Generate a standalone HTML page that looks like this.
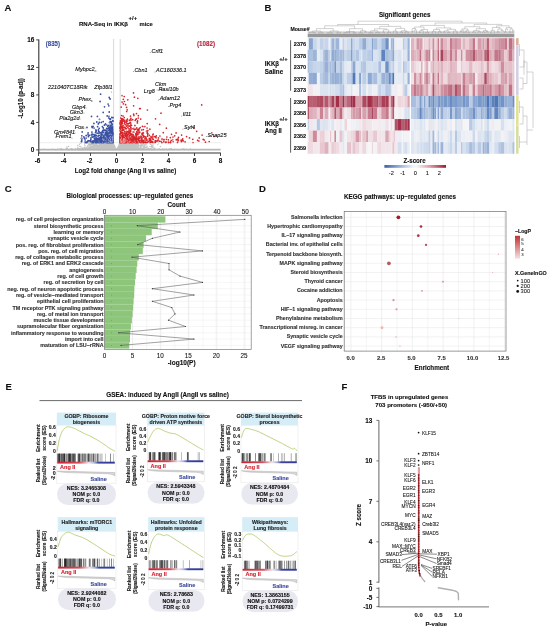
<!DOCTYPE html>
<html><head><meta charset="utf-8"><style>
html,body{margin:0;padding:0;background:#fff;}
svg{display:block;font-family:"Liberation Sans", sans-serif;filter:blur(0.3px);}
</style></head><body>
<svg width="550" height="631" viewBox="0 0 550 631" font-family='"Liberation Sans", sans-serif'>
<rect width="550" height="631" fill="#fff"/>
<text x="4.5" y="11.0" font-size="9.5" font-weight="bold" text-anchor="start" fill="#111" stroke="#111" stroke-width="0.12">A</text>
<text x="79.0" y="25.9" font-size="6.22" font-weight="bold" text-anchor="start" fill="#111" stroke="#111" stroke-width="0.12" textLength="49.0" lengthAdjust="spacingAndGlyphs">RNA-Seq in IKKβ</text>
<text x="128.6" y="19.9" font-size="6.2" font-weight="bold" text-anchor="start" fill="#111" stroke="#111" stroke-width="0.12" textLength="8.7" lengthAdjust="spacingAndGlyphs">+/+</text>
<text x="139.5" y="25.9" font-size="6.01" font-weight="bold" text-anchor="start" fill="#111" stroke="#111" stroke-width="0.12" textLength="13.3" lengthAdjust="spacingAndGlyphs">mice</text>
<line x1="113.6" y1="39.0" x2="113.6" y2="151.0" stroke="#c8c8c8" stroke-width="0.7"/>
<line x1="120.2" y1="39.0" x2="120.2" y2="151.0" stroke="#c8c8c8" stroke-width="0.7"/>
<line x1="39.5" y1="142.7" x2="220.5" y2="142.7" stroke="#cfcfcf" stroke-width="0.7" stroke-dasharray="1 1"/>
<rect x="39.50" y="148.80" width="181.00" height="1.80" fill="#c9c9c9"/>
<path d="M112.8 145.8h0M123.8 149.7h0M103.2 149.8h0M113.4 147.4h0M131.3 149.7h0M120.1 149.6h0M92.7 149.5h0M128.7 149.0h0M92.3 146.4h0M91.6 147.8h0M120.9 143.8h0M115.8 149.7h0M120.9 148.4h0M122.1 144.2h0M124.5 145.9h0M133.6 148.0h0M111.6 149.8h0M115.0 149.5h0M110.1 148.4h0M102.8 146.3h0M104.9 144.4h0M120.0 145.4h0M117.2 149.3h0M135.2 143.6h0M115.0 146.8h0M104.8 149.5h0M95.6 149.4h0M128.3 147.1h0M137.1 144.7h0M121.7 146.4h0M125.3 145.4h0M107.8 146.2h0M102.7 144.0h0M108.9 142.9h0M95.7 149.8h0M119.9 145.5h0M89.3 144.2h0M80.5 148.6h0M100.5 149.9h0M130.5 147.3h0M120.0 149.8h0M122.7 144.7h0M123.9 147.9h0M124.3 143.7h0M130.2 146.6h0M124.1 143.5h0M128.5 148.6h0M90.6 147.7h0M97.8 142.8h0M139.5 149.4h0M121.1 148.9h0M125.8 147.2h0M107.0 149.9h0M110.6 147.7h0M103.9 142.8h0M130.0 145.4h0M96.8 145.5h0M114.6 149.8h0M136.6 143.6h0M101.8 144.4h0M105.2 149.6h0M125.5 145.9h0M121.4 149.1h0M118.5 149.6h0M114.0 149.9h0M120.5 149.4h0M127.4 149.9h0M124.6 143.6h0M110.4 148.8h0M111.2 148.2h0M111.7 143.9h0M122.0 142.4h0M100.4 149.7h0M120.0 149.6h0M110.3 144.1h0M125.9 149.3h0M151.2 146.8h0M121.6 149.4h0M113.3 147.1h0M115.6 148.1h0M130.9 148.7h0M99.8 148.0h0M128.7 146.8h0M137.8 144.6h0M111.6 144.3h0M125.4 142.5h0M132.1 144.2h0M95.8 144.9h0M119.0 148.6h0M133.6 149.8h0M127.9 148.8h0M118.5 147.3h0M131.5 143.0h0M112.3 142.5h0M129.6 149.0h0M112.7 149.0h0M119.7 146.4h0M125.6 143.4h0M125.3 145.7h0M102.7 144.4h0M134.6 143.3h0M127.2 144.5h0M116.5 149.9h0M100.2 144.5h0M103.8 142.6h0M138.8 147.8h0M88.3 145.1h0M136.6 149.3h0M122.2 143.3h0M122.4 144.3h0M132.7 142.5h0M137.8 145.7h0M105.9 149.5h0M131.1 149.9h0M136.9 146.8h0M112.7 143.0h0M90.0 144.1h0M128.2 149.0h0M116.4 149.9h0M128.4 146.3h0M115.6 149.8h0M131.4 143.3h0M106.9 146.3h0M129.1 143.3h0M88.4 147.0h0M131.8 146.8h0M113.8 148.1h0M116.1 149.8h0M142.1 149.3h0M117.1 149.4h0M113.7 148.7h0M98.5 146.9h0M93.0 149.6h0M108.0 146.5h0M116.6 149.7h0M128.0 147.0h0M94.1 143.2h0M107.4 147.5h0M103.6 146.9h0M105.5 145.4h0M99.6 147.2h0M121.7 142.9h0M107.3 142.9h0M88.7 148.8h0M84.6 144.0h0M104.0 149.4h0M127.7 149.7h0M127.2 148.9h0M135.6 144.5h0M125.9 143.4h0M129.3 145.7h0M135.2 149.4h0M144.2 149.0h0M91.4 142.8h0M103.2 142.4h0M126.4 144.0h0M124.5 146.9h0M129.4 148.2h0M120.7 145.1h0M128.3 149.9h0M102.0 149.9h0M111.4 148.3h0M104.3 149.7h0M104.5 142.5h0M125.6 149.6h0M79.4 148.7h0M140.6 148.7h0M122.6 149.5h0M88.7 144.2h0M131.3 148.8h0M135.5 146.5h0M142.4 145.3h0M120.7 145.4h0M119.1 148.2h0M146.8 145.9h0M131.3 144.4h0M140.9 149.7h0M130.6 143.7h0M104.0 146.6h0M120.2 143.1h0M115.7 149.2h0M124.0 148.9h0M123.1 149.8h0M121.9 149.1h0M111.9 144.8h0M127.8 148.6h0M107.5 148.2h0M116.5 149.9h0M116.5 149.9h0M119.0 147.6h0M122.5 143.0h0M131.6 149.6h0M122.9 147.1h0M102.7 144.0h0M103.2 145.4h0M127.1 142.5h0M101.6 145.2h0M139.1 145.9h0M105.6 149.8h0M123.9 149.5h0M137.7 148.8h0M126.6 149.3h0M140.2 143.7h0M130.4 145.6h0M114.4 149.1h0M126.9 147.4h0M125.0 148.7h0M129.5 142.7h0M134.2 148.8h0M113.4 143.7h0M111.6 149.9h0M129.0 147.9h0M99.8 149.1h0M119.2 147.7h0M127.7 149.6h0M116.8 149.7h0M119.4 148.7h0M117.3 149.7h0M101.4 144.8h0M107.5 145.7h0M110.3 147.9h0M87.8 148.3h0M124.6 145.1h0M115.7 149.0h0M142.6 143.5h0M123.9 146.0h0M113.9 149.5h0M90.5 146.8h0M89.4 144.3h0M115.8 148.7h0M90.4 145.5h0M101.3 145.4h0M117.0 149.8h0M120.1 148.1h0M138.0 146.6h0M133.1 146.0h0M101.3 147.1h0M101.1 149.9h0M123.5 147.0h0M93.8 146.7h0M113.6 146.0h0M112.0 148.8h0M126.5 145.0h0M121.6 149.1h0M114.0 147.9h0M77.6 147.9h0M95.0 144.7h0M119.4 146.8h0M112.9 149.4h0M112.0 148.8h0M116.0 149.4h0M104.3 149.9h0M127.0 145.6h0M120.7 145.4h0M111.2 146.9h0M105.9 147.3h0M109.5 143.4h0M118.0 149.6h0M149.7 149.9h0M111.9 147.4h0M132.5 147.4h0M82.5 148.7h0M125.1 149.0h0M149.9 146.4h0M127.5 142.8h0M130.0 149.5h0M123.8 143.5h0M101.1 145.3h0M120.1 147.2h0M146.8 149.9h0M133.1 147.4h0M116.9 149.8h0M124.8 148.4h0M126.7 144.0h0M140.3 144.0h0M116.8 149.9h0M136.7 143.4h0M106.4 148.6h0M106.6 142.4h0M126.8 146.3h0M106.8 148.7h0M128.1 149.8h0M138.3 148.6h0M132.7 143.0h0M116.5 149.9h0M127.7 149.2h0M91.5 143.5h0M142.0 144.3h0M95.0 143.0h0M93.3 146.6h0M115.6 148.7h0M112.0 147.4h0M116.8 149.8h0M95.9 149.8h0M123.2 147.3h0M113.2 148.3h0M109.6 142.6h0M138.9 148.8h0M109.8 146.6h0M106.5 147.8h0M120.7 149.1h0M123.9 143.3h0M106.4 143.3h0M116.7 149.5h0M109.0 149.1h0M118.9 149.7h0M113.1 148.9h0M121.7 148.8h0M89.4 144.8h0M103.8 147.7h0M101.6 148.0h0M125.5 148.2h0M127.2 142.7h0M120.9 149.5h0M96.3 143.7h0M116.1 149.8h0M115.1 149.1h0M127.2 147.5h0M143.1 143.6h0M108.6 149.9h0M138.5 143.4h0M121.0 147.2h0M116.3 149.8h0M116.4 149.6h0M129.4 142.6h0M91.5 148.8h0M122.9 146.9h0M121.7 145.5h0M137.8 145.8h0M108.3 144.7h0M99.0 149.8h0M121.3 144.5h0M120.0 145.9h0M148.4 148.5h0M124.1 145.9h0M124.3 145.3h0M120.7 146.8h0M120.0 146.4h0M108.7 146.2h0M123.1 149.9h0M111.4 142.8h0M131.6 145.8h0M128.6 148.9h0M105.7 148.8h0M138.2 148.4h0M111.0 149.9h0M95.1 147.7h0M116.7 149.8h0M100.3 149.0h0M88.2 149.8h0M108.7 145.5h0M129.2 149.1h0M123.3 147.0h0M94.1 149.1h0M128.6 144.2h0M114.2 149.3h0M120.8 148.5h0M140.3 142.8h0M107.3 149.0h0M116.7 149.7h0M98.8 149.4h0M86.5 147.9h0M125.4 149.4h0M154.1 149.8h0M129.8 143.4h0M121.8 143.5h0M111.1 143.1h0M67.2 148.3h0M129.7 144.9h0M147.3 149.8h0M109.4 148.0h0M104.5 148.3h0M117.0 149.7h0M117.4 149.4h0M123.6 142.7h0M114.5 149.4h0M100.0 144.2h0M137.3 147.6h0M131.9 148.0h0M121.4 143.2h0M121.3 143.4h0M129.2 149.8h0M94.4 144.7h0M130.4 149.8h0M121.5 143.2h0M117.6 149.5h0M116.0 149.7h0M85.9 148.7h0M135.6 148.7h0M111.3 145.2h0M111.8 149.9h0M127.0 144.8h0M134.0 142.9h0M106.3 149.9h0M118.1 146.6h0M132.7 142.8h0M108.3 147.6h0M123.6 147.1h0M124.7 144.3h0M112.5 145.0h0M127.4 146.1h0M94.4 148.3h0M110.8 144.5h0M128.8 149.7h0M124.3 148.8h0M139.1 149.7h0M134.2 148.3h0M120.3 142.5h0M148.1 148.7h0M88.1 149.7h0M130.3 145.2h0M126.1 147.5h0M118.0 148.3h0M131.3 145.5h0M116.1 149.5h0M88.8 149.5h0M122.9 146.5h0M106.5 148.0h0M115.8 149.7h0M107.0 148.8h0M133.4 146.4h0M140.9 148.3h0M81.0 147.0h0M143.7 148.9h0M124.0 142.4h0M97.1 149.6h0M90.4 144.0h0M120.7 143.2h0M128.0 149.5h0M119.5 149.3h0M135.1 143.1h0M113.3 148.2h0M126.9 148.8h0M104.9 144.6h0M122.9 146.2h0M114.2 147.4h0M119.3 149.5h0M129.9 149.1h0M115.9 149.2h0M135.8 149.1h0M129.2 145.5h0M117.4 149.7h0M112.8 144.4h0M125.4 146.6h0M122.6 147.8h0M119.1 147.6h0M112.5 149.3h0M111.7 145.4h0M106.7 148.4h0M122.8 142.8h0M109.4 148.1h0M133.6 147.7h0M148.2 148.1h0M80.2 149.1h0M115.2 149.9h0M106.9 143.4h0M93.0 147.8h0M128.7 143.5h0M108.2 149.9h0M118.6 148.0h0M96.6 149.6h0M92.2 146.0h0M104.8 149.4h0M128.8 148.6h0M84.2 149.6h0M112.2 147.1h0M129.1 149.1h0M81.4 149.5h0M153.0 147.2h0M102.9 149.8h0M129.2 143.3h0M110.2 146.0h0M120.3 144.5h0M109.0 149.0h0M93.7 144.1h0M132.1 149.2h0M119.4 147.5h0M130.7 147.9h0M124.2 145.1h0M124.0 143.4h0M134.3 144.8h0M121.2 149.8h0M120.3 146.2h0M110.4 146.6h0M108.0 147.7h0M107.7 146.4h0M97.8 147.5h0M125.9 147.5h0M136.1 147.1h0M119.4 149.1h0M118.6 148.4h0M91.7 149.2h0M109.8 149.5h0M117.6 149.2h0M129.5 147.0h0M124.9 149.8h0M112.6 145.0h0M112.0 144.6h0M111.7 147.0h0M116.2 149.7h0M123.9 143.8h0M114.1 145.0h0M113.5 149.3h0M90.4 142.5h0M80.7 143.2h0M118.3 149.6h0M124.4 149.7h0M84.4 148.2h0M116.8 149.3h0M108.1 148.7h0M119.7 147.3h0M109.2 143.2h0M119.4 147.5h0M127.3 148.4h0M125.3 149.3h0M118.6 145.9h0M103.5 149.3h0M89.0 144.5h0M129.7 145.9h0M128.1 148.1h0M129.2 146.4h0M103.5 143.6h0M152.1 145.9h0M144.0 147.8h0M119.8 143.0h0M105.8 146.4h0M101.0 147.5h0M135.2 149.2h0M116.3 149.6h0M112.0 148.8h0M90.1 146.3h0M84.9 145.6h0M116.2 149.9h0M117.3 149.8h0M105.2 146.9h0M106.4 143.4h0M123.4 145.7h0M124.1 149.9h0M129.9 149.6h0M116.7 149.8h0M119.5 146.8h0M135.2 149.1h0M104.9 149.4h0M105.1 143.0h0M116.8 149.9h0M124.6 145.9h0M133.7 147.8h0M98.4 148.7h0M137.0 146.5h0M118.0 149.2h0M107.1 143.0h0M104.2 145.0h0M116.8 149.9h0M147.4 146.8h0M107.8 149.8h0M122.4 144.6h0M134.5 143.0h0M117.9 149.7h0M122.6 147.0h0M135.1 145.8h0M119.9 148.5h0M108.3 148.5h0M145.1 144.5h0M125.5 145.2h0M144.1 144.9h0M117.6 149.1h0M115.7 149.7h0M100.8 149.6h0M116.9 149.7h0M120.5 144.8h0M107.2 145.2h0M90.5 148.7h0M102.1 144.5h0M111.4 146.8h0M114.5 145.9h0M136.9 149.0h0M118.3 149.3h0M114.8 149.4h0M115.2 148.0h0M82.1 148.3h0M125.8 148.9h0M107.8 143.3h0M101.5 145.6h0M100.4 142.6h0M89.6 145.3h0M121.7 143.8h0M95.3 146.5h0M125.3 148.4h0M121.2 149.7h0M135.9 143.3h0M118.6 149.7h0M119.1 144.9h0M112.1 149.8h0M123.0 149.8h0M109.3 145.3h0M97.5 145.0h0M134.0 148.1h0M124.2 144.2h0M129.3 149.7h0M89.2 143.7h0M146.0 149.6h0M98.9 149.1h0M119.4 145.1h0M118.9 146.0h0M98.7 145.9h0M96.6 148.6h0M121.8 144.8h0M120.3 149.1h0M110.2 149.9h0M130.1 148.8h0M111.9 148.0h0M138.7 148.4h0M133.0 143.9h0M112.7 146.0h0M131.0 147.5h0M119.4 145.7h0M103.7 146.7h0M134.8 149.0h0M120.5 144.2h0M111.7 149.3h0M126.1 144.7h0M116.6 149.7h0M133.1 147.1h0M117.0 149.2h0M123.2 148.2h0M131.8 144.1h0M114.2 149.1h0M150.7 149.0h0M111.3 149.6h0M100.5 145.9h0M138.5 145.3h0M128.8 144.5h0M107.2 147.8h0M106.8 147.8h0M121.2 143.5h0M112.6 149.9h0M119.5 144.3h0M127.3 147.0h0M95.0 148.9h0M136.9 147.3h0M93.0 144.8h0M111.8 145.8h0M109.1 149.3h0M126.9 143.9h0M104.2 149.3h0M96.5 147.5h0M119.3 149.6h0M97.9 147.3h0M124.4 149.2h0M109.5 148.5h0M108.5 149.3h0M90.1 149.3h0M116.7 149.7h0M129.2 149.3h0M112.1 142.6h0M124.7 145.0h0M145.9 149.6h0M138.4 147.9h0M141.8 145.0h0M113.9 148.2h0M123.3 149.6h0M135.7 149.1h0M113.6 148.2h0M118.9 146.2h0M110.6 145.9h0M100.7 147.3h0M128.7 147.8h0M131.6 144.9h0M129.2 146.4h0M108.2 144.9h0M107.4 145.1h0M121.4 143.6h0M119.8 144.2h0M94.6 145.5h0M106.6 148.4h0M104.3 146.0h0M128.7 144.5h0M125.1 145.2h0M109.1 147.6h0M108.6 147.4h0M105.9 145.5h0M106.3 143.1h0M125.0 144.6h0M135.5 147.9h0M77.8 149.8h0M119.0 147.7h0M129.8 143.0h0M137.6 146.9h0M131.5 146.7h0M127.6 145.2h0M96.1 144.1h0M114.9 148.6h0M87.1 149.0h0M135.1 145.5h0M97.6 149.5h0M131.7 142.5h0M113.5 148.9h0M120.3 147.8h0M131.3 147.7h0M117.7 148.3h0M109.8 149.0h0M125.5 144.9h0M132.8 149.0h0M110.1 144.4h0M108.8 149.5h0M122.7 144.6h0M123.9 147.3h0M97.6 146.5h0M122.0 148.1h0M152.9 145.9h0M127.5 147.3h0M92.6 148.5h0M109.4 144.0h0M114.3 148.8h0M123.2 148.0h0M107.4 148.8h0M108.3 149.9h0M120.6 145.1h0M114.4 149.1h0M127.0 147.2h0M98.2 145.7h0M125.3 148.1h0M141.8 149.8h0M104.3 144.1h0M137.3 149.4h0M102.5 144.1h0M114.8 149.9h0M114.7 146.3h0M110.5 149.6h0M107.5 149.4h0M119.0 148.7h0M141.1 149.4h0M137.4 149.3h0M102.1 143.5h0M97.1 145.6h0M100.8 143.4h0M123.0 149.1h0M90.0 145.4h0M93.4 147.5h0M112.0 143.5h0M106.0 148.9h0M112.7 149.4h0M111.5 147.3h0M116.7 149.9h0M99.7 146.7h0M117.4 148.3h0M143.9 147.3h0M117.6 148.8h0M102.6 148.0h0M92.9 147.7h0M122.0 145.9h0M115.1 148.3h0M135.8 145.5h0M120.0 143.2h0M96.9 146.9h0M151.9 147.2h0M119.5 145.9h0M114.2 147.4h0M101.5 148.0h0M140.6 147.2h0M92.3 149.0h0M112.6 147.5h0M100.4 144.1h0M125.0 148.5h0M123.3 147.0h0M103.7 148.7h0M77.7 145.7h0M114.9 147.5h0M110.4 148.5h0M127.4 146.3h0M99.9 149.8h0M97.7 145.1h0M130.0 149.8h0M104.7 148.5h0M125.8 143.2h0M116.9 149.5h0M102.7 143.3h0M95.4 146.1h0M101.6 145.3h0M103.1 146.2h0M112.3 145.6h0M107.5 147.4h0M117.0 149.8h0M109.9 149.8h0M121.4 145.7h0M85.2 148.0h0M127.6 146.5h0M93.9 148.8h0M111.7 148.4h0M130.7 147.6h0M95.5 149.8h0M90.6 146.5h0M123.5 144.3h0M118.3 148.2h0M130.1 149.9h0M108.9 147.9h0M88.3 142.5h0M98.1 147.2h0M110.8 145.8h0M120.0 149.1h0M118.0 149.9h0M118.6 147.3h0M143.4 149.6h0M142.3 143.7h0M118.4 147.4h0M118.5 149.3h0M115.5 149.9h0M107.3 144.6h0M110.1 145.0h0M89.1 149.7h0M101.0 147.3h0M100.2 143.0h0M115.6 148.7h0M153.4 149.9h0M137.2 144.2h0M118.4 149.8h0M107.8 149.3h0M137.9 143.8h0M111.5 148.0h0M116.9 149.5h0M96.6 149.4h0M124.6 144.4h0M103.1 145.9h0M132.1 147.7h0M97.6 142.9h0M133.0 144.5h0M105.6 149.8h0M111.7 142.6h0M108.7 148.3h0M90.8 146.2h0M143.2 146.2h0M112.7 148.4h0M89.5 148.0h0M129.5 145.4h0M92.1 144.3h0M98.3 148.6h0M127.7 147.6h0M116.6 149.8h0M128.5 149.8h0M89.1 144.0h0M127.4 146.4h0M89.9 148.7h0M131.9 145.5h0M95.6 143.2h0M113.1 146.7h0M121.4 144.4h0M123.8 143.1h0M139.2 148.9h0M99.7 147.3h0M103.1 149.1h0M115.8 148.8h0M140.3 147.4h0M138.6 144.6h0M130.1 148.9h0M89.7 143.5h0M101.9 146.9h0M97.6 149.2h0M119.3 149.3h0M125.9 148.1h0M136.6 146.5h0M102.4 149.4h0M126.4 149.8h0M130.3 149.6h0M116.3 149.6h0M118.4 147.9h0M108.4 148.2h0M113.6 149.8h0M116.1 149.2h0M127.5 146.5h0M104.2 148.7h0M119.2 144.5h0M101.7 144.7h0M131.9 148.8h0M83.1 149.8h0M119.2 149.7h0M125.1 149.8h0M89.4 147.4h0M106.3 142.9h0M120.9 146.2h0M113.7 148.3h0M142.9 148.8h0M141.3 146.5h0M93.8 145.6h0M88.8 147.9h0M108.5 142.7h0M119.2 144.3h0M117.2 149.7h0M120.5 148.1h0M141.9 144.0h0M98.7 149.8h0M121.6 145.8h0M94.6 142.5h0M124.0 144.8h0M119.2 144.6h0M111.2 146.3h0M105.7 144.8h0M126.5 148.8h0M124.3 149.5h0M107.9 148.9h0M117.5 149.8h0M115.5 148.6h0M114.5 149.5h0M148.4 149.0h0M123.9 143.0h0M136.6 149.4h0M94.2 147.4h0M143.5 144.0h0M135.3 146.0h0M104.0 144.1h0M120.3 147.2h0M111.0 149.0h0M110.8 149.8h0M112.4 149.4h0M98.8 143.7h0M115.0 149.7h0M131.2 148.7h0M123.4 149.3h0M105.6 147.1h0M103.7 149.5h0M144.6 142.6h0M144.9 145.6h0M127.1 149.0h0M104.9 148.8h0M118.2 149.5h0M87.6 142.4h0M149.6 143.1h0M126.2 143.4h0M123.3 149.8h0M114.7 146.3h0M104.7 149.9h0M121.1 149.4h0M104.3 149.9h0M125.1 149.2h0M101.3 147.5h0M125.0 146.4h0M111.2 149.4h0M126.9 145.2h0M138.7 149.1h0M121.9 146.1h0M119.4 147.6h0M115.0 148.4h0M126.1 145.2h0M123.6 149.1h0M99.0 149.7h0M114.9 147.8h0M101.9 149.8h0M121.3 144.0h0M104.5 143.7h0M114.0 145.2h0M116.6 149.8h0M124.3 149.2h0M108.4 144.1h0M110.8 148.0h0M122.8 146.2h0M133.8 147.5h0M117.0 149.5h0M132.9 144.2h0M132.1 143.7h0M106.8 147.9h0M136.8 144.8h0M143.4 142.8h0M127.4 147.1h0M99.0 146.7h0M115.0 149.9h0M126.5 149.2h0M114.4 149.7h0M116.4 149.9h0M142.9 149.6h0M113.5 149.9h0M107.6 146.2h0M101.1 145.3h0M108.5 149.6h0M132.0 149.8h0M99.9 149.5h0M99.7 148.6h0M117.2 149.8h0M110.1 146.3h0M120.8 143.8h0M127.7 144.9h0M131.4 149.3h0M132.0 147.9h0M86.6 147.7h0M125.8 147.8h0M101.7 143.0h0M118.7 149.3h0M103.7 148.3h0M79.4 144.3h0M132.4 143.2h0M127.5 149.8h0M91.0 146.9h0M148.7 148.8h0M107.8 147.6h0M107.3 146.8h0M106.4 149.7h0M101.0 149.9h0M123.4 149.4h0M140.8 143.0h0M111.8 145.9h0M127.3 143.5h0M88.8 149.8h0M109.4 145.5h0M107.8 148.7h0M85.1 146.0h0M108.0 148.8h0M101.4 142.9h0M114.6 149.2h0M109.5 149.5h0M135.9 146.3h0M133.0 148.7h0M111.8 147.3h0M108.6 149.5h0M114.8 149.7h0M112.5 148.6h0M130.6 148.9h0M131.8 144.0h0M125.9 146.1h0M97.8 149.1h0M107.7 145.2h0M99.0 146.1h0M120.9 147.3h0M112.5 149.0h0M126.4 146.9h0M102.4 149.9h0M129.2 148.1h0M123.3 146.6h0M108.4 147.1h0M107.3 148.5h0M157.8 144.6h0M119.4 144.9h0M121.0 147.5h0M129.6 147.5h0M121.9 145.0h0M124.4 142.8h0M123.0 145.0h0M123.8 148.1h0M127.2 145.5h0M95.8 144.2h0M97.9 146.9h0M114.8 147.5h0M93.0 147.2h0M121.4 143.2h0M94.6 149.5h0M117.4 148.6h0M115.5 148.9h0M79.8 146.4h0M117.0 149.6h0M122.6 146.1h0M88.1 148.0h0M101.4 145.1h0M121.2 148.5h0M102.4 147.9h0M128.0 148.4h0M122.9 147.0h0M89.4 147.5h0M121.4 149.4h0M127.6 146.4h0M111.2 143.2h0M113.5 148.6h0M131.6 142.8h0M93.8 149.1h0M88.4 149.9h0M130.5 149.8h0M101.1 143.2h0M109.8 144.6h0M66.9 146.9h0M104.3 146.9h0M110.9 148.1h0M103.5 146.2h0M95.9 145.5h0M144.5 146.8h0M127.8 147.8h0M124.6 146.5h0M90.2 142.7h0M103.3 147.1h0M97.9 142.4h0M123.8 148.2h0M90.7 149.3h0M111.5 148.4h0M143.0 146.9h0M112.9 149.6h0M133.7 144.2h0M103.0 142.4h0M127.9 149.3h0M106.8 148.6h0M99.6 149.2h0M115.3 149.7h0M103.2 148.1h0M102.3 142.4h0M113.7 148.2h0M113.3 145.1h0M108.9 149.9h0M137.0 148.5h0M126.9 145.6h0M100.6 149.1h0M98.3 148.7h0M116.7 149.6h0M68.6 146.4h0M106.9 147.7h0M122.5 144.8h0M122.3 149.6h0M123.6 146.9h0M121.6 144.1h0M96.8 149.7h0M99.6 149.9h0M118.1 147.7h0M104.0 148.1h0M122.0 149.6h0M126.3 143.3h0M105.0 147.4h0M110.0 147.9h0M144.8 146.3h0M126.6 142.8h0M98.0 148.8h0M123.9 149.8h0M142.0 148.4h0M104.7 143.4h0M121.4 146.2h0M105.4 142.8h0M81.5 148.9h0M117.5 149.3h0M114.5 149.1h0M106.6 143.6h0M91.3 148.9h0M119.0 149.4h0M110.7 142.6h0M123.6 148.6h0M110.0 146.8h0M113.8 148.4h0M112.2 149.5h0M119.5 145.0h0M110.1 149.2h0M125.1 148.6h0M116.8 149.5h0M120.3 148.2h0M129.0 149.6h0M135.1 148.7h0M120.3 147.5h0M110.1 144.0h0M119.3 148.5h0M108.6 145.1h0M90.7 149.1h0M141.7 142.9h0M106.2 147.4h0M116.2 149.9h0M113.5 144.4h0M105.8 146.3h0M109.2 146.1h0M124.4 149.0h0M121.6 146.9h0M111.2 146.7h0M113.4 148.2h0M140.9 145.7h0M105.3 147.9h0M111.4 149.7h0M128.8 148.4h0M141.5 145.6h0M130.7 148.1h0M128.1 147.0h0M115.0 149.3h0M121.6 149.0h0M132.4 148.6h0M132.7 147.8h0M137.3 143.5h0M103.1 143.8h0M124.3 149.8h0M125.0 145.5h0M109.6 147.7h0M105.1 145.7h0M113.1 144.2h0M106.2 148.1h0M110.3 149.5h0M109.9 143.2h0M114.2 149.8h0M94.0 149.8h0M121.5 148.5h0M124.6 147.9h0M128.5 145.9h0M119.5 149.3h0M126.4 145.2h0M100.8 148.8h0M96.6 148.2h0M125.1 149.9h0M129.0 148.6h0M95.1 149.8h0M128.4 149.8h0M101.0 148.8h0M135.9 149.0h0M132.8 143.2h0M116.5 149.9h0M110.4 147.8h0M116.1 149.8h0M89.6 149.6h0M130.7 143.1h0M111.5 145.4h0M114.6 147.8h0M89.6 147.4h0M137.4 147.6h0M123.9 146.9h0M123.2 144.7h0M113.2 149.8h0M108.9 148.7h0M91.7 146.7h0M136.5 146.7h0M112.6 148.8h0M129.0 147.7h0M121.4 149.1h0M113.6 146.2h0M123.7 145.6h0M117.3 149.2h0M127.1 147.5h0M128.7 148.5h0M111.3 143.5h0M128.1 148.3h0M130.8 144.2h0M93.4 149.3h0M109.3 145.6h0M103.6 144.7h0M107.3 144.1h0M125.4 148.1h0M124.3 149.1h0M127.3 149.1h0M120.8 145.3h0M109.9 148.3h0M118.7 148.3h0M110.8 149.7h0M123.1 149.9h0M140.3 149.7h0M115.3 148.3h0M134.8 149.6h0M114.2 148.1h0M108.0 146.7h0M120.2 149.9h0M134.5 146.0h0M106.5 143.0h0M110.2 148.8h0M107.6 149.4h0M140.8 144.0h0M120.8 148.5h0M124.5 143.9h0M135.2 143.1h0M128.8 144.1h0M138.3 144.9h0M112.3 144.1h0M124.6 148.4h0M104.2 148.0h0M129.8 144.1h0M116.8 149.6h0M120.6 146.0h0M126.0 143.3h0M96.3 142.9h0M99.7 149.3h0M117.1 149.7h0M111.4 145.4h0M113.6 149.4h0M81.0 149.6h0M129.7 149.8h0M107.9 145.1h0M120.0 149.9h0M131.7 144.5h0M92.8 147.6h0M112.1 146.9h0M137.1 147.6h0M108.4 145.6h0M129.5 144.1h0M123.6 148.5h0M111.6 147.5h0M104.3 149.1h0M111.4 149.7h0M109.4 142.6h0M130.7 143.3h0M142.2 142.7h0M87.5 146.0h0M118.4 147.6h0M111.8 146.1h0M111.1 142.8h0M134.3 147.2h0M109.2 148.2h0M106.9 143.5h0M125.6 145.5h0M118.1 148.8h0M134.6 148.0h0M127.2 146.4h0M101.3 146.5h0M125.3 147.8h0M123.3 143.5h0M122.4 146.6h0M138.2 148.8h0M135.0 149.6h0M105.8 147.1h0M114.4 148.0h0M119.2 149.6h0M134.9 146.9h0M111.5 147.7h0M113.4 149.7h0M90.0 146.6h0M127.1 145.2h0M116.8 149.3h0M109.5 145.1h0M138.1 147.9h0M132.6 149.3h0M134.3 144.6h0M111.9 149.4h0M117.3 149.7h0M111.6 148.0h0M135.6 149.0h0M118.3 149.2h0M112.5 143.5h0M102.0 146.0h0M129.3 143.2h0M103.3 143.7h0M128.2 148.2h0M137.1 144.7h0M105.2 149.5h0M92.3 148.0h0M113.7 146.2h0M81.8 149.8h0M111.3 146.6h0M112.5 144.3h0M141.2 145.5h0M137.7 148.8h0M121.9 144.0h0M131.1 146.4h0M118.7 149.7h0M118.4 146.9h0M123.7 148.6h0M133.2 145.4h0M110.7 143.6h0M121.9 146.7h0M106.9 142.9h0M92.4 149.9h0M112.0 147.0h0M123.3 143.6h0M117.7 149.7h0M112.8 144.2h0M110.4 147.2h0M103.6 149.3h0M124.5 143.6h0M104.7 146.1h0M127.9 149.0h0M122.4 143.4h0M112.9 149.3h0M114.2 148.7h0M98.1 147.9h0M120.3 148.1h0M135.3 148.3h0M117.2 149.9h0M75.9 149.8h0M127.1 149.4h0M111.1 148.7h0M106.5 147.0h0M115.1 148.7h0M135.0 142.8h0M120.3 146.5h0M116.3 149.6h0M133.7 145.9h0M98.8 145.9h0M108.9 144.4h0M125.3 143.6h0M136.5 148.5h0M108.4 144.7h0M115.4 148.6h0M99.5 148.2h0M102.6 149.8h0M111.9 148.2h0M97.5 147.2h0M154.8 148.0h0M116.9 149.7h0M127.0 149.4h0M145.4 147.4h0M117.8 149.0h0M105.5 149.3h0M111.4 149.7h0M112.6 145.1h0M128.1 146.6h0M128.6 143.2h0M111.5 146.3h0M124.4 146.4h0M120.8 142.5h0M101.1 147.6h0M135.8 143.7h0M131.5 143.4h0M123.3 148.7h0M116.4 149.9h0M119.6 148.9h0M113.7 148.2h0M106.9 149.1h0M93.7 145.8h0M99.3 149.1h0M112.8 146.2h0M79.9 149.7h0M127.2 148.2h0M89.3 149.4h0M123.2 143.6h0M132.9 145.9h0M125.2 148.3h0M111.9 144.9h0M107.9 145.5h0M104.8 148.2h0M130.3 149.8h0M121.7 146.0h0M108.0 146.2h0M130.9 148.8h0M114.2 145.5h0M117.0 149.4h0M121.3 146.1h0M116.1 149.4h0M113.5 149.4h0M122.1 149.4h0M117.2 148.8h0M110.3 147.6h0M98.0 146.6h0M111.9 145.7h0M106.2 144.9h0M108.9 148.8h0M110.7 144.6h0M92.9 148.4h0M122.1 147.4h0M77.5 148.6h0M82.8 149.5h0M111.5 149.9h0M95.9 144.6h0M119.7 148.3h0M126.8 144.8h0M115.8 149.9h0M124.1 149.8h0M117.8 148.8h0M108.0 143.0h0M113.4 148.3h0M121.8 145.0h0M123.7 143.2h0M118.3 147.2h0M119.5 149.0h0M133.2 145.9h0M114.6 149.0h0M121.5 148.3h0M101.4 143.3h0M134.6 149.7h0M131.1 145.8h0M93.2 149.8h0M133.0 146.5h0M89.4 142.9h0M133.7 146.0h0M118.3 149.3h0M127.3 147.6h0M117.6 148.3h0M126.1 145.8h0M102.7 149.0h0M160.4 146.5h0M132.3 143.7h0M140.3 148.7h0M116.8 149.8h0M89.9 148.3h0M86.5 149.3h0M119.2 146.5h0M103.7 146.4h0M107.5 143.5h0M123.9 148.1h0M145.2 144.6h0M122.4 143.7h0M109.6 142.4h0M115.6 149.8h0M119.5 143.7h0M147.9 149.4h0M118.4 147.3h0M123.6 145.5h0M121.5 149.6h0M99.4 145.2h0M143.6 143.6h0M120.2 148.9h0M116.0 149.2h0M115.0 148.7h0M112.8 148.9h0M110.4 149.9h0M119.3 144.0h0M104.6 149.5h0M143.3 147.1h0M126.4 149.2h0M127.9 145.4h0M130.5 147.0h0M135.3 149.5h0M106.4 143.2h0M129.8 148.2h0M124.6 143.5h0M153.0 145.0h0M115.2 149.5h0M125.3 149.7h0M132.9 147.7h0M121.1 146.6h0M115.1 148.2h0M118.1 148.1h0M99.1 145.4h0M111.6 142.5h0M132.5 147.8h0M100.3 148.4h0M82.9 147.9h0M135.2 147.9h0M109.8 142.4h0M120.8 149.9h0M91.1 148.8h0M96.0 146.1h0M108.9 149.1h0M123.9 149.5h0M130.3 143.3h0M95.6 149.8h0M112.1 145.8h0M104.6 146.6h0M101.2 149.9h0M151.5 144.9h0M126.8 146.3h0M102.9 142.4h0M118.5 147.2h0M136.6 148.0h0M113.1 147.0h0M102.6 146.1h0M110.9 145.9h0M105.2 146.7h0M119.8 148.8h0M135.9 143.3h0M94.0 146.9h0M120.3 147.2h0M117.9 147.2h0M124.3 146.8h0M99.2 144.2h0M113.9 149.2h0M129.0 147.3h0M140.0 145.8h0M130.7 143.7h0M89.7 149.8h0M96.7 144.2h0M134.8 149.5h0M122.7 149.6h0M125.5 148.1h0M122.2 147.4h0M100.1 149.6h0M77.9 145.4h0M146.2 147.4h0M91.1 144.8h0M120.0 149.4h0M110.7 146.9h0M104.1 148.9h0M107.5 147.9h0M126.0 149.9h0M122.2 149.8h0M134.2 149.2h0M114.2 148.9h0M105.3 148.9h0M119.7 146.4h0M111.1 143.8h0M121.0 144.4h0M130.8 146.0h0M113.5 147.9h0M119.6 148.3h0M113.7 148.2h0M104.9 145.8h0M121.5 147.9h0M104.1 146.4h0M124.8 142.6h0M112.3 145.2h0M101.8 148.3h0M131.7 149.7h0M117.0 149.4h0M102.5 147.1h0M136.1 149.9h0M102.5 146.3h0M101.0 144.0h0M120.2 147.7h0M86.8 147.5h0M121.5 147.1h0M89.9 145.6h0M114.5 147.2h0M113.1 145.8h0M118.9 147.7h0M119.5 149.6h0M92.2 149.0h0M139.8 149.6h0M128.8 149.6h0M116.9 149.9h0M98.1 145.5h0M112.5 149.8h0M100.6 145.4h0M100.0 142.4h0M125.8 144.2h0M122.1 148.3h0M110.7 146.9h0M159.3 148.7h0M118.1 149.4h0M112.3 143.8h0M126.6 146.6h0M101.6 149.8h0M115.5 149.5h0M133.7 143.8h0M97.4 148.8h0M117.9 148.7h0M121.0 148.0h0M100.3 146.3h0M120.2 148.1h0M119.5 144.2h0M107.4 146.6h0M128.3 146.8h0M120.4 147.7h0M104.9 148.7h0M111.5 144.4h0M110.7 144.3h0M138.3 146.3h0M84.4 147.5h0M125.9 143.6h0M130.8 145.9h0M121.9 149.8h0M120.1 146.2h0M112.3 149.2h0M132.7 144.4h0M107.9 147.0h0M106.6 148.5h0M97.5 149.0h0M120.7 143.2h0M109.7 149.1h0M121.7 144.5h0M120.3 142.9h0M98.5 148.8h0M127.2 143.3h0M113.2 149.8h0M108.9 145.3h0M142.8 148.5h0M123.6 148.9h0M105.6 146.5h0M110.3 149.3h0M127.3 144.0h0M109.8 149.4h0M128.7 147.9h0M78.4 149.8h0M101.6 149.0h0M130.5 146.7h0M129.8 145.0h0M125.4 147.6h0M113.5 145.0h0M110.1 149.5h0M158.7 143.0h0M94.4 146.8h0M113.2 145.2h0M129.3 147.1h0M122.2 147.2h0M113.8 145.3h0M101.9 149.6h0M106.2 149.4h0M112.5 143.9h0M146.5 149.0h0M119.8 146.5h0M114.8 146.5h0M97.3 145.7h0M145.0 149.8h0M108.7 148.8h0M130.0 144.9h0M127.4 148.5h0M139.2 149.7h0M110.5 146.6h0M114.2 146.4h0M103.4 149.8h0M107.5 146.9h0M133.4 149.5h0M128.3 146.4h0M108.2 145.6h0M127.6 149.3h0M133.0 148.3h0M146.3 144.0h0M128.0 149.4h0M104.8 149.6h0M121.7 147.1h0M111.6 146.7h0M128.4 149.3h0M127.3 146.7h0M102.8 149.1h0M115.9 149.6h0M118.6 149.3h0M123.6 143.7h0M86.4 149.9h0M116.2 149.2h0M91.3 146.5h0M118.3 147.6h0M119.6 149.4h0M140.1 148.7h0M130.5 146.9h0M119.3 148.9h0M121.1 146.4h0M112.7 148.9h0M95.8 145.2h0M102.4 149.7h0M117.0 148.8h0M135.8 149.8h0M100.3 144.2h0M101.7 148.2h0M122.4 143.2h0M101.7 149.9h0M130.2 147.8h0M111.1 149.6h0M117.3 149.0h0M139.8 149.4h0M112.1 149.1h0M123.0 149.0h0M97.5 142.4h0M150.6 144.4h0M99.9 144.6h0M118.6 146.0h0M116.7 149.9h0M96.2 146.0h0M130.7 149.6h0M95.8 145.1h0M111.5 142.7h0M123.4 145.6h0M116.3 149.6h0M108.8 143.0h0M136.0 144.0h0M103.2 144.3h0M103.6 144.1h0M108.3 144.5h0M124.8 142.7h0M107.8 146.8h0M123.2 142.7h0M114.1 146.3h0M116.2 149.8h0M143.8 149.1h0M106.4 147.1h0M119.2 144.8h0M107.6 147.9h0M95.8 144.5h0M122.4 142.9h0M95.6 144.1h0M111.4 145.7h0M119.9 144.3h0M106.2 144.0h0M132.8 144.4h0M133.1 149.9h0M117.0 149.9h0M122.2 146.2h0M102.7 147.4h0M111.4 148.1h0M125.0 143.9h0M107.8 149.6h0M108.4 148.7h0M111.8 145.7h0M101.8 144.3h0M132.2 149.8h0M131.4 144.1h0M121.1 142.8h0M126.9 148.1h0M121.3 146.1h0M146.1 143.4h0M103.2 142.8h0M126.9 147.0h0M125.7 144.1h0M115.8 149.8h0M116.1 149.8h0M116.4 149.8h0M91.5 148.8h0M123.8 148.1h0M131.1 143.8h0M127.2 146.9h0M93.0 143.4h0M139.5 145.6h0M134.3 147.5h0M125.7 142.8h0M102.9 145.9h0M132.6 148.0h0M95.2 143.3h0M113.5 147.5h0M90.9 149.8h0M146.0 144.0h0M109.1 147.4h0M99.8 144.8h0M134.4 144.8h0M101.9 149.8h0M113.0 142.9h0M123.4 143.5h0M128.2 146.4h0M131.5 149.8h0M98.0 145.8h0M131.4 148.6h0M117.4 149.1h0M104.7 147.6h0M137.0 144.3h0M113.7 146.4h0M89.7 145.2h0M141.6 145.4h0M115.0 148.5h0M124.9 144.1h0M120.1 149.4h0M103.8 146.9h0M122.6 145.0h0M110.6 149.3h0M114.7 149.2h0M120.9 147.9h0M152.3 149.2h0M109.0 148.4h0M125.4 148.4h0M113.2 147.7h0M125.1 147.8h0M123.5 147.9h0M127.5 149.1h0M113.9 145.2h0M90.6 145.9h0M124.9 144.6h0M109.4 149.5h0M118.1 149.1h0M73.1 149.5h0M116.9 149.3h0M71.2 148.7h0M91.2 149.8h0M100.0 149.5h0M117.7 149.7h0M135.2 149.1h0M71.6 148.6h0M114.2 149.4h0M152.1 149.5h0M117.6 148.9h0M68.1 149.2h0M136.9 149.5h0M66.4 148.5h0M84.6 149.1h0M121.3 149.2h0M164.3 149.5h0M99.5 149.3h0M126.4 149.3h0M141.3 148.6h0M79.4 149.7h0M83.9 148.6h0M135.5 149.4h0M146.0 149.6h0M55.5 149.9h0M96.3 149.1h0M83.0 149.4h0M107.5 148.6h0M130.8 148.6h0M143.6 149.1h0M117.5 149.1h0M170.1 149.0h0M114.0 148.6h0M78.5 148.8h0M149.5 149.1h0M104.2 149.0h0M114.7 149.6h0M70.2 149.1h0M113.4 149.4h0M118.8 149.6h0M78.5 148.2h0M126.0 149.3h0M112.7 149.6h0M131.1 149.4h0M160.4 149.9h0M132.6 149.5h0M148.1 149.6h0M63.2 149.5h0M173.2 149.6h0M133.6 149.6h0M97.0 149.4h0M96.8 149.1h0M127.6 148.7h0M131.7 148.6h0M130.5 149.1h0M169.6 149.7h0M152.9 149.8h0M106.5 149.8h0M82.2 149.1h0M89.3 149.5h0M75.0 149.8h0M125.8 148.5h0M172.8 149.9h0M143.6 149.8h0M128.5 149.9h0M99.9 149.8h0M71.2 149.6h0M107.6 149.2h0M105.5 149.5h0M95.7 149.6h0M134.0 148.8h0M83.1 149.8h0M132.2 148.9h0M124.6 149.4h0M71.4 149.5h0M167.5 149.7h0M182.9 149.4h0M108.0 148.8h0M136.0 149.7h0M178.6 149.8h0M108.8 148.9h0M114.0 149.3h0M139.3 149.1h0M143.1 149.9h0M135.1 149.8h0M75.5 148.7h0M128.0 149.2h0M128.4 149.7h0M147.2 148.9h0M133.6 148.9h0M87.3 148.6h0M125.1 149.7h0M127.3 149.1h0M102.1 149.8h0M139.5 148.4h0M125.6 149.5h0M43.6 149.2h0M112.4 149.8h0M86.0 149.4h0M61.1 149.8h0M120.2 149.7h0M156.8 149.8h0M119.4 149.3h0M68.5 149.7h0M118.6 149.2h0M91.7 149.4h0M128.4 148.9h0M70.7 148.9h0M120.8 149.8h0M138.9 149.3h0M99.4 149.2h0M141.9 149.6h0M131.3 149.0h0M127.7 149.2h0M79.6 149.7h0M120.8 149.9h0M106.3 149.2h0M122.3 149.4h0M72.8 149.8h0M161.6 149.6h0M83.6 149.0h0M169.6 149.7h0M110.0 149.8h0M208.1 149.8h0M147.4 149.6h0M60.0 149.1h0M78.2 149.6h0M119.8 148.7h0M108.1 149.7h0M118.8 149.8h0M188.5 149.7h0M162.2 149.0h0M97.6 149.4h0M104.7 149.8h0M121.4 149.9h0M101.9 148.8h0M108.3 149.4h0M168.7 149.5h0M148.4 148.9h0M150.3 148.7h0M72.1 148.6h0M117.4 148.7h0M96.6 148.9h0M115.8 148.9h0M85.2 149.7h0M121.4 149.4h0M109.2 149.8h0M118.8 149.9h0M109.6 149.3h0M66.5 149.6h0M120.7 149.6h0M99.3 149.6h0M123.0 149.0h0M110.7 149.7h0M127.6 149.7h0M56.2 149.7h0M104.7 149.5h0M136.1 149.9h0M98.9 148.4h0M62.9 149.9h0M112.8 149.6h0M123.5 149.6h0M77.1 149.1h0M112.2 149.1h0M140.1 149.0h0M60.6 149.8h0M61.2 148.8h0M85.6 149.9h0M108.9 149.3h0M61.4 148.6h0M143.5 149.2h0M184.0 148.9h0M134.0 149.9h0M142.9 149.5h0M139.0 149.3h0M135.4 148.9h0M111.1 148.8h0M94.6 148.8h0M116.9 149.3h0M116.6 149.2h0M138.9 149.8h0M169.6 148.9h0M91.1 148.9h0M126.7 148.5h0M127.1 149.1h0M162.6 149.1h0M99.4 149.0h0M90.5 149.3h0M134.6 149.8h0M72.1 149.7h0M45.1 149.5h0M58.8 149.1h0M86.3 148.2h0M134.7 149.6h0M100.7 148.4h0M140.6 149.9h0M96.4 147.9h0M131.5 149.2h0M98.0 148.9h0M115.2 148.8h0M116.7 149.4h0M163.6 149.7h0M122.6 149.4h0M160.2 149.7h0M78.2 149.4h0M77.2 149.3h0M112.7 149.7h0M121.4 149.9h0M105.4 149.6h0M144.1 149.4h0M163.2 149.7h0M108.7 148.7h0M122.8 149.6h0M106.0 149.2h0M103.9 149.2h0M114.6 149.6h0M142.5 149.6h0M120.4 149.8h0M127.1 149.5h0M151.0 148.9h0M104.5 149.4h0M136.7 149.9h0M131.6 149.7h0M94.1 149.1h0M106.1 149.5h0M125.2 149.7h0M147.0 149.8h0M93.1 149.2h0M118.4 149.7h0M177.3 149.8h0M171.3 148.6h0M83.8 149.1h0M152.0 149.0h0M116.2 149.2h0M101.5 149.9h0M117.1 148.7h0M109.8 149.2h0M118.6 149.4h0M124.1 149.4h0M94.3 149.5h0M94.3 149.3h0M123.4 149.7h0M85.8 148.8h0M117.2 149.7h0M102.2 149.8h0M68.9 149.6h0M129.5 149.7h0M97.4 149.8h0M120.6 149.2h0M125.1 149.7h0M93.9 149.3h0M153.1 149.6h0M136.4 149.7h0M115.0 149.0h0M171.3 148.6h0M126.0 149.6h0M152.2 149.6h0M117.7 149.5h0M130.7 149.5h0M137.7 149.6h0M147.3 149.5h0M115.1 149.6h0M90.4 149.7h0M129.2 148.9h0M106.4 149.6h0M152.1 149.8h0M118.5 149.8h0M95.0 149.2h0M151.3 149.8h0M114.2 149.0h0M120.2 149.1h0M80.7 149.3h0M151.0 148.9h0M164.8 149.5h0M135.2 149.4h0M132.7 149.7h0M122.6 149.0h0M127.0 149.7h0M118.2 149.7h0M100.6 149.8h0M135.1 148.8h0M52.5 149.1h0M78.1 149.3h0M192.2 149.8h0M120.3 149.1h0M40.8 149.8h0M121.3 149.6h0M101.5 149.7h0M98.4 149.1h0M116.4 149.6h0M195.2 149.6h0M145.2 149.3h0M155.2 149.2h0M120.8 149.2h0M166.3 149.0h0M116.5 149.9h0M150.8 148.9h0M97.8 149.6h0M134.1 148.6h0M170.9 149.7h0M130.2 149.0h0M110.8 149.7h0M109.5 149.9h0M135.3 149.3h0M99.0 148.7h0M151.9 149.2h0M63.9 149.4h0M109.9 149.2h0M105.1 148.5h0M138.6 149.8h0M120.1 149.8h0M141.5 148.5h0M103.5 149.2h0M134.9 149.2h0M70.5 149.4h0M85.8 149.5h0M132.1 149.4h0M81.8 149.4h0M53.1 149.5h0M111.7 148.6h0M147.1 149.5h0M108.1 149.7h0M94.1 149.8h0M146.2 148.9h0M109.5 148.9h0M139.3 149.3h0M91.7 149.3h0M67.1 149.1h0M118.6 149.4h0M72.4 149.6h0M100.8 148.7h0M102.4 149.8h0M149.4 149.4h0M110.9 148.4h0M159.6 149.5h0M103.2 149.8h0M87.2 149.3h0M71.0 149.6h0M132.4 149.8h0M140.4 149.5h0M120.2 149.3h0M134.6 149.1h0M135.9 149.1h0M102.0 149.2h0M154.9 149.5h0M123.9 149.8h0M117.2 149.7h0M100.0 148.7h0M174.9 149.8h0M57.5 149.3h0M82.0 149.4h0M134.1 148.8h0M109.0 149.4h0M134.9 149.1h0M153.8 148.8h0M98.9 149.7h0M154.9 149.8h0M112.7 149.4h0M119.3 149.9h0M138.8 149.0h0M139.0 149.9h0M111.8 148.8h0M122.6 149.9h0M171.4 148.8h0M133.9 149.8h0M97.1 149.2h0M102.7 149.3h0M92.6 149.8h0M128.8 149.8h0M123.6 149.6h0M82.2 149.2h0M112.0 148.7h0M112.7 149.3h0M96.4 149.9h0M152.6 149.5h0M133.6 149.8h0M105.6 149.3h0M111.9 149.4h0M132.9 148.7h0M150.9 149.4h0M134.1 148.9h0M134.9 148.8h0M118.1 149.6h0M95.7 149.1h0M129.7 149.6h0M103.5 149.7h0M101.1 149.5h0M114.7 149.2h0M67.5 149.7h0M165.6 149.7h0M121.2 149.3h0M86.0 149.1h0M66.0 148.9h0M124.1 149.3h0M103.8 149.4h0M128.8 149.5h0M124.3 148.6h0M99.9 148.2h0M123.9 149.3h0M96.6 148.9h0M156.7 149.6h0M124.9 149.8h0M98.7 149.9h0M174.6 149.3h0M96.4 149.8h0M143.6 149.3h0M87.1 149.8h0M108.5 149.1h0M118.9 149.6h0M144.4 149.6h0M92.8 149.8h0M105.7 149.5h0M101.7 149.2h0M104.0 148.8h0M93.0 149.4h0M181.8 149.2h0M105.7 149.7h0M73.8 149.6h0M115.0 149.7h0M184.4 149.7h0M140.6 149.3h0M97.2 149.5h0M163.8 149.4h0M120.9 149.2h0M143.3 149.5h0M183.2 148.9h0M140.9 149.7h0M118.4 149.5h0M125.9 149.7h0M136.3 149.2h0M126.0 149.5h0M141.0 148.9h0M91.2 149.6h0M133.1 149.5h0M131.8 149.8h0M113.4 148.8h0M169.0 149.0h0M129.8 149.4h0M100.8 148.8h0M127.2 149.9h0M100.1 149.3h0M190.3 148.9h0M152.1 149.6h0M136.5 149.9h0M151.6 149.5h0M115.5 149.5h0M94.7 149.4h0M162.1 149.7h0M133.4 148.8h0M144.9 149.3h0M85.6 148.7h0M120.0 148.7h0M75.0 149.3h0M108.3 149.2h0M69.5 149.8h0M146.1 149.4h0M137.1 149.7h0M126.9 149.7h0M184.2 149.1h0M140.1 149.0h0M82.4 149.8h0M186.5 149.2h0M109.3 148.8h0M125.7 149.4h0M99.5 149.3h0M125.4 149.6h0M89.1 149.7h0M128.8 149.3h0M150.2 148.8h0M128.9 149.6h0M164.2 149.5h0M96.4 149.0h0M176.7 149.5h0M83.6 149.7h0M87.5 148.9h0M129.2 148.5h0M122.9 149.3h0M116.6 149.6h0M113.2 149.8h0M123.0 149.4h0M127.0 149.8h0M115.3 149.4h0M85.8 149.7h0M141.5 148.3h0M100.3 149.0h0M144.3 149.4h0M157.5 149.2h0M92.6 148.6h0M103.3 149.8h0M66.5 149.2h0M80.9 149.8h0M60.9 149.2h0" stroke="#c2c2c2" stroke-width="1.40" stroke-linecap="round" fill="none" opacity="1"/>
<path d="M111.8 141.0h0M98.4 133.4h0M108.2 137.9h0M112.6 136.2h0M107.7 137.5h0M110.1 99.0h0M110.5 118.9h0M111.2 137.7h0M108.8 138.5h0M96.0 131.4h0M110.6 135.5h0M88.1 132.9h0M113.0 134.0h0M112.3 136.5h0M108.1 141.5h0M109.2 142.3h0M110.8 130.3h0M111.5 142.0h0M100.3 139.4h0M96.0 131.6h0M103.2 142.2h0M105.9 142.4h0M99.1 140.4h0M111.9 140.7h0M111.1 141.7h0M111.9 140.0h0M109.6 129.0h0M97.3 141.8h0M112.3 142.4h0M110.8 138.2h0M102.2 142.7h0M97.0 138.9h0M106.8 141.3h0M107.2 116.0h0M110.6 128.7h0M106.9 131.7h0M110.3 142.2h0M93.2 141.2h0M109.4 134.2h0M109.0 133.6h0M110.9 139.1h0M109.4 140.8h0M99.8 141.5h0M103.7 138.3h0M111.9 136.5h0M111.7 141.5h0M97.4 116.4h0M99.2 132.9h0M111.9 125.2h0M112.6 130.2h0M92.6 142.5h0M113.0 133.8h0M112.2 139.1h0M94.1 128.1h0M110.4 141.7h0M112.2 137.6h0M109.0 142.4h0M104.6 140.4h0M101.8 140.8h0M88.9 135.3h0M112.1 138.2h0M104.3 136.2h0M104.4 138.5h0M106.0 130.5h0M111.4 128.6h0M91.9 126.7h0M105.4 139.1h0M102.5 141.5h0M112.1 130.0h0M105.3 133.7h0M110.1 141.9h0M111.8 142.2h0M105.9 140.0h0M100.2 140.1h0M110.1 141.5h0M108.5 130.0h0M102.2 131.4h0M112.4 141.3h0M112.8 132.0h0M111.4 140.9h0M103.9 140.2h0M102.7 142.4h0M109.7 131.0h0M98.4 142.1h0M111.5 140.1h0M112.1 136.9h0M109.6 140.4h0M101.4 122.4h0M109.0 137.4h0M99.7 132.4h0M109.9 136.1h0M81.4 138.3h0M110.3 142.1h0M109.4 140.9h0M105.3 142.0h0M108.4 136.0h0M111.1 141.8h0M111.3 139.6h0M98.8 131.4h0M108.8 132.8h0M108.1 129.5h0M93.4 142.6h0M111.9 142.2h0M99.5 119.3h0M99.1 142.7h0M110.1 137.5h0M113.1 133.9h0M103.6 141.8h0M103.4 132.5h0M101.5 141.2h0M106.7 142.1h0M112.2 138.6h0M112.2 135.5h0M100.5 142.1h0M112.2 136.6h0M109.3 139.6h0M108.8 142.5h0M111.6 140.2h0M109.7 140.2h0M110.9 140.4h0M103.3 140.0h0M101.7 142.4h0M110.9 138.7h0M111.1 132.2h0M112.2 141.2h0M98.0 142.0h0M112.4 133.3h0M107.8 140.0h0M112.5 131.4h0M112.1 140.5h0M112.6 142.6h0M110.3 142.3h0M85.3 141.5h0M111.7 138.3h0M112.2 139.7h0M81.9 140.0h0M111.9 140.1h0M108.9 127.6h0M112.3 142.2h0M106.6 128.5h0M106.3 141.6h0M112.8 137.8h0M106.6 138.0h0M92.2 142.7h0M106.0 133.6h0M101.9 141.6h0M107.0 142.5h0M101.8 137.4h0M94.1 134.8h0M100.4 135.2h0M109.1 141.1h0M109.2 141.7h0M109.3 140.6h0M112.0 141.5h0M98.1 136.2h0M98.9 140.9h0M110.3 127.4h0M105.9 140.4h0M111.1 137.4h0M110.2 136.9h0M107.0 138.2h0M112.8 142.6h0M103.9 129.8h0M109.9 142.2h0M96.6 140.9h0M109.5 122.5h0M88.1 140.6h0M93.2 142.0h0M99.2 139.1h0M85.8 141.9h0M107.3 133.9h0M110.4 141.6h0M110.4 142.6h0M105.3 138.4h0M112.0 138.4h0M111.2 135.4h0M109.8 139.4h0M112.9 138.8h0M109.2 141.8h0M110.2 133.9h0M89.7 135.3h0M108.3 142.5h0M92.6 137.0h0M89.4 140.9h0M107.8 126.2h0M110.4 141.7h0M105.5 123.9h0M109.7 142.7h0M112.6 140.5h0M111.3 136.2h0M110.8 140.1h0M102.3 134.7h0M110.9 139.5h0M112.6 136.3h0M107.3 141.2h0M102.9 140.6h0M107.6 142.0h0M107.2 140.7h0M104.6 135.9h0M105.9 141.7h0M99.0 140.1h0M111.9 138.8h0M111.5 142.1h0M112.1 141.3h0M112.3 139.1h0M111.1 139.7h0M104.9 141.7h0M103.4 137.4h0M109.9 118.9h0M112.5 142.6h0M110.7 136.1h0M101.1 136.0h0M109.0 140.7h0M108.0 141.1h0M112.7 142.2h0M111.2 133.1h0M87.9 134.7h0M109.0 127.8h0M109.9 132.9h0M107.9 141.3h0M109.7 137.2h0M96.0 137.5h0M109.6 138.2h0M111.8 136.4h0M109.3 137.4h0M87.3 141.8h0M105.9 140.7h0M112.2 137.0h0M104.7 137.8h0M104.0 141.5h0M109.5 139.4h0M110.0 136.6h0M103.4 139.2h0M112.4 139.6h0M94.1 136.3h0M107.0 139.8h0M110.2 142.1h0M102.1 142.1h0M108.4 140.2h0M110.0 135.8h0M98.6 142.5h0M102.7 141.8h0M108.6 140.4h0M107.4 140.2h0M107.5 141.2h0M105.9 135.8h0M112.5 142.3h0M112.6 141.6h0M109.7 136.8h0M111.6 142.6h0M112.5 129.1h0M110.2 137.3h0M98.5 141.3h0M97.0 140.5h0M105.1 136.9h0M110.3 138.0h0M108.6 139.4h0M108.7 141.9h0M101.5 142.5h0M107.7 137.0h0M111.2 131.0h0M107.5 138.6h0M109.9 139.2h0M112.4 141.4h0M108.6 136.4h0M105.9 132.3h0M106.1 141.9h0M109.3 142.2h0M111.2 136.0h0M111.7 137.3h0M103.4 137.4h0M112.5 140.4h0M110.3 137.2h0M112.2 140.6h0M85.0 139.6h0M112.9 133.3h0M108.3 142.1h0M111.7 137.9h0M110.5 140.3h0M112.2 142.4h0M111.9 142.1h0M106.5 141.6h0M112.5 141.8h0M106.6 135.2h0M112.8 134.8h0M109.1 141.9h0M111.3 141.3h0M107.5 136.6h0M111.7 140.0h0M106.2 140.7h0M109.2 112.0h0M111.9 128.3h0M103.0 135.2h0M111.5 141.9h0M106.3 138.6h0M109.6 138.3h0M112.0 135.9h0M110.6 130.6h0M110.3 139.9h0M96.8 122.0h0M105.4 140.2h0M97.6 126.7h0M109.3 136.9h0M110.6 126.1h0M99.4 142.0h0M111.8 142.3h0M106.2 135.6h0M102.8 141.5h0M113.1 140.9h0M102.3 142.7h0M109.9 142.6h0M106.4 140.0h0M111.3 136.3h0M86.2 135.6h0M106.3 132.1h0M104.0 139.7h0M110.3 138.0h0M104.9 139.2h0M92.4 141.2h0M107.4 141.1h0M94.5 140.3h0M108.4 139.0h0M109.6 122.7h0M112.3 141.1h0M112.1 140.0h0M109.8 140.2h0M96.3 135.5h0M102.2 141.3h0M110.4 140.0h0M108.0 139.6h0M113.1 142.5h0M103.2 112.4h0M102.2 142.6h0M111.5 142.4h0M110.5 140.7h0M105.9 134.5h0M108.1 104.1h0M112.5 132.9h0M99.3 122.5h0M108.4 141.4h0M101.3 139.7h0M102.8 135.2h0M112.8 139.6h0M109.0 116.4h0M111.0 142.1h0M112.7 136.6h0M110.5 138.1h0M108.0 139.3h0M94.5 138.8h0M110.5 136.5h0M108.7 118.2h0M111.4 132.3h0M103.1 139.7h0M112.3 142.0h0M111.1 134.9h0M104.3 142.1h0M91.9 132.1h0M109.9 135.0h0M111.9 129.4h0M103.4 137.2h0M81.8 138.3h0M102.8 141.5h0M108.8 135.3h0M109.7 132.7h0M104.9 139.4h0M111.3 137.1h0M111.0 141.1h0M110.9 137.4h0M107.1 141.6h0M101.8 140.4h0M110.8 136.8h0M94.2 138.1h0M110.5 141.4h0M110.1 141.4h0M100.6 140.9h0M109.5 142.3h0M105.1 140.5h0M105.0 135.8h0M107.3 138.9h0M81.4 141.3h0M111.3 140.3h0M83.9 136.9h0M111.3 133.5h0M106.5 142.3h0M92.0 136.0h0M105.5 140.7h0M104.3 141.8h0M110.0 140.7h0M101.1 133.7h0M112.5 139.9h0M109.9 135.3h0M110.2 132.1h0M108.8 141.6h0M109.4 128.0h0M111.9 142.0h0M104.8 140.3h0M105.9 139.8h0M112.7 138.3h0M99.4 139.5h0M108.7 141.7h0M109.5 137.6h0M111.3 141.7h0M112.0 137.3h0M107.8 134.6h0M110.4 141.9h0M99.3 138.8h0M110.9 135.7h0M109.9 129.0h0M108.7 138.1h0M106.1 137.3h0M103.9 136.1h0M113.0 142.4h0M110.4 139.3h0M104.8 137.4h0M112.9 140.5h0M113.1 138.5h0M100.6 137.7h0M111.9 139.2h0M110.4 141.1h0M110.8 135.0h0M105.9 137.4h0M112.6 139.9h0M101.4 139.7h0M98.4 141.6h0M111.9 134.0h0M103.3 142.6h0M109.2 142.2h0M112.4 141.6h0M109.9 139.9h0M97.2 133.2h0M102.9 141.2h0M101.3 142.3h0M86.2 138.1h0M108.9 138.8h0M107.1 139.0h0M91.0 138.0h0M111.4 142.1h0M112.1 141.8h0M102.3 141.8h0M105.3 139.0h0M95.9 129.9h0M110.4 132.0h0M102.8 130.3h0M112.5 141.2h0M97.3 138.3h0M105.5 132.4h0M104.2 136.4h0M108.8 140.1h0M102.4 140.6h0M97.1 142.6h0M106.0 136.3h0M113.0 139.9h0M112.3 124.2h0M112.3 132.9h0M112.4 131.6h0M110.2 119.6h0M96.3 130.9h0M106.6 140.1h0M109.2 141.4h0M106.4 141.6h0M107.4 134.3h0M109.2 139.3h0M110.9 142.2h0M112.9 136.8h0M98.4 130.0h0M106.0 139.6h0M105.0 141.1h0M93.0 140.9h0M112.5 130.5h0M104.9 139.6h0M100.2 139.3h0M105.4 142.2h0M110.1 139.6h0M110.4 140.9h0M112.0 137.8h0M109.9 141.0h0M113.0 117.7h0M109.7 142.5h0M90.8 141.6h0M104.4 140.8h0M104.4 125.2h0M108.2 125.4h0M112.3 137.7h0M104.1 140.3h0M110.1 132.7h0M111.5 141.1h0M111.0 136.3h0M106.2 131.7h0M108.2 142.2h0M107.8 141.1h0M112.4 142.0h0M107.9 136.2h0M108.3 136.9h0M111.5 133.7h0M112.0 141.8h0M110.4 138.1h0M110.4 121.8h0M99.2 128.3h0M106.9 141.5h0M101.3 138.1h0M109.0 141.9h0M106.9 142.7h0M106.1 141.5h0M103.7 141.2h0M111.2 141.1h0M93.9 123.4h0M112.5 142.0h0M109.0 134.8h0M111.6 123.4h0M112.9 138.6h0M111.6 141.0h0M108.8 141.8h0M111.4 126.9h0M107.9 141.9h0M98.5 142.0h0M107.3 141.9h0M111.7 141.6h0M109.6 137.8h0M105.3 136.0h0M111.0 139.2h0M111.4 135.5h0M112.5 128.6h0M112.2 141.2h0M112.1 142.2h0M108.7 140.7h0M112.0 132.4h0M81.8 135.8h0M102.6 141.6h0M101.8 140.7h0M112.5 128.5h0M86.8 142.1h0M98.5 141.1h0M103.4 136.4h0M111.0 137.5h0M107.7 138.1h0M95.5 141.0h0M101.3 139.4h0M111.9 142.1h0M103.8 139.7h0M108.7 133.1h0M112.3 138.8h0M98.6 142.2h0M111.6 141.2h0M105.1 139.8h0M96.1 140.2h0M95.5 132.5h0M105.9 136.6h0M101.5 137.3h0M104.2 130.5h0M100.7 136.7h0M111.1 137.9h0M107.4 128.3h0M112.4 139.5h0M111.5 142.4h0M90.6 140.5h0M108.1 128.7h0M97.1 142.0h0M110.8 140.6h0M90.9 139.2h0M113.0 142.5h0M111.2 139.6h0M111.2 132.2h0M105.3 141.4h0M109.7 141.9h0M87.0 127.5h0M112.1 137.6h0M111.7 141.0h0M108.1 135.7h0M100.1 141.3h0M94.7 136.1h0M108.8 105.8h0M111.8 117.4h0M95.9 142.6h0M109.3 141.0h0M98.3 123.9h0M103.7 140.6h0M109.5 139.4h0M106.4 142.3h0M112.2 138.9h0M112.7 120.6h0M104.5 106.8h0M111.4 127.6h0M99.4 138.0h0M102.8 135.3h0M108.9 142.1h0M106.0 140.7h0M110.1 142.3h0M111.4 136.5h0M86.8 142.7h0M101.8 142.6h0M111.6 127.8h0M112.7 141.7h0M110.0 137.3h0M109.6 140.7h0M108.3 140.9h0M107.7 133.2h0M105.6 140.9h0M108.0 137.0h0M106.8 140.6h0M109.7 134.1h0M103.1 141.7h0M105.8 138.2h0M107.0 137.6h0M102.1 141.1h0M112.3 140.2h0M100.8 132.8h0M112.7 140.5h0M109.0 141.8h0M106.5 136.6h0M108.9 137.0h0M111.6 134.6h0M112.9 139.1h0M111.7 138.3h0M110.1 125.1h0M82.2 131.9h0M112.9 132.7h0M111.1 133.1h0M113.0 141.1h0M92.3 127.6h0M110.2 137.8h0M93.9 141.5h0M112.6 126.9h0M111.7 141.5h0M113.1 135.3h0M93.1 126.3h0M110.0 141.1h0M112.4 142.2h0M104.7 136.1h0M108.1 137.5h0M86.1 135.6h0M102.6 139.5h0M112.6 142.2h0M106.2 134.1h0M106.1 134.1h0M108.6 141.5h0M102.2 132.5h0M111.4 142.5h0M108.9 133.6h0M107.6 136.9h0M113.1 121.1h0M112.5 138.6h0M113.0 142.7h0M110.5 142.7h0M111.6 140.7h0M111.0 135.8h0M104.7 141.7h0M105.6 136.2h0M111.5 139.6h0M111.0 138.4h0M107.8 142.4h0M103.2 121.6h0M105.1 141.1h0M102.4 126.7h0M98.1 139.5h0M111.7 142.3h0M110.6 141.4h0M107.6 135.4h0M110.2 142.0h0M112.3 141.1h0M99.9 141.7h0M109.0 142.3h0M108.1 137.1h0M108.3 141.1h0M106.9 139.7h0M100.6 94.2h0M110.1 140.5h0M104.8 138.0h0M110.1 131.1h0M109.4 137.4h0M113.0 139.8h0M112.5 142.4h0M109.9 140.1h0M110.4 142.6h0M93.9 141.0h0M105.7 136.7h0M112.3 140.9h0M110.5 134.7h0M95.1 139.3h0M108.1 130.7h0M108.4 137.5h0M107.5 133.2h0M111.4 140.4h0M109.5 141.0h0M104.4 140.7h0M97.7 141.6h0M107.7 137.0h0M105.1 142.1h0M112.8 134.8h0M102.3 140.2h0M112.5 133.0h0M104.3 135.2h0M102.0 134.9h0M111.6 140.0h0M109.8 142.1h0M103.6 135.9h0M81.6 141.7h0M109.9 137.5h0M111.3 129.7h0M105.7 140.4h0M104.7 141.4h0M113.0 142.3h0M106.3 140.4h0M109.9 142.3h0M110.4 136.7h0M112.7 139.8h0M108.4 141.2h0M98.6 142.3h0M111.5 129.6h0M88.4 136.7h0M105.2 130.1h0M111.8 139.1h0M102.5 142.6h0M109.4 135.1h0M104.5 135.3h0M113.1 139.1h0M104.1 141.7h0M112.7 141.6h0M103.4 130.1h0M111.6 135.4h0M110.0 126.2h0M112.0 141.2h0M106.3 140.0h0M108.1 137.1h0M111.3 140.0h0M111.7 136.5h0M111.5 121.9h0M109.6 138.9h0M102.5 141.1h0M106.8 141.0h0M99.0 142.3h0M111.5 138.8h0M99.0 133.2h0M109.1 140.3h0M104.9 141.0h0M107.8 140.2h0M95.4 142.6h0M101.9 140.1h0M109.8 134.4h0M112.4 135.6h0M106.4 124.8h0M104.1 140.3h0M108.0 135.1h0M113.0 139.6h0M101.2 141.7h0M112.0 142.1h0M112.9 138.8h0M95.1 135.0h0M98.1 142.4h0M110.8 132.0h0M104.7 138.6h0M105.5 140.6h0M109.9 140.2h0M112.7 129.2h0M105.1 142.3h0M102.0 142.2h0M101.1 138.5h0M112.0 141.4h0M102.7 140.0h0M104.7 139.6h0M110.8 122.0h0M100.0 135.4h0M104.2 139.2h0M109.3 135.7h0M90.5 140.7h0M112.7 132.3h0M108.8 142.0h0M106.8 140.1h0M111.7 141.1h0M84.4 138.2h0M112.5 142.4h0M95.9 138.6h0M98.5 135.6h0M112.2 128.4h0M110.1 139.9h0M85.3 142.6h0M100.2 142.4h0M100.6 140.3h0M110.4 142.4h0M105.8 137.3h0M91.5 116.4h0M103.3 128.0h0M107.1 141.1h0M102.4 139.6h0M112.4 141.2h0M96.8 140.8h0M103.7 140.5h0M95.9 139.9h0M112.3 140.0h0M106.1 132.3h0M101.3 138.7h0M111.5 137.4h0M110.2 139.9h0M96.4 142.1h0M110.8 142.3h0M110.6 139.5h0M111.0 141.4h0M110.2 139.6h0M108.7 133.2h0M112.6 142.1h0M112.0 141.1h0M109.8 141.9h0M106.9 141.6h0M99.2 139.1h0M109.9 141.0h0M107.3 142.3h0M88.5 140.9h0M111.5 142.2h0M109.2 97.5h0M92.8 134.1h0M110.0 142.1h0M111.4 135.0h0M101.7 139.4h0M103.4 138.7h0M111.0 140.2h0M103.8 141.9h0M104.3 138.9h0M112.7 136.5h0M109.6 138.2h0M110.1 142.5h0M102.4 141.4h0M98.3 138.4h0M108.7 142.6h0M110.9 142.6h0M112.1 139.1h0M99.8 142.6h0M104.8 142.3h0M105.1 140.7h0M108.4 138.1h0M106.7 138.0h0M108.8 138.2h0M91.6 134.5h0M100.1 101.5h0M103.7 135.8h0M105.6 136.7h0M108.9 142.4h0" stroke="#3a50a3" stroke-width="1.76" stroke-linecap="round" fill="none" opacity="1"/>
<path d="M123.5 135.1h0M132.4 142.1h0M146.4 138.9h0M137.2 139.5h0M123.0 141.5h0M181.6 135.1h0M120.5 139.5h0M166.9 137.0h0M135.2 140.7h0M124.1 136.9h0M131.7 140.4h0M123.7 138.4h0M135.8 129.2h0M124.5 139.0h0M121.2 134.8h0M120.1 139.7h0M122.0 137.0h0M125.2 139.7h0M120.4 141.2h0M142.3 133.7h0M121.1 126.7h0M123.0 140.1h0M139.1 128.7h0M125.5 140.0h0M126.3 135.2h0M122.1 102.1h0M137.6 129.9h0M120.1 141.0h0M120.0 140.9h0M123.6 137.1h0M139.5 140.9h0M172.6 139.6h0M122.1 141.8h0M122.2 134.5h0M122.0 135.9h0M121.5 137.7h0M140.4 141.2h0M120.3 139.4h0M129.2 140.0h0M121.7 141.4h0M121.6 141.6h0M130.5 129.9h0M124.6 131.5h0M120.6 139.9h0M127.9 133.3h0M129.9 139.2h0M165.9 142.0h0M126.6 131.5h0M133.5 92.9h0M139.8 132.0h0M123.9 141.7h0M130.8 131.2h0M136.6 138.2h0M123.3 139.0h0M120.4 135.5h0M129.3 123.2h0M135.6 140.2h0M138.3 141.6h0M121.7 135.5h0M138.4 140.6h0M128.8 142.4h0M156.1 137.8h0M120.7 137.1h0M120.7 140.0h0M120.1 142.1h0M123.1 127.4h0M124.4 127.5h0M141.7 129.9h0M123.1 138.3h0M147.2 123.6h0M136.4 141.6h0M128.9 131.9h0M123.7 138.8h0M123.4 139.0h0M127.6 141.8h0M131.0 141.4h0M133.6 105.8h0M128.4 141.5h0M120.0 140.0h0M123.8 141.0h0M120.6 136.0h0M120.9 124.8h0M128.2 141.9h0M138.0 132.5h0M121.0 138.4h0M126.3 140.1h0M121.3 133.1h0M142.6 133.7h0M136.8 139.9h0M137.7 139.7h0M119.9 134.3h0M125.4 139.1h0M123.5 137.9h0M136.8 131.7h0M121.6 140.9h0M121.9 121.7h0M126.9 141.0h0M138.5 134.0h0M128.9 135.9h0M122.4 137.3h0M178.0 140.8h0M119.9 141.0h0M123.7 138.3h0M121.5 138.9h0M130.5 122.4h0M121.7 141.2h0M144.7 142.5h0M123.1 140.2h0M120.4 120.9h0M152.2 141.5h0M124.6 141.8h0M134.7 139.4h0M123.9 140.7h0M122.3 135.1h0M129.5 142.3h0M136.4 140.5h0M121.3 131.0h0M127.4 140.1h0M128.3 131.6h0M120.1 137.8h0M130.5 138.4h0M126.0 132.6h0M128.4 142.5h0M123.0 140.6h0M122.1 121.8h0M130.8 139.7h0M155.4 141.9h0M141.9 138.6h0M124.8 133.6h0M152.8 136.9h0M152.6 138.9h0M120.4 130.2h0M126.8 136.7h0M133.9 136.5h0M125.6 142.4h0M126.3 141.9h0M129.2 133.5h0M129.7 142.0h0M123.1 116.1h0M137.8 138.3h0M123.1 142.1h0M122.7 139.6h0M120.1 138.0h0M120.4 140.8h0M121.0 142.4h0M138.8 141.5h0M122.5 123.3h0M121.6 139.6h0M124.7 140.4h0M131.8 136.9h0M151.1 137.5h0M125.5 141.8h0M122.4 142.5h0M122.1 95.6h0M130.6 133.3h0M120.7 132.6h0M123.7 139.6h0M126.7 139.2h0M126.7 111.5h0M133.5 140.1h0M120.3 141.9h0M130.4 134.7h0M173.0 137.0h0M124.7 135.4h0M125.8 140.4h0M143.5 135.7h0M192.8 139.3h0M129.0 136.8h0M142.7 135.0h0M123.5 141.9h0M131.1 140.3h0M125.3 141.7h0M135.1 137.5h0M123.8 142.6h0M124.2 121.5h0M130.8 127.5h0M123.9 141.5h0M120.0 140.2h0M182.4 139.9h0M128.1 141.9h0M120.9 140.0h0M123.4 136.2h0M135.4 141.6h0M130.9 138.1h0M205.5 142.2h0M121.3 141.5h0M139.9 141.3h0M135.1 136.5h0M209.2 141.5h0M125.7 139.7h0M137.5 138.1h0M121.1 142.1h0M133.1 132.0h0M140.2 127.6h0M129.5 132.2h0M134.9 125.6h0M141.8 134.0h0M120.4 136.9h0M124.7 141.4h0M142.4 126.3h0M123.4 140.9h0M170.4 137.6h0M119.9 128.3h0M150.8 139.0h0M163.3 132.7h0M121.8 139.6h0M121.9 138.6h0M147.7 134.6h0M120.7 139.3h0M121.4 142.7h0M139.1 142.0h0M136.5 135.1h0M136.4 118.9h0M130.0 132.2h0M199.2 137.9h0M128.8 139.5h0M127.3 138.8h0M131.1 120.2h0M124.2 135.2h0M121.9 138.3h0M142.3 137.3h0M120.0 139.2h0M142.8 140.1h0M121.5 138.4h0M123.8 139.2h0M137.0 133.3h0M126.1 136.8h0M130.0 140.2h0M120.0 137.0h0M123.9 141.6h0M143.0 141.4h0M127.7 139.1h0M137.1 140.5h0M121.0 141.3h0M170.6 142.6h0M122.1 140.3h0M125.9 138.8h0M170.5 141.9h0M147.8 142.0h0M120.0 127.4h0M122.5 135.8h0M130.5 119.4h0M123.3 137.4h0M134.7 137.8h0M129.4 120.4h0M161.0 113.2h0M122.8 139.6h0M119.9 136.9h0M120.3 136.4h0M146.0 142.3h0M153.4 139.3h0M135.8 139.9h0M151.0 136.5h0M126.4 133.2h0M155.1 140.9h0M125.3 139.4h0M121.4 134.5h0M149.9 129.2h0M120.6 122.5h0M125.6 139.7h0M123.8 126.4h0M141.8 140.8h0M131.1 139.3h0M128.3 138.2h0M135.8 119.3h0M119.9 135.5h0M130.3 138.0h0M131.5 125.5h0M123.1 141.0h0M130.9 124.0h0M139.1 141.2h0M168.4 139.8h0M121.6 132.8h0M125.9 142.7h0M124.9 139.5h0M121.7 138.4h0M152.3 142.5h0M138.6 137.9h0M133.8 128.4h0M122.9 120.9h0M119.9 140.5h0M130.3 135.0h0M121.6 142.2h0M124.3 139.7h0M122.6 140.9h0M123.7 139.1h0M123.2 138.1h0M135.1 141.0h0M120.2 140.9h0M176.1 132.9h0M124.1 136.1h0M130.5 140.5h0M197.6 140.3h0M121.3 136.3h0M123.7 139.1h0M122.8 141.8h0M126.5 141.6h0M122.2 122.7h0M131.6 141.8h0M137.5 140.6h0M130.8 139.9h0M126.7 136.0h0M151.8 141.5h0M120.2 122.5h0M122.5 139.3h0M122.8 137.9h0M129.1 126.0h0M129.0 139.0h0M129.8 126.3h0M124.0 139.1h0M129.7 142.0h0M138.9 129.7h0M134.2 141.0h0M125.8 142.6h0M121.0 140.2h0M120.0 141.5h0M120.2 140.6h0M123.5 137.2h0M129.0 128.8h0M126.0 136.3h0M123.6 119.8h0M164.1 139.7h0M131.1 142.5h0M120.8 139.1h0M141.4 137.2h0M122.5 130.4h0M141.0 142.5h0M121.7 134.0h0M130.4 125.7h0M136.7 135.2h0M150.3 142.5h0M153.4 142.3h0M124.5 134.9h0M151.5 137.3h0M123.1 134.5h0M129.1 138.2h0M144.3 126.6h0M130.0 130.6h0M122.2 138.5h0M136.1 139.9h0M136.3 133.5h0M139.6 108.7h0M138.3 141.7h0M122.8 140.9h0M130.0 129.4h0M124.4 101.5h0M120.4 142.2h0M126.2 136.9h0M214.1 136.5h0M185.1 141.8h0M127.0 141.9h0M120.8 142.3h0M125.5 140.9h0M125.9 138.6h0M125.5 140.0h0M142.4 141.0h0M121.2 139.7h0M119.9 135.1h0M121.9 142.5h0M130.2 140.6h0M120.3 139.6h0M120.1 138.1h0M133.3 142.4h0M132.1 138.9h0M122.3 137.2h0M147.6 140.1h0M124.4 138.7h0M120.5 136.7h0M130.6 138.9h0M128.1 137.5h0M128.3 134.7h0M189.5 137.9h0M127.1 139.1h0M140.3 108.6h0M130.7 139.0h0M132.5 140.3h0M120.8 141.3h0M124.8 140.6h0M138.3 141.8h0M120.0 134.9h0M125.2 138.1h0M161.3 89.3h0M145.8 139.5h0M124.2 141.7h0M145.9 140.5h0M122.9 137.1h0M168.8 142.6h0M124.9 137.7h0M120.0 138.9h0M119.9 133.9h0M126.8 140.5h0M127.7 139.8h0M123.2 135.9h0M122.4 141.6h0M124.7 141.8h0M121.5 141.7h0M124.5 138.6h0M128.9 141.8h0M141.3 137.9h0M126.7 132.6h0M122.3 119.8h0M128.9 138.5h0M126.8 141.8h0M127.4 119.2h0M120.3 139.8h0M135.6 142.6h0M127.9 133.9h0M137.7 142.6h0M124.3 134.2h0M125.0 140.7h0M121.9 138.1h0M120.4 140.9h0M121.8 139.9h0M122.4 138.6h0M122.4 133.7h0M135.2 140.9h0M133.2 138.5h0M126.0 141.5h0M131.2 139.6h0M124.6 140.9h0M147.5 136.2h0M122.5 138.3h0M124.4 141.4h0M130.6 129.5h0M124.6 124.0h0M139.4 142.1h0M143.8 141.2h0M137.4 122.9h0M146.5 131.2h0M138.1 132.0h0M123.9 133.6h0M141.0 136.0h0M122.9 138.8h0M125.3 137.6h0M120.0 136.6h0M120.1 142.7h0M121.0 140.0h0M121.4 138.5h0M122.2 142.2h0M121.3 135.9h0M127.9 127.4h0M125.0 133.1h0M123.1 135.3h0M123.9 141.8h0M161.9 142.6h0M128.4 139.8h0M137.8 142.6h0M124.1 139.6h0M122.7 120.9h0M124.7 138.1h0M147.9 130.5h0M123.6 141.1h0M129.3 141.2h0M125.1 140.3h0M127.4 131.5h0M120.2 142.3h0M138.4 115.7h0M161.0 141.3h0M127.0 133.0h0M123.4 138.1h0M137.6 120.9h0M133.3 139.9h0M122.7 139.9h0M125.5 135.4h0M127.4 140.5h0M121.5 115.5h0M123.9 140.3h0M127.0 142.4h0M128.0 141.8h0M133.1 142.2h0M121.4 137.5h0M132.2 140.2h0M128.4 138.4h0M125.7 135.3h0M127.5 137.8h0M120.8 141.1h0M128.5 140.0h0M121.5 137.5h0M131.8 128.6h0M132.2 140.3h0M134.4 97.2h0M136.7 136.1h0M124.7 139.2h0M126.4 139.9h0M127.6 136.5h0M130.6 141.5h0M124.6 140.8h0M121.4 140.6h0M150.3 139.0h0M125.4 141.6h0M123.4 130.1h0M145.7 137.2h0M122.7 128.9h0M125.6 104.7h0M135.2 136.0h0M121.5 142.0h0M127.6 138.8h0M127.1 140.0h0M120.0 138.3h0M135.8 139.5h0M123.0 125.9h0M177.5 142.5h0M126.0 140.8h0M125.7 140.5h0M128.6 136.0h0M133.3 141.7h0M126.9 139.3h0M121.7 136.8h0M120.8 141.1h0M120.9 136.5h0M135.0 125.6h0M123.2 141.4h0M127.7 125.4h0M123.4 135.3h0M121.5 139.5h0M121.3 138.5h0M128.9 137.4h0M124.8 142.2h0M139.1 141.5h0M178.1 139.0h0M123.5 141.2h0M124.4 142.2h0M120.8 139.0h0M132.5 136.6h0M132.0 134.1h0M138.6 142.0h0M127.2 121.1h0M136.8 142.6h0M124.4 140.1h0M127.4 134.8h0M120.7 136.6h0M138.1 142.0h0M126.5 132.1h0M120.2 140.9h0M122.8 139.4h0M139.5 132.7h0M122.0 137.7h0M130.5 138.9h0M124.6 142.7h0M129.9 141.8h0M123.1 139.1h0M122.1 142.1h0M140.7 119.1h0M138.0 139.6h0M178.3 140.6h0M139.8 137.2h0M121.0 134.1h0M133.1 134.6h0M119.9 135.4h0M196.7 131.3h0M122.6 126.2h0M127.8 141.8h0M121.1 141.1h0M132.1 142.7h0M124.6 139.3h0M123.6 139.5h0M130.5 116.1h0M203.2 139.4h0M128.9 141.6h0M124.5 136.2h0M122.8 141.7h0M125.2 138.9h0M137.7 129.5h0M126.0 131.7h0M131.2 138.5h0M120.5 141.9h0M121.9 140.5h0M137.4 140.6h0M129.7 139.7h0M121.1 142.3h0M120.1 139.2h0M128.1 138.6h0M129.1 141.4h0M121.7 138.2h0M120.1 140.7h0M135.5 140.5h0M126.6 107.4h0M120.4 142.7h0M125.5 141.7h0M132.8 140.6h0M120.2 138.7h0M124.0 142.7h0M123.0 137.2h0M133.2 138.6h0M135.4 139.0h0M135.3 138.2h0M158.1 139.9h0M159.3 141.2h0M123.0 140.3h0M123.7 142.2h0M148.9 141.5h0M123.6 137.6h0M125.3 142.5h0M135.0 137.0h0M120.7 136.7h0M120.4 137.6h0M131.8 137.9h0M121.2 130.9h0M121.9 140.0h0M134.8 141.4h0M124.8 122.6h0M168.3 142.1h0M125.0 141.7h0M131.6 139.3h0M131.9 138.6h0M133.6 114.2h0M124.0 140.9h0M201.7 104.9h0M126.2 137.3h0M157.2 140.8h0M124.1 141.8h0M133.9 115.5h0M127.9 137.1h0M120.7 140.9h0M126.2 141.6h0M155.5 118.8h0M123.8 126.9h0M123.7 142.6h0M127.8 137.0h0M124.3 142.3h0M154.5 136.6h0M147.4 110.0h0M136.5 136.5h0M122.3 142.3h0M129.6 141.4h0M143.8 137.1h0M129.4 136.7h0M144.7 136.7h0M124.8 141.2h0M159.7 124.4h0M122.8 132.6h0M152.1 141.3h0M128.7 140.6h0M123.9 139.6h0M153.2 134.0h0M126.4 128.6h0M122.4 133.3h0M126.0 141.8h0M134.4 140.4h0M121.5 133.9h0M122.7 141.7h0M128.6 140.7h0M145.8 140.6h0M149.8 140.6h0M120.8 138.5h0M123.7 138.9h0M126.3 137.7h0M120.4 138.7h0M123.4 103.8h0M124.4 138.8h0M127.4 140.3h0M120.6 141.2h0M124.2 135.5h0M126.4 126.2h0M119.9 137.8h0M122.9 141.5h0M166.4 139.3h0M120.7 135.4h0M176.2 139.8h0M129.6 137.9h0M127.0 142.3h0M136.8 127.9h0M125.9 138.0h0M122.1 141.2h0M121.1 138.1h0M129.6 141.0h0M182.7 138.8h0M143.9 140.7h0M138.3 118.0h0M211.8 132.8h0M129.3 139.8h0M120.3 136.3h0M121.5 135.4h0M122.0 137.6h0M123.4 126.7h0M126.3 142.4h0M125.8 142.5h0M124.7 142.3h0M121.8 138.3h0M124.1 139.1h0M125.6 132.1h0M124.6 140.3h0M125.9 124.8h0M134.1 140.9h0M124.0 141.8h0M129.0 141.4h0M135.9 140.2h0M120.5 141.9h0M126.4 131.6h0M139.1 139.0h0M120.4 137.0h0M150.9 141.4h0M124.0 136.7h0M124.7 141.9h0M142.5 133.7h0M131.9 140.7h0M125.2 132.2h0M121.7 130.4h0M122.6 141.1h0M125.9 141.9h0M166.2 142.0h0M159.9 136.0h0M121.5 137.5h0M131.0 140.0h0M126.6 141.5h0M137.5 141.5h0M144.3 142.5h0M120.7 142.1h0M149.4 135.4h0M147.2 133.1h0M142.4 133.2h0M124.1 139.9h0M138.9 130.6h0M123.2 133.9h0M129.5 135.8h0M122.6 132.6h0M120.0 137.5h0M122.7 135.1h0M198.9 141.0h0M151.6 141.0h0M121.0 138.7h0M131.7 141.9h0M124.2 139.8h0M122.4 142.3h0M130.6 142.1h0M120.4 142.6h0M121.0 142.2h0M123.6 126.9h0M125.0 135.6h0M121.8 141.2h0M121.1 138.3h0M129.1 140.2h0M138.7 136.7h0M137.3 121.5h0M123.5 137.6h0M131.5 138.8h0M126.2 139.9h0M122.9 133.0h0M120.2 130.9h0M142.1 133.6h0M143.4 142.6h0M163.8 141.7h0M130.6 141.3h0M121.2 139.9h0M132.3 140.5h0M132.2 140.5h0M120.1 124.0h0M132.7 119.7h0M150.2 139.7h0M141.4 139.5h0M152.8 134.9h0M122.8 128.2h0M130.9 118.4h0M126.3 121.9h0M162.7 139.4h0M124.2 96.5h0M122.0 135.1h0M128.4 141.0h0M123.0 141.4h0M121.5 139.8h0M129.2 142.4h0M143.4 129.6h0M127.8 141.8h0M145.4 142.4h0M120.2 142.5h0M127.9 125.0h0M129.3 132.8h0M120.8 118.1h0M121.1 141.5h0M128.8 139.6h0M129.0 139.1h0M133.3 128.8h0M137.9 142.5h0M147.9 133.6h0M125.8 141.7h0M120.2 142.4h0M120.7 136.9h0M177.1 139.3h0M129.1 131.2h0M125.6 137.4h0M123.1 125.7h0M121.0 136.7h0M149.4 140.1h0M119.9 138.9h0M129.1 140.3h0M125.7 137.8h0M120.5 126.0h0M166.4 128.2h0M141.1 142.0h0M120.4 140.6h0M124.7 139.7h0M161.9 139.0h0M120.3 141.7h0M120.0 123.4h0M121.7 134.6h0M122.4 135.4h0M120.8 137.5h0M120.8 139.6h0M123.8 141.4h0M123.1 141.2h0M129.6 140.9h0M155.5 137.0h0M123.4 133.4h0M124.1 138.5h0M121.0 142.3h0M138.8 136.9h0M121.4 137.4h0M123.1 137.4h0M123.7 141.5h0M129.9 141.2h0M128.8 130.9h0M121.0 135.3h0M140.8 141.9h0M130.8 141.5h0M126.9 123.3h0M127.3 142.1h0M120.5 129.2h0M120.2 140.0h0M125.2 142.1h0M121.8 137.5h0M120.7 140.6h0M122.6 142.1h0M143.4 132.9h0M121.2 135.4h0M121.7 126.4h0M129.4 138.9h0M121.4 140.6h0M122.9 141.1h0M133.3 137.8h0M133.0 137.4h0M127.1 121.3h0M129.9 133.8h0M171.2 140.5h0M125.2 141.9h0M123.0 140.1h0M122.3 142.5h0M133.7 114.6h0M135.8 142.4h0M130.7 142.1h0M138.0 142.1h0M124.9 120.3h0M130.3 140.5h0M129.5 142.4h0M120.8 142.5h0M123.4 142.1h0M138.2 130.3h0M147.4 142.5h0M129.1 139.3h0M125.9 139.9h0M137.8 141.9h0M181.5 141.6h0M121.2 140.5h0M126.2 141.4h0M121.0 142.3h0M126.4 140.0h0M142.2 140.6h0M122.1 142.0h0M121.2 142.2h0M121.2 137.8h0M127.8 137.0h0M120.1 138.3h0M120.4 133.5h0M130.9 139.9h0M132.6 138.9h0M134.5 129.7h0M181.1 140.2h0M120.0 135.1h0M193.9 128.2h0M121.0 120.4h0M130.0 135.5h0M173.2 141.6h0M135.8 134.2h0M124.0 134.5h0M158.5 137.9h0M133.4 135.8h0M131.0 140.1h0M129.4 142.6h0M120.8 136.5h0M120.4 138.8h0M121.7 141.6h0M131.1 135.0h0M121.8 123.5h0M123.8 142.3h0M122.7 118.8h0M120.8 142.0h0M124.9 141.9h0M133.1 138.9h0M122.0 142.5h0M193.1 142.5h0M128.9 140.4h0M146.2 138.0h0M134.7 137.9h0M147.1 128.0h0M126.6 140.4h0M122.3 137.2h0M135.2 120.3h0M130.0 142.6h0M122.3 134.6h0M131.0 140.8h0M120.2 130.2h0M182.7 140.3h0M123.8 141.7h0M127.8 99.8h0M127.0 140.8h0M142.7 142.0h0M126.2 140.3h0M120.4 139.5h0M120.0 142.4h0M120.9 128.3h0M126.3 141.8h0M202.1 135.1h0M121.2 124.4h0M121.2 141.7h0M146.9 140.4h0M120.9 130.5h0M124.7 123.8h0M129.4 132.4h0M132.4 136.3h0M120.7 140.8h0M126.1 133.8h0M123.0 141.4h0M121.6 127.2h0M133.5 141.8h0M155.6 140.5h0M123.8 140.4h0M133.3 139.4h0M121.3 140.4h0M120.0 140.1h0M120.8 140.0h0M120.2 140.9h0M125.2 139.6h0M120.2 138.5h0M147.3 132.2h0M129.7 136.3h0M121.1 138.4h0M129.2 139.9h0M120.1 138.8h0M120.6 131.5h0M127.3 141.5h0M127.1 139.1h0M137.7 141.9h0M204.3 140.0h0M134.2 138.4h0M132.3 139.0h0M128.8 141.0h0M122.0 125.4h0M139.0 137.0h0M120.0 142.2h0M122.3 139.4h0M135.8 138.7h0M120.9 142.5h0M123.9 136.8h0M121.2 137.9h0M121.2 140.8h0M129.2 141.0h0M125.3 127.9h0M128.8 140.1h0M128.9 130.7h0M130.6 139.5h0M124.3 117.6h0M127.8 142.4h0M120.3 134.8h0M121.7 139.3h0M133.6 140.1h0M122.6 140.7h0M121.1 139.6h0M135.3 142.5h0M122.3 140.0h0M122.4 133.1h0M120.2 138.8h0M121.4 137.5h0M124.3 138.6h0M119.9 127.0h0M186.6 136.6h0M127.0 141.1h0M125.3 128.6h0M121.2 142.1h0M181.3 141.4h0M128.4 138.4h0M133.9 132.0h0M132.8 137.9h0M120.5 141.6h0M125.7 138.8h0M124.9 121.8h0M120.5 142.2h0M124.3 138.1h0M129.9 139.8h0M120.6 142.6h0M137.8 98.3h0M133.4 137.7h0M131.2 128.7h0M121.8 142.4h0M124.2 139.6h0M122.0 141.1h0M120.7 140.4h0M178.5 137.4h0M121.6 124.0h0M120.8 140.9h0M156.3 135.8h0M124.5 142.4h0M145.0 126.5h0M120.7 133.3h0M125.8 140.9h0M121.3 142.3h0M128.1 123.8h0M125.4 138.1h0M126.2 139.6h0M121.6 127.7h0M144.8 140.1h0M125.1 134.6h0M135.1 142.6h0M123.7 140.3h0M121.7 118.9h0M125.1 142.5h0M124.4 139.2h0M125.4 141.8h0M135.8 133.5h0M128.0 137.6h0M124.6 134.2h0M122.7 138.3h0M123.3 141.3h0M132.2 138.4h0M125.8 137.8h0M122.5 138.6h0M145.0 138.5h0M123.1 136.2h0M126.8 120.2h0M120.3 141.6h0M157.0 141.3h0M121.4 142.1h0M150.9 142.2h0M171.5 134.3h0M144.4 140.3h0M124.9 133.9h0M132.4 135.9h0M183.3 140.8h0M121.4 141.2h0M130.0 139.8h0M120.9 140.4h0M124.2 139.1h0M120.8 142.1h0M140.5 140.6h0M121.7 134.3h0M121.0 137.1h0M131.8 136.7h0M122.1 141.5h0M122.1 137.2h0M139.3 138.3h0M121.2 107.1h0M129.8 142.4h0M120.5 124.8h0M120.8 137.0h0M127.0 140.7h0M120.4 141.2h0M174.7 135.8h0M122.2 139.4h0M123.3 99.3h0M165.6 142.4h0M123.9 129.9h0M155.2 142.4h0M122.2 120.0h0M128.6 135.6h0M137.8 134.5h0M123.7 135.0h0M120.7 134.3h0M133.3 139.3h0M123.8 142.2h0M136.5 113.6h0M123.9 140.4h0M149.2 138.3h0M140.8 137.8h0M121.2 140.4h0M122.8 137.6h0M138.1 139.7h0M127.7 141.6h0M120.6 142.5h0M121.4 140.6h0M127.2 109.8h0M127.2 141.9h0M136.1 137.7h0M132.4 141.5h0M122.6 139.3h0" stroke="#d7252b" stroke-width="1.70" stroke-linecap="round" fill="none" opacity="1"/>
<path d="M112.2 137.6h0M112.4 142.0h0M110.4 141.6h0M85.3 141.5h0M110.8 142.3h0M107.0 138.2h0M86.2 138.1h0M112.0 137.8h0M109.1 141.1h0M112.3 136.5h0M109.0 134.8h0M94.1 128.1h0M105.1 140.5h0M112.3 140.9h0M108.9 142.4h0M105.9 136.6h0M106.7 138.0h0M111.6 134.6h0M112.0 141.4h0M103.4 139.2h0M112.9 138.6h0M105.6 136.7h0M102.8 135.3h0M85.0 139.6h0M110.4 140.9h0M108.6 139.4h0M110.4 139.3h0M109.8 134.4h0M112.9 138.8h0M112.3 137.7h0M99.0 133.2h0M109.6 138.2h0M108.7 118.2h0M106.9 142.7h0M109.3 141.0h0M109.0 116.4h0M109.6 122.7h0M110.2 133.9h0M106.8 140.1h0M103.3 140.0h0M106.4 124.8h0M99.1 142.7h0M87.9 134.7h0M108.1 129.5h0M111.5 142.4h0M110.1 141.9h0M81.4 138.3h0M99.5 119.3h0M111.0 141.1h0M109.3 137.4h0M110.5 136.5h0M102.4 139.6h0M103.7 140.5h0M81.8 138.3h0M102.5 142.6h0M92.0 136.0h0M105.0 135.8h0M105.1 136.9h0M98.9 140.9h0M110.4 138.1h0M112.4 139.6h0M108.3 142.5h0M113.0 139.9h0M110.6 139.5h0M106.1 141.9h0M113.1 135.3h0M105.1 142.3h0M100.4 135.2h0M108.7 140.7h0M104.2 139.2h0" stroke="#b4bfe2" stroke-width="0.76" stroke-linecap="round" fill="none" opacity="1"/>
<path d="M125.9 138.0h0M121.0 142.2h0M123.7 138.9h0M125.9 139.9h0M130.0 129.4h0M134.2 141.0h0M211.8 132.8h0M135.1 136.5h0M131.8 128.6h0M121.0 142.3h0M120.4 141.2h0M172.6 139.6h0M124.0 134.5h0M127.4 140.5h0M129.2 142.4h0M124.3 138.6h0M124.0 139.1h0M123.7 142.6h0M121.3 142.3h0M125.6 137.4h0M146.5 131.2h0M137.5 140.6h0M127.9 125.0h0M162.7 139.4h0M127.9 133.3h0M122.1 141.5h0M128.9 137.4h0M127.8 137.0h0M122.0 125.4h0M122.1 140.3h0M123.8 141.0h0M173.2 141.6h0M120.3 139.8h0M128.9 130.7h0M125.0 141.7h0M145.0 126.5h0M132.1 142.7h0M127.3 142.1h0M121.5 137.7h0M133.1 142.2h0M123.4 126.7h0M144.4 140.3h0M124.8 142.2h0M193.1 142.5h0M121.7 141.4h0M121.4 138.5h0M123.8 139.2h0M122.1 95.6h0M125.2 132.2h0M123.9 140.7h0M138.1 132.0h0M147.6 140.1h0M129.0 139.0h0M145.8 140.6h0M127.8 142.4h0M124.2 139.8h0M147.1 128.0h0M139.8 137.2h0M121.8 139.9h0M125.8 140.4h0M120.0 135.1h0M120.8 141.1h0M138.5 134.0h0M129.0 136.8h0M145.8 139.5h0M131.8 137.9h0M128.3 138.2h0M138.6 142.0h0M124.6 139.3h0M128.9 141.8h0M120.8 139.1h0M122.6 142.1h0M119.9 135.4h0M123.1 140.2h0M123.2 133.9h0M120.8 140.9h0M141.7 129.9h0M130.8 141.5h0M125.8 141.7h0M126.0 131.7h0M135.1 141.0h0M123.7 138.8h0M124.8 141.2h0M128.6 135.6h0M138.1 142.0h0M123.8 142.3h0M120.6 139.9h0M121.4 142.1h0M124.3 142.3h0M153.4 142.3h0M125.3 139.4h0M120.8 140.0h0M129.6 141.4h0M138.7 136.7h0M135.3 142.5h0M133.3 128.8h0M123.5 141.2h0M121.4 134.5h0M121.8 142.4h0M123.7 139.6h0M142.3 137.3h0M120.9 130.5h0M126.0 140.8h0M131.1 120.2h0M124.0 140.9h0M124.5 136.2h0M120.8 136.5h0M123.4 139.0h0M140.4 141.2h0M130.0 140.2h0" stroke="#f3aeb0" stroke-width="0.76" stroke-linecap="round" fill="none" opacity="1"/>
<rect x="39.50" y="148.90" width="181.00" height="1.20" fill="#b8b8b8"/>
<text x="75.3" y="71.4" font-size="5.5" font-style="italic" text-anchor="start" fill="#111" stroke="#111" stroke-width="0.12">Mybpc2,</text>
<text x="48.0" y="88.9" font-size="5.5" font-style="italic" text-anchor="start" fill="#111" stroke="#111" stroke-width="0.12">2210407C18Rik</text>
<text x="94.3" y="88.9" font-size="5.5" font-style="italic" text-anchor="start" fill="#111" stroke="#111" stroke-width="0.12">Zfp36l1</text>
<text x="78.5" y="101.4" font-size="5.5" font-style="italic" text-anchor="start" fill="#111" stroke="#111" stroke-width="0.12">Phex,</text>
<text x="72.0" y="109.1" font-size="5.5" font-style="italic" text-anchor="start" fill="#111" stroke="#111" stroke-width="0.12">Gbp4</text>
<text x="69.8" y="113.9" font-size="5.5" font-style="italic" text-anchor="start" fill="#111" stroke="#111" stroke-width="0.12">Gkn3</text>
<text x="59.3" y="119.8" font-size="5.5" font-style="italic" text-anchor="start" fill="#111" stroke="#111" stroke-width="0.12">Pla2g2d</text>
<text x="74.8" y="128.8" font-size="5.5" font-style="italic" text-anchor="start" fill="#111" stroke="#111" stroke-width="0.12">Fos</text>
<text x="54.0" y="133.6" font-size="5.5" font-style="italic" text-anchor="start" fill="#111" stroke="#111" stroke-width="0.12">Gm4841</text>
<text x="55.6" y="138.4" font-size="5.5" font-style="italic" text-anchor="start" fill="#111" stroke="#111" stroke-width="0.12">Frem1</text>
<text x="151.5" y="53.0" font-size="5.5" font-style="italic" text-anchor="start" fill="#111" stroke="#111" stroke-width="0.12">Crlf1</text>
<text x="134.4" y="71.9" font-size="5.5" font-style="italic" text-anchor="start" fill="#111" stroke="#111" stroke-width="0.12">Cbn1</text>
<text x="156.0" y="72.4" font-size="5.5" font-style="italic" text-anchor="start" fill="#111" stroke="#111" stroke-width="0.12">AC160336.1</text>
<text x="155.0" y="86.1" font-size="5.5" font-style="italic" text-anchor="start" fill="#111" stroke="#111" stroke-width="0.12">Ckm</text>
<text x="158.4" y="91.1" font-size="5.5" font-style="italic" text-anchor="start" fill="#111" stroke="#111" stroke-width="0.12">Rasl10b</text>
<text x="143.8" y="92.7" font-size="5.5" font-style="italic" text-anchor="start" fill="#111" stroke="#111" stroke-width="0.12">Lrg8</text>
<text x="159.7" y="100.4" font-size="5.5" font-style="italic" text-anchor="start" fill="#111" stroke="#111" stroke-width="0.12">Adam12</text>
<text x="169.6" y="106.9" font-size="5.5" font-style="italic" text-anchor="start" fill="#111" stroke="#111" stroke-width="0.12">Prg4</text>
<text x="182.7" y="116.4" font-size="5.5" font-style="italic" text-anchor="start" fill="#111" stroke="#111" stroke-width="0.12">Il11</text>
<text x="184.0" y="129.4" font-size="5.5" font-style="italic" text-anchor="start" fill="#111" stroke="#111" stroke-width="0.12">Syt4</text>
<text x="207.5" y="136.8" font-size="5.5" font-style="italic" text-anchor="start" fill="#111" stroke="#111" stroke-width="0.12">Snap25</text>
<circle cx="96" cy="71" r="0.6" fill="#999"/>
<circle cx="87" cy="88" r="0.6" fill="#999"/>
<circle cx="111.5" cy="92" r="0.6" fill="#999"/>
<circle cx="92.5" cy="101" r="0.6" fill="#999"/>
<circle cx="86" cy="108" r="0.6" fill="#999"/>
<circle cx="84" cy="113" r="0.6" fill="#999"/>
<circle cx="80" cy="119" r="0.6" fill="#999"/>
<circle cx="85" cy="128" r="0.6" fill="#999"/>
<circle cx="75" cy="133" r="0.6" fill="#999"/>
<circle cx="72" cy="138" r="0.6" fill="#999"/>
<circle cx="150.3" cy="52.5" r="0.6" fill="#999"/>
<circle cx="133.5" cy="71.5" r="0.6" fill="#999"/>
<circle cx="155" cy="72" r="0.6" fill="#999"/>
<circle cx="157.2" cy="90" r="0.6" fill="#999"/>
<circle cx="158.5" cy="100" r="0.6" fill="#999"/>
<circle cx="168.6" cy="106.5" r="0.6" fill="#999"/>
<circle cx="181.6" cy="116" r="0.6" fill="#999"/>
<circle cx="183" cy="129" r="0.6" fill="#999"/>
<circle cx="206.5" cy="136.5" r="0.6" fill="#999"/>
<text x="45.8" y="46.4" font-size="6.27" font-weight="bold" text-anchor="start" fill="#3b4d9c" stroke="#3b4d9c" stroke-width="0.12" textLength="14.2" lengthAdjust="spacingAndGlyphs">(835)</text>
<text x="197.0" y="46.4" font-size="6.41" font-weight="bold" text-anchor="start" fill="#b3283a" stroke="#b3283a" stroke-width="0.12" textLength="18.0" lengthAdjust="spacingAndGlyphs">(1082)</text>
<line x1="38.8" y1="39.4" x2="38.8" y2="153.4" stroke="#333" stroke-width="1.1"/>
<line x1="38.3" y1="153.0" x2="220.9" y2="153.0" stroke="#333" stroke-width="1.1"/>
<line x1="36.2" y1="149.9" x2="38.8" y2="149.9" stroke="#333" stroke-width="0.9"/>
<text x="34.3" y="152.1" font-size="6.4" font-weight="bold" text-anchor="end" fill="#111" stroke="#111" stroke-width="0.12">0</text>
<line x1="36.2" y1="122.4" x2="38.8" y2="122.4" stroke="#333" stroke-width="0.9"/>
<text x="34.3" y="124.6" font-size="6.4" font-weight="bold" text-anchor="end" fill="#111" stroke="#111" stroke-width="0.12">4</text>
<line x1="36.2" y1="94.9" x2="38.8" y2="94.9" stroke="#333" stroke-width="0.9"/>
<text x="34.3" y="97.1" font-size="6.4" font-weight="bold" text-anchor="end" fill="#111" stroke="#111" stroke-width="0.12">8</text>
<line x1="36.2" y1="67.4" x2="38.8" y2="67.4" stroke="#333" stroke-width="0.9"/>
<text x="34.3" y="69.6" font-size="6.4" font-weight="bold" text-anchor="end" fill="#111" stroke="#111" stroke-width="0.12">12</text>
<line x1="36.2" y1="39.9" x2="38.8" y2="39.9" stroke="#333" stroke-width="0.9"/>
<text x="34.3" y="42.1" font-size="6.4" font-weight="bold" text-anchor="end" fill="#111" stroke="#111" stroke-width="0.12">16</text>
<line x1="38.5" y1="153.0" x2="38.5" y2="156.0" stroke="#333" stroke-width="0.9"/>
<text x="37.5" y="162.6" font-size="6.4" font-weight="bold" text-anchor="middle" fill="#111" stroke="#111" stroke-width="0.12">-6</text>
<line x1="64.5" y1="153.0" x2="64.5" y2="156.0" stroke="#333" stroke-width="0.9"/>
<text x="63.5" y="162.6" font-size="6.4" font-weight="bold" text-anchor="middle" fill="#111" stroke="#111" stroke-width="0.12">-4</text>
<line x1="90.5" y1="153.0" x2="90.5" y2="156.0" stroke="#333" stroke-width="0.9"/>
<text x="89.5" y="162.6" font-size="6.4" font-weight="bold" text-anchor="middle" fill="#111" stroke="#111" stroke-width="0.12">-2</text>
<line x1="116.5" y1="153.0" x2="116.5" y2="156.0" stroke="#333" stroke-width="0.9"/>
<text x="116.5" y="162.6" font-size="6.4" font-weight="bold" text-anchor="middle" fill="#111" stroke="#111" stroke-width="0.12">0</text>
<line x1="142.5" y1="153.0" x2="142.5" y2="156.0" stroke="#333" stroke-width="0.9"/>
<text x="142.5" y="162.6" font-size="6.4" font-weight="bold" text-anchor="middle" fill="#111" stroke="#111" stroke-width="0.12">2</text>
<line x1="168.5" y1="153.0" x2="168.5" y2="156.0" stroke="#333" stroke-width="0.9"/>
<text x="168.5" y="162.6" font-size="6.4" font-weight="bold" text-anchor="middle" fill="#111" stroke="#111" stroke-width="0.12">4</text>
<line x1="194.5" y1="153.0" x2="194.5" y2="156.0" stroke="#333" stroke-width="0.9"/>
<text x="194.5" y="162.6" font-size="6.4" font-weight="bold" text-anchor="middle" fill="#111" stroke="#111" stroke-width="0.12">6</text>
<line x1="220.5" y1="153.0" x2="220.5" y2="156.0" stroke="#333" stroke-width="0.9"/>
<text x="220.5" y="162.6" font-size="6.4" font-weight="bold" text-anchor="middle" fill="#111" stroke="#111" stroke-width="0.12">8</text>
<text x="74.7" y="173.0" font-size="6.34" font-weight="bold" text-anchor="start" fill="#111" stroke="#111" stroke-width="0.12" textLength="101.5" lengthAdjust="spacingAndGlyphs">Log2 fold change (Ang II vs saline)</text>
<g transform="translate(23.4,98.3) rotate(-90)">
<text x="0.0" y="0.0" font-size="6.72" font-weight="bold" text-anchor="middle" fill="#111" stroke="#111" stroke-width="0.12" textLength="40.4" lengthAdjust="spacingAndGlyphs">-Log10 (p-adj)</text>
</g>
<text x="264.5" y="11.2" font-size="9.5" font-weight="bold" text-anchor="start" fill="#111" stroke="#111" stroke-width="0.12">B</text>
<text x="378.9" y="16.7" font-size="6.42" font-weight="bold" text-anchor="start" fill="#111" stroke="#111" stroke-width="0.12" textLength="51.6" lengthAdjust="spacingAndGlyphs">Significant genes</text>
<text x="290.4" y="30.6" font-size="5.31" font-weight="bold" text-anchor="start" fill="#111" stroke="#111" stroke-width="0.12" textLength="19.2" lengthAdjust="spacingAndGlyphs">Mouse#</text>
<text x="306.2" y="46.0" font-size="5.74" font-weight="bold" text-anchor="end" fill="#111" stroke="#111" stroke-width="0.12" textLength="12.4" lengthAdjust="spacingAndGlyphs">2376</text>
<text x="306.2" y="57.5" font-size="5.74" font-weight="bold" text-anchor="end" fill="#111" stroke="#111" stroke-width="0.12" textLength="12.4" lengthAdjust="spacingAndGlyphs">2378</text>
<text x="306.2" y="69.1" font-size="5.74" font-weight="bold" text-anchor="end" fill="#111" stroke="#111" stroke-width="0.12" textLength="12.4" lengthAdjust="spacingAndGlyphs">2370</text>
<text x="306.2" y="80.6" font-size="5.74" font-weight="bold" text-anchor="end" fill="#111" stroke="#111" stroke-width="0.12" textLength="12.4" lengthAdjust="spacingAndGlyphs">2372</text>
<text x="306.2" y="92.2" font-size="5.74" font-weight="bold" text-anchor="end" fill="#111" stroke="#111" stroke-width="0.12" textLength="12.4" lengthAdjust="spacingAndGlyphs">2373</text>
<text x="306.2" y="103.7" font-size="5.74" font-weight="bold" text-anchor="end" fill="#111" stroke="#111" stroke-width="0.12" textLength="12.4" lengthAdjust="spacingAndGlyphs">2350</text>
<text x="306.2" y="115.3" font-size="5.74" font-weight="bold" text-anchor="end" fill="#111" stroke="#111" stroke-width="0.12" textLength="12.4" lengthAdjust="spacingAndGlyphs">2358</text>
<text x="306.2" y="126.8" font-size="5.74" font-weight="bold" text-anchor="end" fill="#111" stroke="#111" stroke-width="0.12" textLength="12.4" lengthAdjust="spacingAndGlyphs">2356</text>
<text x="306.2" y="138.4" font-size="5.74" font-weight="bold" text-anchor="end" fill="#111" stroke="#111" stroke-width="0.12" textLength="12.4" lengthAdjust="spacingAndGlyphs">2352</text>
<text x="306.2" y="149.9" font-size="5.74" font-weight="bold" text-anchor="end" fill="#111" stroke="#111" stroke-width="0.12" textLength="12.4" lengthAdjust="spacingAndGlyphs">2359</text>
<line x1="290.6" y1="40.3" x2="290.6" y2="90.8" stroke="#333" stroke-width="0.8"/>
<line x1="290.6" y1="98.0" x2="290.6" y2="152.7" stroke="#333" stroke-width="0.8"/>
<text x="264.8" y="66.0" font-size="6.27" font-weight="bold" text-anchor="start" fill="#111" stroke="#111" stroke-width="0.12" textLength="14.2" lengthAdjust="spacingAndGlyphs">IKKβ</text>
<text x="279.2" y="61.0" font-size="6.05" font-weight="bold" text-anchor="start" fill="#111" stroke="#111" stroke-width="0.12" textLength="8.5" lengthAdjust="spacingAndGlyphs">+/+</text>
<text x="264.8" y="74.0" font-size="6.4" font-weight="bold" text-anchor="start" fill="#111" stroke="#111" stroke-width="0.12" textLength="18.3" lengthAdjust="spacingAndGlyphs">Saline</text>
<text x="264.8" y="125.9" font-size="6.27" font-weight="bold" text-anchor="start" fill="#111" stroke="#111" stroke-width="0.12" textLength="14.2" lengthAdjust="spacingAndGlyphs">IKKβ</text>
<text x="279.2" y="120.8" font-size="6.05" font-weight="bold" text-anchor="start" fill="#111" stroke="#111" stroke-width="0.12" textLength="8.5" lengthAdjust="spacingAndGlyphs">+/+</text>
<text x="264.8" y="133.4" font-size="6.3" font-weight="bold" text-anchor="start" fill="#111" stroke="#111" stroke-width="0.12" textLength="17.0" lengthAdjust="spacingAndGlyphs">Ang II</text>
<rect x="307.7" y="38.2" width="206.6" height="115.5" fill="#f5f5f5"/>
<rect x="307.70" y="38.20" width="1.25" height="11.60" fill="#e5eaf3"/>
<rect x="307.70" y="49.75" width="1.25" height="11.60" fill="#a5bbdc"/>
<rect x="307.70" y="61.30" width="1.25" height="11.60" fill="#a5bbdc"/>
<rect x="307.70" y="72.85" width="1.25" height="11.60" fill="#dce4f1"/>
<rect x="307.70" y="84.40" width="1.25" height="11.60" fill="#f0e0e5"/>
<rect x="307.70" y="95.95" width="1.25" height="11.60" fill="#a2304a"/>
<rect x="307.70" y="107.50" width="1.25" height="11.60" fill="#ac465e"/>
<rect x="307.70" y="119.05" width="1.25" height="11.60" fill="#c2d1e8"/>
<rect x="307.70" y="130.60" width="1.25" height="11.60" fill="#f3ebef"/>
<rect x="307.70" y="142.15" width="1.25" height="11.60" fill="#edd5dc"/>
<rect x="308.90" y="38.20" width="4.05" height="11.60" fill="#89a5d0"/>
<rect x="308.90" y="49.75" width="4.05" height="11.60" fill="#acc1df"/>
<rect x="308.90" y="61.30" width="4.05" height="11.60" fill="#bbcce5"/>
<rect x="308.90" y="72.85" width="4.05" height="11.60" fill="#94add5"/>
<rect x="308.90" y="84.40" width="4.05" height="11.60" fill="#f2e5ea"/>
<rect x="308.90" y="95.95" width="4.05" height="11.60" fill="#b86074"/>
<rect x="308.90" y="107.50" width="4.05" height="11.60" fill="#dcacb8"/>
<rect x="308.90" y="119.05" width="4.05" height="11.60" fill="#f2e6ea"/>
<rect x="308.90" y="130.60" width="4.05" height="11.60" fill="#edd4db"/>
<rect x="308.90" y="142.15" width="4.05" height="11.60" fill="#efdae0"/>
<rect x="312.90" y="38.20" width="4.05" height="11.60" fill="#c9d7eb"/>
<rect x="312.90" y="49.75" width="4.05" height="11.60" fill="#9eb5d9"/>
<rect x="312.90" y="61.30" width="4.05" height="11.60" fill="#c6d5ea"/>
<rect x="312.90" y="72.85" width="4.05" height="11.60" fill="#8ea9d3"/>
<rect x="312.90" y="84.40" width="4.05" height="11.60" fill="#f1f2f6"/>
<rect x="312.90" y="95.95" width="4.05" height="11.60" fill="#b75e72"/>
<rect x="312.90" y="107.50" width="4.05" height="11.60" fill="#e0b5c0"/>
<rect x="312.90" y="119.05" width="4.05" height="11.60" fill="#e9edf4"/>
<rect x="312.90" y="130.60" width="4.05" height="11.60" fill="#cc8b9a"/>
<rect x="312.90" y="142.15" width="4.05" height="11.60" fill="#f2e7ec"/>
<rect x="316.90" y="38.20" width="3.05" height="11.60" fill="#dde5f1"/>
<rect x="316.90" y="49.75" width="3.05" height="11.60" fill="#eaedf4"/>
<rect x="316.90" y="61.30" width="3.05" height="11.60" fill="#c9d7eb"/>
<rect x="316.90" y="72.85" width="3.05" height="11.60" fill="#f0f1f6"/>
<rect x="316.90" y="84.40" width="3.05" height="11.60" fill="#f5f0f3"/>
<rect x="316.90" y="95.95" width="3.05" height="11.60" fill="#b04e64"/>
<rect x="316.90" y="107.50" width="3.05" height="11.60" fill="#ecd0d8"/>
<rect x="316.90" y="119.05" width="3.05" height="11.60" fill="#b5c7e3"/>
<rect x="316.90" y="130.60" width="3.05" height="11.60" fill="#f1e3e8"/>
<rect x="316.90" y="142.15" width="3.05" height="11.60" fill="#f3e8ec"/>
<rect x="319.90" y="38.20" width="3.55" height="11.60" fill="#c2d1e8"/>
<rect x="319.90" y="49.75" width="3.55" height="11.60" fill="#dae3f1"/>
<rect x="319.90" y="61.30" width="3.55" height="11.60" fill="#c2d2e9"/>
<rect x="319.90" y="72.85" width="3.55" height="11.60" fill="#bbcce6"/>
<rect x="319.90" y="84.40" width="3.55" height="11.60" fill="#dbe4f1"/>
<rect x="319.90" y="95.95" width="3.55" height="11.60" fill="#ae4960"/>
<rect x="319.90" y="107.50" width="3.55" height="11.60" fill="#c98495"/>
<rect x="319.90" y="119.05" width="3.55" height="11.60" fill="#e0e7f2"/>
<rect x="319.90" y="130.60" width="3.55" height="11.60" fill="#ecd1d9"/>
<rect x="319.90" y="142.15" width="3.55" height="11.60" fill="#e8c7d0"/>
<rect x="323.40" y="38.20" width="1.25" height="11.60" fill="#c3d3e9"/>
<rect x="323.40" y="49.75" width="1.25" height="11.60" fill="#95aed5"/>
<rect x="323.40" y="61.30" width="1.25" height="11.60" fill="#9bb3d8"/>
<rect x="323.40" y="72.85" width="1.25" height="11.60" fill="#8ea9d2"/>
<rect x="323.40" y="84.40" width="1.25" height="11.60" fill="#cfdcee"/>
<rect x="323.40" y="95.95" width="1.25" height="11.60" fill="#c07083"/>
<rect x="323.40" y="107.50" width="1.25" height="11.60" fill="#f0dfe5"/>
<rect x="323.40" y="119.05" width="1.25" height="11.60" fill="#ccd9ed"/>
<rect x="323.40" y="130.60" width="1.25" height="11.60" fill="#e5c0ca"/>
<rect x="323.40" y="142.15" width="1.25" height="11.60" fill="#e2bac4"/>
<rect x="324.60" y="38.20" width="4.05" height="11.60" fill="#c6d5ea"/>
<rect x="324.60" y="49.75" width="4.05" height="11.60" fill="#9bb3d8"/>
<rect x="324.60" y="61.30" width="4.05" height="11.60" fill="#98b0d7"/>
<rect x="324.60" y="72.85" width="4.05" height="11.60" fill="#a4badc"/>
<rect x="324.60" y="84.40" width="4.05" height="11.60" fill="#dae3f0"/>
<rect x="324.60" y="95.95" width="4.05" height="11.60" fill="#b5586e"/>
<rect x="324.60" y="107.50" width="4.05" height="11.60" fill="#dbabb7"/>
<rect x="324.60" y="119.05" width="4.05" height="11.60" fill="#dde5f1"/>
<rect x="324.60" y="130.60" width="4.05" height="11.60" fill="#f3e8ed"/>
<rect x="324.60" y="142.15" width="4.05" height="11.60" fill="#deb1bd"/>
<rect x="328.60" y="38.20" width="1.65" height="11.60" fill="#eceff5"/>
<rect x="328.60" y="49.75" width="1.65" height="11.60" fill="#c3d2e9"/>
<rect x="328.60" y="61.30" width="1.65" height="11.60" fill="#b8cae4"/>
<rect x="328.60" y="72.85" width="1.65" height="11.60" fill="#cad8ec"/>
<rect x="328.60" y="84.40" width="1.65" height="11.60" fill="#e1e7f2"/>
<rect x="328.60" y="95.95" width="1.65" height="11.60" fill="#d093a2"/>
<rect x="328.60" y="107.50" width="1.65" height="11.60" fill="#f5f3f5"/>
<rect x="328.60" y="119.05" width="1.65" height="11.60" fill="#f3e8ec"/>
<rect x="328.60" y="130.60" width="1.65" height="11.60" fill="#f4edf1"/>
<rect x="328.60" y="142.15" width="1.65" height="11.60" fill="#ebeef4"/>
<rect x="330.20" y="38.20" width="1.25" height="11.60" fill="#d3dfef"/>
<rect x="330.20" y="49.75" width="1.25" height="11.60" fill="#d3dfef"/>
<rect x="330.20" y="61.30" width="1.25" height="11.60" fill="#9ab2d8"/>
<rect x="330.20" y="72.85" width="1.25" height="11.60" fill="#92acd4"/>
<rect x="330.20" y="84.40" width="1.25" height="11.60" fill="#cbd9ec"/>
<rect x="330.20" y="95.95" width="1.25" height="11.60" fill="#bb6579"/>
<rect x="330.20" y="107.50" width="1.25" height="11.60" fill="#e6c4cd"/>
<rect x="330.20" y="119.05" width="1.25" height="11.60" fill="#eceff5"/>
<rect x="330.20" y="130.60" width="1.25" height="11.60" fill="#e3bcc6"/>
<rect x="330.20" y="142.15" width="1.25" height="11.60" fill="#f3e8ec"/>
<rect x="331.40" y="38.20" width="3.05" height="11.60" fill="#9eb5d9"/>
<rect x="331.40" y="49.75" width="3.05" height="11.60" fill="#90aad3"/>
<rect x="331.40" y="61.30" width="3.05" height="11.60" fill="#aec2e0"/>
<rect x="331.40" y="72.85" width="3.05" height="11.60" fill="#98b1d7"/>
<rect x="331.40" y="84.40" width="3.05" height="11.60" fill="#d9e3f0"/>
<rect x="331.40" y="95.95" width="3.05" height="11.60" fill="#aa4159"/>
<rect x="331.40" y="107.50" width="3.05" height="11.60" fill="#dfb3bf"/>
<rect x="331.40" y="119.05" width="3.05" height="11.60" fill="#dde5f1"/>
<rect x="331.40" y="130.60" width="3.05" height="11.60" fill="#f4edf1"/>
<rect x="331.40" y="142.15" width="3.05" height="11.60" fill="#e9cbd3"/>
<rect x="334.40" y="38.20" width="1.65" height="11.60" fill="#bacce5"/>
<rect x="334.40" y="49.75" width="1.65" height="11.60" fill="#93add5"/>
<rect x="334.40" y="61.30" width="1.65" height="11.60" fill="#7696c8"/>
<rect x="334.40" y="72.85" width="1.65" height="11.60" fill="#91abd4"/>
<rect x="334.40" y="84.40" width="1.65" height="11.60" fill="#d2deef"/>
<rect x="334.40" y="95.95" width="1.65" height="11.60" fill="#ca8696"/>
<rect x="334.40" y="107.50" width="1.65" height="11.60" fill="#b4576d"/>
<rect x="334.40" y="119.05" width="1.65" height="11.60" fill="#f5f2f5"/>
<rect x="334.40" y="130.60" width="1.65" height="11.60" fill="#cc8b9a"/>
<rect x="334.40" y="142.15" width="1.65" height="11.60" fill="#ecd1d9"/>
<rect x="336.00" y="38.20" width="3.55" height="11.60" fill="#9eb5d9"/>
<rect x="336.00" y="49.75" width="3.55" height="11.60" fill="#a5bbdc"/>
<rect x="336.00" y="61.30" width="3.55" height="11.60" fill="#c5d4ea"/>
<rect x="336.00" y="72.85" width="3.55" height="11.60" fill="#99b1d7"/>
<rect x="336.00" y="84.40" width="3.55" height="11.60" fill="#d0ddee"/>
<rect x="336.00" y="95.95" width="3.55" height="11.60" fill="#a2304a"/>
<rect x="336.00" y="107.50" width="3.55" height="11.60" fill="#dbacb8"/>
<rect x="336.00" y="119.05" width="3.55" height="11.60" fill="#f4ecf0"/>
<rect x="336.00" y="130.60" width="3.55" height="11.60" fill="#f2f2f6"/>
<rect x="336.00" y="142.15" width="3.55" height="11.60" fill="#efdbe1"/>
<rect x="339.50" y="38.20" width="3.05" height="11.60" fill="#e8ecf4"/>
<rect x="339.50" y="49.75" width="3.05" height="11.60" fill="#a4badc"/>
<rect x="339.50" y="61.30" width="3.05" height="11.60" fill="#aabfde"/>
<rect x="339.50" y="72.85" width="3.05" height="11.60" fill="#97b0d6"/>
<rect x="339.50" y="84.40" width="3.05" height="11.60" fill="#b8cae4"/>
<rect x="339.50" y="95.95" width="3.05" height="11.60" fill="#c67d8e"/>
<rect x="339.50" y="107.50" width="3.05" height="11.60" fill="#bd6a7d"/>
<rect x="339.50" y="119.05" width="3.05" height="11.60" fill="#e7ebf3"/>
<rect x="339.50" y="130.60" width="3.05" height="11.60" fill="#e6c4cd"/>
<rect x="339.50" y="142.15" width="3.05" height="11.60" fill="#f3ebee"/>
<rect x="342.50" y="38.20" width="2.05" height="11.60" fill="#c1d1e8"/>
<rect x="342.50" y="49.75" width="2.05" height="11.60" fill="#a2b8db"/>
<rect x="342.50" y="61.30" width="2.05" height="11.60" fill="#c9d7ec"/>
<rect x="342.50" y="72.85" width="2.05" height="11.60" fill="#c8d6eb"/>
<rect x="342.50" y="84.40" width="2.05" height="11.60" fill="#acc1df"/>
<rect x="342.50" y="95.95" width="2.05" height="11.60" fill="#a2304a"/>
<rect x="342.50" y="107.50" width="2.05" height="11.60" fill="#eacbd4"/>
<rect x="342.50" y="119.05" width="2.05" height="11.60" fill="#f4f3f6"/>
<rect x="342.50" y="130.60" width="2.05" height="11.60" fill="#dce4f1"/>
<rect x="342.50" y="142.15" width="2.05" height="11.60" fill="#e0e7f2"/>
<rect x="344.50" y="38.20" width="2.55" height="11.60" fill="#dde5f1"/>
<rect x="344.50" y="49.75" width="2.55" height="11.60" fill="#c8d6eb"/>
<rect x="344.50" y="61.30" width="2.55" height="11.60" fill="#e3e9f3"/>
<rect x="344.50" y="72.85" width="2.55" height="11.60" fill="#d8e2f0"/>
<rect x="344.50" y="84.40" width="2.55" height="11.60" fill="#e4eaf3"/>
<rect x="344.50" y="95.95" width="2.55" height="11.60" fill="#c98596"/>
<rect x="344.50" y="107.50" width="2.55" height="11.60" fill="#f3eaee"/>
<rect x="344.50" y="119.05" width="2.55" height="11.60" fill="#edd5dc"/>
<rect x="344.50" y="130.60" width="2.55" height="11.60" fill="#f3f3f6"/>
<rect x="344.50" y="142.15" width="2.55" height="11.60" fill="#f2f2f6"/>
<rect x="347.00" y="38.20" width="4.05" height="11.60" fill="#d0ddee"/>
<rect x="347.00" y="49.75" width="4.05" height="11.60" fill="#bccde6"/>
<rect x="347.00" y="61.30" width="4.05" height="11.60" fill="#e7ebf4"/>
<rect x="347.00" y="72.85" width="4.05" height="11.60" fill="#becfe7"/>
<rect x="347.00" y="84.40" width="4.05" height="11.60" fill="#ebeef4"/>
<rect x="347.00" y="95.95" width="4.05" height="11.60" fill="#bb677b"/>
<rect x="347.00" y="107.50" width="4.05" height="11.60" fill="#f0e0e5"/>
<rect x="347.00" y="119.05" width="4.05" height="11.60" fill="#f6f4f6"/>
<rect x="347.00" y="130.60" width="4.05" height="11.60" fill="#f1e4e8"/>
<rect x="347.00" y="142.15" width="4.05" height="11.60" fill="#e6c2cc"/>
<rect x="351.00" y="38.20" width="1.65" height="11.60" fill="#8ea9d2"/>
<rect x="351.00" y="49.75" width="1.65" height="11.60" fill="#819fcd"/>
<rect x="351.00" y="61.30" width="1.65" height="11.60" fill="#c0d0e8"/>
<rect x="351.00" y="72.85" width="1.65" height="11.60" fill="#b4c7e3"/>
<rect x="351.00" y="84.40" width="1.65" height="11.60" fill="#d9e2f0"/>
<rect x="351.00" y="95.95" width="1.65" height="11.60" fill="#a2304a"/>
<rect x="351.00" y="107.50" width="1.65" height="11.60" fill="#daa9b5"/>
<rect x="351.00" y="119.05" width="1.65" height="11.60" fill="#f0f1f6"/>
<rect x="351.00" y="130.60" width="1.65" height="11.60" fill="#eed8df"/>
<rect x="351.00" y="142.15" width="1.65" height="11.60" fill="#f1e3e8"/>
<rect x="352.60" y="38.20" width="3.05" height="11.60" fill="#c9d7eb"/>
<rect x="352.60" y="49.75" width="3.05" height="11.60" fill="#c1d1e8"/>
<rect x="352.60" y="61.30" width="3.05" height="11.60" fill="#8ba7d1"/>
<rect x="352.60" y="72.85" width="3.05" height="11.60" fill="#5179b9"/>
<rect x="352.60" y="84.40" width="3.05" height="11.60" fill="#f4f4f7"/>
<rect x="352.60" y="95.95" width="3.05" height="11.60" fill="#a2304a"/>
<rect x="352.60" y="107.50" width="3.05" height="11.60" fill="#d39ba9"/>
<rect x="352.60" y="119.05" width="3.05" height="11.60" fill="#eff1f5"/>
<rect x="352.60" y="130.60" width="3.05" height="11.60" fill="#edd2da"/>
<rect x="352.60" y="142.15" width="3.05" height="11.60" fill="#e7c4ce"/>
<rect x="355.60" y="38.20" width="3.55" height="11.60" fill="#d2deef"/>
<rect x="355.60" y="49.75" width="3.55" height="11.60" fill="#b2c5e2"/>
<rect x="355.60" y="61.30" width="3.55" height="11.60" fill="#d9e3f0"/>
<rect x="355.60" y="72.85" width="3.55" height="11.60" fill="#d8e2f0"/>
<rect x="355.60" y="84.40" width="3.55" height="11.60" fill="#eff1f5"/>
<rect x="355.60" y="95.95" width="3.55" height="11.60" fill="#d6a0ad"/>
<rect x="355.60" y="107.50" width="3.55" height="11.60" fill="#d59fad"/>
<rect x="355.60" y="119.05" width="3.55" height="11.60" fill="#eceef5"/>
<rect x="355.60" y="130.60" width="3.55" height="11.60" fill="#d299a7"/>
<rect x="355.60" y="142.15" width="3.55" height="11.60" fill="#eed7de"/>
<rect x="359.10" y="38.20" width="2.05" height="11.60" fill="#b8cae4"/>
<rect x="359.10" y="49.75" width="2.05" height="11.60" fill="#d1ddee"/>
<rect x="359.10" y="61.30" width="2.05" height="11.60" fill="#d3deef"/>
<rect x="359.10" y="72.85" width="2.05" height="11.60" fill="#85a2cf"/>
<rect x="359.10" y="84.40" width="2.05" height="11.60" fill="#abc0df"/>
<rect x="359.10" y="95.95" width="2.05" height="11.60" fill="#d49ba9"/>
<rect x="359.10" y="107.50" width="2.05" height="11.60" fill="#c98394"/>
<rect x="359.10" y="119.05" width="2.05" height="11.60" fill="#f3e8ec"/>
<rect x="359.10" y="130.60" width="2.05" height="11.60" fill="#e4bec8"/>
<rect x="359.10" y="142.15" width="2.05" height="11.60" fill="#f3ebef"/>
<rect x="361.10" y="38.20" width="1.25" height="11.60" fill="#b8cae4"/>
<rect x="361.10" y="49.75" width="1.25" height="11.60" fill="#e3e9f3"/>
<rect x="361.10" y="61.30" width="1.25" height="11.60" fill="#acc1df"/>
<rect x="361.10" y="72.85" width="1.25" height="11.60" fill="#dce4f1"/>
<rect x="361.10" y="84.40" width="1.25" height="11.60" fill="#ebeef5"/>
<rect x="361.10" y="95.95" width="1.25" height="11.60" fill="#d7a4b1"/>
<rect x="361.10" y="107.50" width="1.25" height="11.60" fill="#edd5dc"/>
<rect x="361.10" y="119.05" width="1.25" height="11.60" fill="#f4eef1"/>
<rect x="361.10" y="130.60" width="1.25" height="11.60" fill="#f2e6eb"/>
<rect x="361.10" y="142.15" width="1.25" height="11.60" fill="#f4ecef"/>
<rect x="362.30" y="38.20" width="4.05" height="11.60" fill="#91abd4"/>
<rect x="362.30" y="49.75" width="4.05" height="11.60" fill="#c0d0e8"/>
<rect x="362.30" y="61.30" width="4.05" height="11.60" fill="#b1c5e1"/>
<rect x="362.30" y="72.85" width="4.05" height="11.60" fill="#bccde6"/>
<rect x="362.30" y="84.40" width="4.05" height="11.60" fill="#d3dfef"/>
<rect x="362.30" y="95.95" width="4.05" height="11.60" fill="#ad4960"/>
<rect x="362.30" y="107.50" width="4.05" height="11.60" fill="#d6a0ae"/>
<rect x="362.30" y="119.05" width="4.05" height="11.60" fill="#efdbe1"/>
<rect x="362.30" y="130.60" width="4.05" height="11.60" fill="#e7c5ce"/>
<rect x="362.30" y="142.15" width="4.05" height="11.60" fill="#eed8de"/>
<rect x="366.30" y="38.20" width="1.65" height="11.60" fill="#c1d1e8"/>
<rect x="366.30" y="49.75" width="1.65" height="11.60" fill="#bdcee6"/>
<rect x="366.30" y="61.30" width="1.65" height="11.60" fill="#d1ddee"/>
<rect x="366.30" y="72.85" width="1.65" height="11.60" fill="#d0ddee"/>
<rect x="366.30" y="84.40" width="1.65" height="11.60" fill="#f3f3f6"/>
<rect x="366.30" y="95.95" width="1.65" height="11.60" fill="#b86075"/>
<rect x="366.30" y="107.50" width="1.65" height="11.60" fill="#e0b7c1"/>
<rect x="366.30" y="119.05" width="1.65" height="11.60" fill="#f1e1e6"/>
<rect x="366.30" y="130.60" width="1.65" height="11.60" fill="#d196a5"/>
<rect x="366.30" y="142.15" width="1.65" height="11.60" fill="#f3f3f6"/>
<rect x="367.90" y="38.20" width="4.05" height="11.60" fill="#c8d7eb"/>
<rect x="367.90" y="49.75" width="4.05" height="11.60" fill="#bacbe5"/>
<rect x="367.90" y="61.30" width="4.05" height="11.60" fill="#d5e0ef"/>
<rect x="367.90" y="72.85" width="4.05" height="11.60" fill="#8da8d2"/>
<rect x="367.90" y="84.40" width="4.05" height="11.60" fill="#e2e8f2"/>
<rect x="367.90" y="95.95" width="4.05" height="11.60" fill="#a2304a"/>
<rect x="367.90" y="107.50" width="4.05" height="11.60" fill="#c67d8f"/>
<rect x="367.90" y="119.05" width="4.05" height="11.60" fill="#f2e5ea"/>
<rect x="367.90" y="130.60" width="4.05" height="11.60" fill="#f0e0e6"/>
<rect x="367.90" y="142.15" width="4.05" height="11.60" fill="#f6f5f7"/>
<rect x="371.90" y="38.20" width="1.25" height="11.60" fill="#87a3cf"/>
<rect x="371.90" y="49.75" width="1.25" height="11.60" fill="#97afd6"/>
<rect x="371.90" y="61.30" width="1.25" height="11.60" fill="#d4dfef"/>
<rect x="371.90" y="72.85" width="1.25" height="11.60" fill="#bbcce6"/>
<rect x="371.90" y="84.40" width="1.25" height="11.60" fill="#f5f1f4"/>
<rect x="371.90" y="95.95" width="1.25" height="11.60" fill="#b04e64"/>
<rect x="371.90" y="107.50" width="1.25" height="11.60" fill="#ad475f"/>
<rect x="371.90" y="119.05" width="1.25" height="11.60" fill="#f3f3f6"/>
<rect x="371.90" y="130.60" width="1.25" height="11.60" fill="#f0dde3"/>
<rect x="371.90" y="142.15" width="1.25" height="11.60" fill="#eed8df"/>
<rect x="373.10" y="38.20" width="4.05" height="11.60" fill="#adc1df"/>
<rect x="373.10" y="49.75" width="4.05" height="11.60" fill="#dae3f1"/>
<rect x="373.10" y="61.30" width="4.05" height="11.60" fill="#d0ddee"/>
<rect x="373.10" y="72.85" width="4.05" height="11.60" fill="#a9bede"/>
<rect x="373.10" y="84.40" width="4.05" height="11.60" fill="#edf0f5"/>
<rect x="373.10" y="95.95" width="4.05" height="11.60" fill="#b75e73"/>
<rect x="373.10" y="107.50" width="4.05" height="11.60" fill="#c57b8d"/>
<rect x="373.10" y="119.05" width="4.05" height="11.60" fill="#f4eef1"/>
<rect x="373.10" y="130.60" width="4.05" height="11.60" fill="#e8c8d1"/>
<rect x="373.10" y="142.15" width="4.05" height="11.60" fill="#f5f2f4"/>
<rect x="377.10" y="38.20" width="1.25" height="11.60" fill="#c0d0e7"/>
<rect x="377.10" y="49.75" width="1.25" height="11.60" fill="#d6e1f0"/>
<rect x="377.10" y="61.30" width="1.25" height="11.60" fill="#d3deef"/>
<rect x="377.10" y="72.85" width="1.25" height="11.60" fill="#cddbed"/>
<rect x="377.10" y="84.40" width="1.25" height="11.60" fill="#f0e0e6"/>
<rect x="377.10" y="95.95" width="1.25" height="11.60" fill="#a73c54"/>
<rect x="377.10" y="107.50" width="1.25" height="11.60" fill="#e9cad3"/>
<rect x="377.10" y="119.05" width="1.25" height="11.60" fill="#f4ecf0"/>
<rect x="377.10" y="130.60" width="1.25" height="11.60" fill="#e6ebf3"/>
<rect x="377.10" y="142.15" width="1.25" height="11.60" fill="#f0dde3"/>
<rect x="378.30" y="38.20" width="3.05" height="11.60" fill="#c8d6eb"/>
<rect x="378.30" y="49.75" width="3.05" height="11.60" fill="#cbd9ec"/>
<rect x="378.30" y="61.30" width="3.05" height="11.60" fill="#aabfde"/>
<rect x="378.30" y="72.85" width="3.05" height="11.60" fill="#cfdcee"/>
<rect x="378.30" y="84.40" width="3.05" height="11.60" fill="#c1d1e8"/>
<rect x="378.30" y="95.95" width="3.05" height="11.60" fill="#c27588"/>
<rect x="378.30" y="107.50" width="3.05" height="11.60" fill="#eacbd3"/>
<rect x="378.30" y="119.05" width="3.05" height="11.60" fill="#f3eaee"/>
<rect x="378.30" y="130.60" width="3.05" height="11.60" fill="#f1e3e8"/>
<rect x="378.30" y="142.15" width="3.05" height="11.60" fill="#eed7de"/>
<rect x="381.30" y="38.20" width="4.05" height="11.60" fill="#a7bddd"/>
<rect x="381.30" y="49.75" width="4.05" height="11.60" fill="#5e83be"/>
<rect x="381.30" y="61.30" width="4.05" height="11.60" fill="#dbe4f1"/>
<rect x="381.30" y="72.85" width="4.05" height="11.60" fill="#9ab2d7"/>
<rect x="381.30" y="84.40" width="4.05" height="11.60" fill="#d2deef"/>
<rect x="381.30" y="95.95" width="4.05" height="11.60" fill="#a94058"/>
<rect x="381.30" y="107.50" width="4.05" height="11.60" fill="#d195a4"/>
<rect x="381.30" y="119.05" width="4.05" height="11.60" fill="#eceff5"/>
<rect x="381.30" y="130.60" width="4.05" height="11.60" fill="#f2e6eb"/>
<rect x="381.30" y="142.15" width="4.05" height="11.60" fill="#f2e4e9"/>
<rect x="385.30" y="38.20" width="3.55" height="11.60" fill="#6f90c5"/>
<rect x="385.30" y="49.75" width="3.55" height="11.60" fill="#aabfde"/>
<rect x="385.30" y="61.30" width="3.55" height="11.60" fill="#6e90c5"/>
<rect x="385.30" y="72.85" width="3.55" height="11.60" fill="#a0b7da"/>
<rect x="385.30" y="84.40" width="3.55" height="11.60" fill="#b4c6e2"/>
<rect x="385.30" y="95.95" width="3.55" height="11.60" fill="#a73c54"/>
<rect x="385.30" y="107.50" width="3.55" height="11.60" fill="#c47a8c"/>
<rect x="385.30" y="119.05" width="3.55" height="11.60" fill="#f1e1e6"/>
<rect x="385.30" y="130.60" width="3.55" height="11.60" fill="#d9a7b3"/>
<rect x="385.30" y="142.15" width="3.55" height="11.60" fill="#f2e5e9"/>
<rect x="388.80" y="38.20" width="2.05" height="11.60" fill="#eef0f5"/>
<rect x="388.80" y="49.75" width="2.05" height="11.60" fill="#b4c7e3"/>
<rect x="388.80" y="61.30" width="2.05" height="11.60" fill="#bacbe5"/>
<rect x="388.80" y="72.85" width="2.05" height="11.60" fill="#678ac2"/>
<rect x="388.80" y="84.40" width="2.05" height="11.60" fill="#b4c6e2"/>
<rect x="388.80" y="95.95" width="2.05" height="11.60" fill="#e3bdc7"/>
<rect x="388.80" y="107.50" width="2.05" height="11.60" fill="#efdbe1"/>
<rect x="388.80" y="119.05" width="2.05" height="11.60" fill="#f6f4f6"/>
<rect x="388.80" y="130.60" width="2.05" height="11.60" fill="#edd4db"/>
<rect x="388.80" y="142.15" width="2.05" height="11.60" fill="#f2e6ea"/>
<rect x="390.80" y="38.20" width="1.65" height="11.60" fill="#a2b9db"/>
<rect x="390.80" y="49.75" width="1.65" height="11.60" fill="#b1c4e1"/>
<rect x="390.80" y="61.30" width="1.65" height="11.60" fill="#d3deef"/>
<rect x="390.80" y="72.85" width="1.65" height="11.60" fill="#a9bede"/>
<rect x="390.80" y="84.40" width="1.65" height="11.60" fill="#dfe7f2"/>
<rect x="390.80" y="95.95" width="1.65" height="11.60" fill="#bc677b"/>
<rect x="390.80" y="107.50" width="1.65" height="11.60" fill="#daa9b5"/>
<rect x="390.80" y="119.05" width="1.65" height="11.60" fill="#efdde3"/>
<rect x="390.80" y="130.60" width="1.65" height="11.60" fill="#f2e5ea"/>
<rect x="390.80" y="142.15" width="1.65" height="11.60" fill="#f3eaee"/>
<rect x="392.40" y="38.20" width="1.65" height="11.60" fill="#99b1d7"/>
<rect x="392.40" y="49.75" width="1.65" height="11.60" fill="#8ba7d1"/>
<rect x="392.40" y="61.30" width="1.65" height="11.60" fill="#becee7"/>
<rect x="392.40" y="72.85" width="1.65" height="11.60" fill="#4d75b7"/>
<rect x="392.40" y="84.40" width="1.65" height="11.60" fill="#f0f1f6"/>
<rect x="392.40" y="95.95" width="1.65" height="11.60" fill="#a2304a"/>
<rect x="392.40" y="107.50" width="1.65" height="11.60" fill="#b65c71"/>
<rect x="392.40" y="119.05" width="1.65" height="11.60" fill="#f5f1f4"/>
<rect x="392.40" y="130.60" width="1.65" height="11.60" fill="#efdbe2"/>
<rect x="392.40" y="142.15" width="1.65" height="11.60" fill="#e7c5cf"/>
<rect x="394.00" y="38.20" width="0.75" height="11.60" fill="#d5e0ef"/>
<rect x="394.00" y="49.75" width="0.75" height="11.60" fill="#c6d5ea"/>
<rect x="394.00" y="61.30" width="0.75" height="11.60" fill="#d7e1f0"/>
<rect x="394.00" y="72.85" width="0.75" height="11.60" fill="#c5d4ea"/>
<rect x="394.00" y="84.40" width="0.75" height="11.60" fill="#e9edf4"/>
<rect x="394.00" y="95.95" width="0.75" height="11.60" fill="#bf6f82"/>
<rect x="394.00" y="107.50" width="0.75" height="11.60" fill="#efdae1"/>
<rect x="394.00" y="119.05" width="0.75" height="11.60" fill="#f0f1f6"/>
<rect x="394.00" y="130.60" width="0.75" height="11.60" fill="#dbabb7"/>
<rect x="394.00" y="142.15" width="0.75" height="11.60" fill="#eed8df"/>
<rect x="394.70" y="38.20" width="3.05" height="11.60" fill="#edeff5"/>
<rect x="394.70" y="49.75" width="3.05" height="11.60" fill="#dfe6f2"/>
<rect x="394.70" y="61.30" width="3.05" height="11.60" fill="#e8ecf4"/>
<rect x="394.70" y="72.85" width="3.05" height="11.60" fill="#e9ecf4"/>
<rect x="394.70" y="84.40" width="3.05" height="11.60" fill="#f3ebef"/>
<rect x="394.70" y="95.95" width="3.05" height="11.60" fill="#f3e9ed"/>
<rect x="394.70" y="107.50" width="3.05" height="11.60" fill="#f6f3f6"/>
<rect x="394.70" y="119.05" width="3.05" height="11.60" fill="#b25268"/>
<rect x="394.70" y="130.60" width="3.05" height="11.60" fill="#f3eaee"/>
<rect x="394.70" y="142.15" width="3.05" height="11.60" fill="#f3e9ed"/>
<rect x="397.70" y="38.20" width="4.05" height="11.60" fill="#edf0f5"/>
<rect x="397.70" y="49.75" width="4.05" height="11.60" fill="#d9e2f0"/>
<rect x="397.70" y="61.30" width="4.05" height="11.60" fill="#d7e1f0"/>
<rect x="397.70" y="72.85" width="4.05" height="11.60" fill="#e7ebf4"/>
<rect x="397.70" y="84.40" width="4.05" height="11.60" fill="#f4f4f7"/>
<rect x="397.70" y="95.95" width="4.05" height="11.60" fill="#edd5dc"/>
<rect x="397.70" y="107.50" width="4.05" height="11.60" fill="#f4eef1"/>
<rect x="397.70" y="119.05" width="4.05" height="11.60" fill="#a2304a"/>
<rect x="397.70" y="130.60" width="4.05" height="11.60" fill="#ebeef4"/>
<rect x="397.70" y="142.15" width="4.05" height="11.60" fill="#d3dfef"/>
<rect x="401.70" y="38.20" width="1.65" height="11.60" fill="#eaedf4"/>
<rect x="401.70" y="49.75" width="1.65" height="11.60" fill="#eef0f5"/>
<rect x="401.70" y="61.30" width="1.65" height="11.60" fill="#eef0f5"/>
<rect x="401.70" y="72.85" width="1.65" height="11.60" fill="#e2e8f2"/>
<rect x="401.70" y="84.40" width="1.65" height="11.60" fill="#f3e9ed"/>
<rect x="401.70" y="95.95" width="1.65" height="11.60" fill="#efdae0"/>
<rect x="401.70" y="107.50" width="1.65" height="11.60" fill="#f5f3f5"/>
<rect x="401.70" y="119.05" width="1.65" height="11.60" fill="#b75d72"/>
<rect x="401.70" y="130.60" width="1.65" height="11.60" fill="#f6f5f7"/>
<rect x="401.70" y="142.15" width="1.65" height="11.60" fill="#f3f3f6"/>
<rect x="403.30" y="38.20" width="1.25" height="11.60" fill="#a2b9db"/>
<rect x="403.30" y="49.75" width="1.25" height="11.60" fill="#cedbee"/>
<rect x="403.30" y="61.30" width="1.25" height="11.60" fill="#92acd4"/>
<rect x="403.30" y="72.85" width="1.25" height="11.60" fill="#bfd0e7"/>
<rect x="403.30" y="84.40" width="1.25" height="11.60" fill="#c5d4ea"/>
<rect x="403.30" y="95.95" width="1.25" height="11.60" fill="#efdae1"/>
<rect x="403.30" y="107.50" width="1.25" height="11.60" fill="#edeff5"/>
<rect x="403.30" y="119.05" width="1.25" height="11.60" fill="#a2304a"/>
<rect x="403.30" y="130.60" width="1.25" height="11.60" fill="#ebeef4"/>
<rect x="403.30" y="142.15" width="1.25" height="11.60" fill="#d8e2f0"/>
<rect x="404.50" y="38.20" width="3.05" height="11.60" fill="#d0ddee"/>
<rect x="404.50" y="49.75" width="3.05" height="11.60" fill="#dee6f1"/>
<rect x="404.50" y="61.30" width="3.05" height="11.60" fill="#c5d4ea"/>
<rect x="404.50" y="72.85" width="3.05" height="11.60" fill="#e5eaf3"/>
<rect x="404.50" y="84.40" width="3.05" height="11.60" fill="#bacbe5"/>
<rect x="404.50" y="95.95" width="3.05" height="11.60" fill="#eccfd7"/>
<rect x="404.50" y="107.50" width="3.05" height="11.60" fill="#d7e1f0"/>
<rect x="404.50" y="119.05" width="3.05" height="11.60" fill="#ad475e"/>
<rect x="404.50" y="130.60" width="3.05" height="11.60" fill="#f5f1f4"/>
<rect x="404.50" y="142.15" width="3.05" height="11.60" fill="#d3deef"/>
<rect x="407.50" y="38.20" width="2.35" height="11.60" fill="#9bb3d8"/>
<rect x="407.50" y="49.75" width="2.35" height="11.60" fill="#97b0d6"/>
<rect x="407.50" y="61.30" width="2.35" height="11.60" fill="#cddaed"/>
<rect x="407.50" y="72.85" width="2.35" height="11.60" fill="#97b0d6"/>
<rect x="407.50" y="84.40" width="2.35" height="11.60" fill="#ebeef4"/>
<rect x="407.50" y="95.95" width="2.35" height="11.60" fill="#d7a3b0"/>
<rect x="407.50" y="107.50" width="2.35" height="11.60" fill="#d3dfef"/>
<rect x="407.50" y="119.05" width="2.35" height="11.60" fill="#a2304a"/>
<rect x="407.50" y="130.60" width="2.35" height="11.60" fill="#f2f3f6"/>
<rect x="407.50" y="142.15" width="2.35" height="11.60" fill="#e8ecf4"/>
<rect x="411.00" y="38.20" width="3.05" height="11.60" fill="#dfb3bf"/>
<rect x="411.00" y="49.75" width="3.05" height="11.60" fill="#dbacb8"/>
<rect x="411.00" y="61.30" width="3.05" height="11.60" fill="#e9c9d1"/>
<rect x="411.00" y="72.85" width="3.05" height="11.60" fill="#f1e2e7"/>
<rect x="411.00" y="84.40" width="3.05" height="11.60" fill="#d59fad"/>
<rect x="411.00" y="95.95" width="3.05" height="11.60" fill="#a9bede"/>
<rect x="411.00" y="107.50" width="3.05" height="11.60" fill="#bfd0e7"/>
<rect x="411.00" y="119.05" width="3.05" height="11.60" fill="#eceff5"/>
<rect x="411.00" y="130.60" width="3.05" height="11.60" fill="#dfe7f2"/>
<rect x="411.00" y="142.15" width="3.05" height="11.60" fill="#dce5f1"/>
<rect x="414.00" y="38.20" width="2.55" height="11.60" fill="#ecd1d9"/>
<rect x="414.00" y="49.75" width="2.55" height="11.60" fill="#e1b9c4"/>
<rect x="414.00" y="61.30" width="2.55" height="11.60" fill="#eed8df"/>
<rect x="414.00" y="72.85" width="2.55" height="11.60" fill="#ce909f"/>
<rect x="414.00" y="84.40" width="2.55" height="11.60" fill="#c27587"/>
<rect x="414.00" y="95.95" width="2.55" height="11.60" fill="#aabfde"/>
<rect x="414.00" y="107.50" width="2.55" height="11.60" fill="#b8cae4"/>
<rect x="414.00" y="119.05" width="2.55" height="11.60" fill="#e4eaf3"/>
<rect x="414.00" y="130.60" width="2.55" height="11.60" fill="#edeff5"/>
<rect x="414.00" y="142.15" width="2.55" height="11.60" fill="#e6ebf3"/>
<rect x="416.50" y="38.20" width="3.05" height="11.60" fill="#d094a2"/>
<rect x="416.50" y="49.75" width="3.05" height="11.60" fill="#e0b6c1"/>
<rect x="416.50" y="61.30" width="3.05" height="11.60" fill="#f1e4e8"/>
<rect x="416.50" y="72.85" width="3.05" height="11.60" fill="#e8c7d0"/>
<rect x="416.50" y="84.40" width="3.05" height="11.60" fill="#ce909f"/>
<rect x="416.50" y="95.95" width="3.05" height="11.60" fill="#bfcfe7"/>
<rect x="416.50" y="107.50" width="3.05" height="11.60" fill="#a8bddd"/>
<rect x="416.50" y="119.05" width="3.05" height="11.60" fill="#e6ebf3"/>
<rect x="416.50" y="130.60" width="3.05" height="11.60" fill="#edeff5"/>
<rect x="416.50" y="142.15" width="3.05" height="11.60" fill="#d7e1f0"/>
<rect x="419.50" y="38.20" width="1.65" height="11.60" fill="#d59dab"/>
<rect x="419.50" y="49.75" width="1.65" height="11.60" fill="#c07183"/>
<rect x="419.50" y="61.30" width="1.65" height="11.60" fill="#f3e9ed"/>
<rect x="419.50" y="72.85" width="1.65" height="11.60" fill="#cc8a9a"/>
<rect x="419.50" y="84.40" width="1.65" height="11.60" fill="#cc8c9c"/>
<rect x="419.50" y="95.95" width="1.65" height="11.60" fill="#7c9bcb"/>
<rect x="419.50" y="107.50" width="1.65" height="11.60" fill="#6286c0"/>
<rect x="419.50" y="119.05" width="1.65" height="11.60" fill="#dae3f1"/>
<rect x="419.50" y="130.60" width="1.65" height="11.60" fill="#dde5f1"/>
<rect x="419.50" y="142.15" width="1.65" height="11.60" fill="#d8e2f0"/>
<rect x="421.10" y="38.20" width="1.65" height="11.60" fill="#d298a6"/>
<rect x="421.10" y="49.75" width="1.65" height="11.60" fill="#e2bbc5"/>
<rect x="421.10" y="61.30" width="1.65" height="11.60" fill="#dbabb7"/>
<rect x="421.10" y="72.85" width="1.65" height="11.60" fill="#d9a8b4"/>
<rect x="421.10" y="84.40" width="1.65" height="11.60" fill="#c27587"/>
<rect x="421.10" y="95.95" width="1.65" height="11.60" fill="#9bb3d8"/>
<rect x="421.10" y="107.50" width="1.65" height="11.60" fill="#7c9acb"/>
<rect x="421.10" y="119.05" width="1.65" height="11.60" fill="#dae3f1"/>
<rect x="421.10" y="130.60" width="1.65" height="11.60" fill="#dce5f1"/>
<rect x="421.10" y="142.15" width="1.65" height="11.60" fill="#cedbee"/>
<rect x="422.70" y="38.20" width="1.65" height="11.60" fill="#f3e8ed"/>
<rect x="422.70" y="49.75" width="1.65" height="11.60" fill="#ecd0d8"/>
<rect x="422.70" y="61.30" width="1.65" height="11.60" fill="#f4f4f7"/>
<rect x="422.70" y="72.85" width="1.65" height="11.60" fill="#f3e9ed"/>
<rect x="422.70" y="84.40" width="1.65" height="11.60" fill="#dfb4bf"/>
<rect x="422.70" y="95.95" width="1.65" height="11.60" fill="#c6d5ea"/>
<rect x="422.70" y="107.50" width="1.65" height="11.60" fill="#aec2e0"/>
<rect x="422.70" y="119.05" width="1.65" height="11.60" fill="#e8ecf4"/>
<rect x="422.70" y="130.60" width="1.65" height="11.60" fill="#e5eaf3"/>
<rect x="422.70" y="142.15" width="1.65" height="11.60" fill="#d6e0f0"/>
<rect x="424.30" y="38.20" width="1.25" height="11.60" fill="#e6c3cd"/>
<rect x="424.30" y="49.75" width="1.25" height="11.60" fill="#dcadb9"/>
<rect x="424.30" y="61.30" width="1.25" height="11.60" fill="#eccfd7"/>
<rect x="424.30" y="72.85" width="1.25" height="11.60" fill="#d094a2"/>
<rect x="424.30" y="84.40" width="1.25" height="11.60" fill="#ddafbb"/>
<rect x="424.30" y="95.95" width="1.25" height="11.60" fill="#6387c0"/>
<rect x="424.30" y="107.50" width="1.25" height="11.60" fill="#829fcd"/>
<rect x="424.30" y="119.05" width="1.25" height="11.60" fill="#d8e2f0"/>
<rect x="424.30" y="130.60" width="1.25" height="11.60" fill="#dce4f1"/>
<rect x="424.30" y="142.15" width="1.25" height="11.60" fill="#c4d3e9"/>
<rect x="425.50" y="38.20" width="3.05" height="11.60" fill="#eed6dd"/>
<rect x="425.50" y="49.75" width="3.05" height="11.60" fill="#cb8999"/>
<rect x="425.50" y="61.30" width="3.05" height="11.60" fill="#deb1bc"/>
<rect x="425.50" y="72.85" width="3.05" height="11.60" fill="#c98494"/>
<rect x="425.50" y="84.40" width="3.05" height="11.60" fill="#d7a3b0"/>
<rect x="425.50" y="95.95" width="3.05" height="11.60" fill="#c1d1e8"/>
<rect x="425.50" y="107.50" width="3.05" height="11.60" fill="#b0c3e1"/>
<rect x="425.50" y="119.05" width="3.05" height="11.60" fill="#f3f3f6"/>
<rect x="425.50" y="130.60" width="3.05" height="11.60" fill="#e4eaf3"/>
<rect x="425.50" y="142.15" width="3.05" height="11.60" fill="#cbd9ec"/>
<rect x="428.50" y="38.20" width="2.05" height="11.60" fill="#deb1bd"/>
<rect x="428.50" y="49.75" width="2.05" height="11.60" fill="#c67f90"/>
<rect x="428.50" y="61.30" width="2.05" height="11.60" fill="#f4eff2"/>
<rect x="428.50" y="72.85" width="2.05" height="11.60" fill="#deb2bd"/>
<rect x="428.50" y="84.40" width="2.05" height="11.60" fill="#eed9e0"/>
<rect x="428.50" y="95.95" width="2.05" height="11.60" fill="#6e8fc5"/>
<rect x="428.50" y="107.50" width="2.05" height="11.60" fill="#b1c4e1"/>
<rect x="428.50" y="119.05" width="2.05" height="11.60" fill="#dee6f1"/>
<rect x="428.50" y="130.60" width="2.05" height="11.60" fill="#c0d0e8"/>
<rect x="428.50" y="142.15" width="2.05" height="11.60" fill="#c0d0e8"/>
<rect x="430.50" y="38.20" width="2.05" height="11.60" fill="#edd4db"/>
<rect x="430.50" y="49.75" width="2.05" height="11.60" fill="#f5f1f3"/>
<rect x="430.50" y="61.30" width="2.05" height="11.60" fill="#e6c3cd"/>
<rect x="430.50" y="72.85" width="2.05" height="11.60" fill="#f1e4e9"/>
<rect x="430.50" y="84.40" width="2.05" height="11.60" fill="#e4bec8"/>
<rect x="430.50" y="95.95" width="2.05" height="11.60" fill="#8aa5d1"/>
<rect x="430.50" y="107.50" width="2.05" height="11.60" fill="#9ab2d8"/>
<rect x="430.50" y="119.05" width="2.05" height="11.60" fill="#f1e1e6"/>
<rect x="430.50" y="130.60" width="2.05" height="11.60" fill="#e6ebf3"/>
<rect x="430.50" y="142.15" width="2.05" height="11.60" fill="#e8ecf4"/>
<rect x="432.50" y="38.20" width="2.05" height="11.60" fill="#cd8d9c"/>
<rect x="432.50" y="49.75" width="2.05" height="11.60" fill="#c88192"/>
<rect x="432.50" y="61.30" width="2.05" height="11.60" fill="#dbacb8"/>
<rect x="432.50" y="72.85" width="2.05" height="11.60" fill="#c17385"/>
<rect x="432.50" y="84.40" width="2.05" height="11.60" fill="#ae4a61"/>
<rect x="432.50" y="95.95" width="2.05" height="11.60" fill="#678ac2"/>
<rect x="432.50" y="107.50" width="2.05" height="11.60" fill="#6a8dc3"/>
<rect x="432.50" y="119.05" width="2.05" height="11.60" fill="#e1e8f2"/>
<rect x="432.50" y="130.60" width="2.05" height="11.60" fill="#a2b8db"/>
<rect x="432.50" y="142.15" width="2.05" height="11.60" fill="#9ab2d8"/>
<rect x="434.50" y="38.20" width="1.65" height="11.60" fill="#eed9df"/>
<rect x="434.50" y="49.75" width="1.65" height="11.60" fill="#e4bfc9"/>
<rect x="434.50" y="61.30" width="1.65" height="11.60" fill="#e9c9d2"/>
<rect x="434.50" y="72.85" width="1.65" height="11.60" fill="#e5c0ca"/>
<rect x="434.50" y="84.40" width="1.65" height="11.60" fill="#daa9b6"/>
<rect x="434.50" y="95.95" width="1.65" height="11.60" fill="#95afd6"/>
<rect x="434.50" y="107.50" width="1.65" height="11.60" fill="#86a3cf"/>
<rect x="434.50" y="119.05" width="1.65" height="11.60" fill="#eceff5"/>
<rect x="434.50" y="130.60" width="1.65" height="11.60" fill="#f2f3f6"/>
<rect x="434.50" y="142.15" width="1.65" height="11.60" fill="#a2b9db"/>
<rect x="436.10" y="38.20" width="1.65" height="11.60" fill="#e9cbd3"/>
<rect x="436.10" y="49.75" width="1.65" height="11.60" fill="#e3bdc7"/>
<rect x="436.10" y="61.30" width="1.65" height="11.60" fill="#e8c7d0"/>
<rect x="436.10" y="72.85" width="1.65" height="11.60" fill="#e8c8d1"/>
<rect x="436.10" y="84.40" width="1.65" height="11.60" fill="#dfb3be"/>
<rect x="436.10" y="95.95" width="1.65" height="11.60" fill="#94aed5"/>
<rect x="436.10" y="107.50" width="1.65" height="11.60" fill="#d2deef"/>
<rect x="436.10" y="119.05" width="1.65" height="11.60" fill="#f5f0f3"/>
<rect x="436.10" y="130.60" width="1.65" height="11.60" fill="#edeff5"/>
<rect x="436.10" y="142.15" width="1.65" height="11.60" fill="#d0ddee"/>
<rect x="437.70" y="38.20" width="1.25" height="11.60" fill="#be6d80"/>
<rect x="437.70" y="49.75" width="1.25" height="11.60" fill="#b04f65"/>
<rect x="437.70" y="61.30" width="1.25" height="11.60" fill="#dfb4bf"/>
<rect x="437.70" y="72.85" width="1.25" height="11.60" fill="#ba6579"/>
<rect x="437.70" y="84.40" width="1.25" height="11.60" fill="#d7a3b0"/>
<rect x="437.70" y="95.95" width="1.25" height="11.60" fill="#7c9acb"/>
<rect x="437.70" y="107.50" width="1.25" height="11.60" fill="#7a99ca"/>
<rect x="437.70" y="119.05" width="1.25" height="11.60" fill="#dee6f1"/>
<rect x="437.70" y="130.60" width="1.25" height="11.60" fill="#c3d3e9"/>
<rect x="437.70" y="142.15" width="1.25" height="11.60" fill="#9db4d9"/>
<rect x="438.90" y="38.20" width="1.65" height="11.60" fill="#efdbe1"/>
<rect x="438.90" y="49.75" width="1.65" height="11.60" fill="#eed7dd"/>
<rect x="438.90" y="61.30" width="1.65" height="11.60" fill="#e7c5ce"/>
<rect x="438.90" y="72.85" width="1.65" height="11.60" fill="#edd2da"/>
<rect x="438.90" y="84.40" width="1.65" height="11.60" fill="#e4bec8"/>
<rect x="438.90" y="95.95" width="1.65" height="11.60" fill="#7495c8"/>
<rect x="438.90" y="107.50" width="1.65" height="11.60" fill="#d4dfef"/>
<rect x="438.90" y="119.05" width="1.65" height="11.60" fill="#f2e8ec"/>
<rect x="438.90" y="130.60" width="1.65" height="11.60" fill="#e7ebf4"/>
<rect x="438.90" y="142.15" width="1.65" height="11.60" fill="#e5eaf3"/>
<rect x="440.50" y="38.20" width="3.05" height="11.60" fill="#cc8a9a"/>
<rect x="440.50" y="49.75" width="3.05" height="11.60" fill="#ab445c"/>
<rect x="440.50" y="61.30" width="3.05" height="11.60" fill="#deb2bd"/>
<rect x="440.50" y="72.85" width="3.05" height="11.60" fill="#e0b6c1"/>
<rect x="440.50" y="84.40" width="3.05" height="11.60" fill="#d093a2"/>
<rect x="440.50" y="95.95" width="3.05" height="11.60" fill="#819ecd"/>
<rect x="440.50" y="107.50" width="3.05" height="11.60" fill="#8fa9d3"/>
<rect x="440.50" y="119.05" width="3.05" height="11.60" fill="#d8e2f0"/>
<rect x="440.50" y="130.60" width="3.05" height="11.60" fill="#e2e8f2"/>
<rect x="440.50" y="142.15" width="3.05" height="11.60" fill="#9bb3d8"/>
<rect x="443.50" y="38.20" width="4.05" height="11.60" fill="#e1b9c4"/>
<rect x="443.50" y="49.75" width="4.05" height="11.60" fill="#d6a0ae"/>
<rect x="443.50" y="61.30" width="4.05" height="11.60" fill="#ebcdd5"/>
<rect x="443.50" y="72.85" width="4.05" height="11.60" fill="#efdae1"/>
<rect x="443.50" y="84.40" width="4.05" height="11.60" fill="#cb8898"/>
<rect x="443.50" y="95.95" width="4.05" height="11.60" fill="#7898c9"/>
<rect x="443.50" y="107.50" width="4.05" height="11.60" fill="#bfcfe7"/>
<rect x="443.50" y="119.05" width="4.05" height="11.60" fill="#e2e8f2"/>
<rect x="443.50" y="130.60" width="4.05" height="11.60" fill="#eef0f5"/>
<rect x="443.50" y="142.15" width="4.05" height="11.60" fill="#e3e9f3"/>
<rect x="447.50" y="38.20" width="2.55" height="11.60" fill="#eaccd4"/>
<rect x="447.50" y="49.75" width="2.55" height="11.60" fill="#e2bac4"/>
<rect x="447.50" y="61.30" width="2.55" height="11.60" fill="#eaccd4"/>
<rect x="447.50" y="72.85" width="2.55" height="11.60" fill="#deb2bd"/>
<rect x="447.50" y="84.40" width="2.55" height="11.60" fill="#c27587"/>
<rect x="447.50" y="95.95" width="2.55" height="11.60" fill="#83a0ce"/>
<rect x="447.50" y="107.50" width="2.55" height="11.60" fill="#c2d2e8"/>
<rect x="447.50" y="119.05" width="2.55" height="11.60" fill="#f4eef1"/>
<rect x="447.50" y="130.60" width="2.55" height="11.60" fill="#e4eaf3"/>
<rect x="447.50" y="142.15" width="2.55" height="11.60" fill="#d7e1f0"/>
<rect x="450.00" y="38.20" width="2.05" height="11.60" fill="#c57c8e"/>
<rect x="450.00" y="49.75" width="2.05" height="11.60" fill="#c37789"/>
<rect x="450.00" y="61.30" width="2.05" height="11.60" fill="#deb1bc"/>
<rect x="450.00" y="72.85" width="2.05" height="11.60" fill="#e1b8c3"/>
<rect x="450.00" y="84.40" width="2.05" height="11.60" fill="#be6c80"/>
<rect x="450.00" y="95.95" width="2.05" height="11.60" fill="#698cc3"/>
<rect x="450.00" y="107.50" width="2.05" height="11.60" fill="#7a99ca"/>
<rect x="450.00" y="119.05" width="2.05" height="11.60" fill="#e8ecf4"/>
<rect x="450.00" y="130.60" width="2.05" height="11.60" fill="#ccd9ed"/>
<rect x="450.00" y="142.15" width="2.05" height="11.60" fill="#c9d7eb"/>
<rect x="452.00" y="38.20" width="3.05" height="11.60" fill="#d6a0ae"/>
<rect x="452.00" y="49.75" width="3.05" height="11.60" fill="#e0b7c2"/>
<rect x="452.00" y="61.30" width="3.05" height="11.60" fill="#e3bcc6"/>
<rect x="452.00" y="72.85" width="3.05" height="11.60" fill="#e2bbc5"/>
<rect x="452.00" y="84.40" width="3.05" height="11.60" fill="#d39ba9"/>
<rect x="452.00" y="95.95" width="3.05" height="11.60" fill="#829fcd"/>
<rect x="452.00" y="107.50" width="3.05" height="11.60" fill="#bacbe5"/>
<rect x="452.00" y="119.05" width="3.05" height="11.60" fill="#f5f5f7"/>
<rect x="452.00" y="130.60" width="3.05" height="11.60" fill="#e9edf4"/>
<rect x="452.00" y="142.15" width="3.05" height="11.60" fill="#e2e8f2"/>
<rect x="455.00" y="38.20" width="2.05" height="11.60" fill="#d093a2"/>
<rect x="455.00" y="49.75" width="2.05" height="11.60" fill="#cd8d9c"/>
<rect x="455.00" y="61.30" width="2.05" height="11.60" fill="#e4bec8"/>
<rect x="455.00" y="72.85" width="2.05" height="11.60" fill="#e1b9c3"/>
<rect x="455.00" y="84.40" width="2.05" height="11.60" fill="#b15167"/>
<rect x="455.00" y="95.95" width="2.05" height="11.60" fill="#7b9acb"/>
<rect x="455.00" y="107.50" width="2.05" height="11.60" fill="#87a3cf"/>
<rect x="455.00" y="119.05" width="2.05" height="11.60" fill="#d8e2f0"/>
<rect x="455.00" y="130.60" width="2.05" height="11.60" fill="#b5c8e3"/>
<rect x="455.00" y="142.15" width="2.05" height="11.60" fill="#b9cbe5"/>
<rect x="457.00" y="38.20" width="4.05" height="11.60" fill="#d8a4b1"/>
<rect x="457.00" y="49.75" width="4.05" height="11.60" fill="#eed8df"/>
<rect x="457.00" y="61.30" width="4.05" height="11.60" fill="#f3ebef"/>
<rect x="457.00" y="72.85" width="4.05" height="11.60" fill="#e4bec8"/>
<rect x="457.00" y="84.40" width="4.05" height="11.60" fill="#c4798a"/>
<rect x="457.00" y="95.95" width="4.05" height="11.60" fill="#89a5d0"/>
<rect x="457.00" y="107.50" width="4.05" height="11.60" fill="#98b1d7"/>
<rect x="457.00" y="119.05" width="4.05" height="11.60" fill="#e4e9f3"/>
<rect x="457.00" y="130.60" width="4.05" height="11.60" fill="#dce4f1"/>
<rect x="457.00" y="142.15" width="4.05" height="11.60" fill="#e9ecf4"/>
<rect x="461.00" y="38.20" width="1.65" height="11.60" fill="#eed6dd"/>
<rect x="461.00" y="49.75" width="1.65" height="11.60" fill="#cd8c9c"/>
<rect x="461.00" y="61.30" width="1.65" height="11.60" fill="#e9c9d1"/>
<rect x="461.00" y="72.85" width="1.65" height="11.60" fill="#eed6dd"/>
<rect x="461.00" y="84.40" width="1.65" height="11.60" fill="#ecd1d9"/>
<rect x="461.00" y="95.95" width="1.65" height="11.60" fill="#8ea9d3"/>
<rect x="461.00" y="107.50" width="1.65" height="11.60" fill="#cedbee"/>
<rect x="461.00" y="119.05" width="1.65" height="11.60" fill="#dee5f1"/>
<rect x="461.00" y="130.60" width="1.65" height="11.60" fill="#eef0f5"/>
<rect x="461.00" y="142.15" width="1.65" height="11.60" fill="#b4c7e3"/>
<rect x="462.60" y="38.20" width="3.05" height="11.60" fill="#e0b6c1"/>
<rect x="462.60" y="49.75" width="3.05" height="11.60" fill="#efdbe1"/>
<rect x="462.60" y="61.30" width="3.05" height="11.60" fill="#efdbe1"/>
<rect x="462.60" y="72.85" width="3.05" height="11.60" fill="#c88293"/>
<rect x="462.60" y="84.40" width="3.05" height="11.60" fill="#bf6f82"/>
<rect x="462.60" y="95.95" width="3.05" height="11.60" fill="#7494c7"/>
<rect x="462.60" y="107.50" width="3.05" height="11.60" fill="#acc0df"/>
<rect x="462.60" y="119.05" width="3.05" height="11.60" fill="#f6f4f6"/>
<rect x="462.60" y="130.60" width="3.05" height="11.60" fill="#ebeef4"/>
<rect x="462.60" y="142.15" width="3.05" height="11.60" fill="#d6e1f0"/>
<rect x="465.60" y="38.20" width="3.55" height="11.60" fill="#ebced6"/>
<rect x="465.60" y="49.75" width="3.55" height="11.60" fill="#d093a1"/>
<rect x="465.60" y="61.30" width="3.55" height="11.60" fill="#eed7de"/>
<rect x="465.60" y="72.85" width="3.55" height="11.60" fill="#dfb4bf"/>
<rect x="465.60" y="84.40" width="3.55" height="11.60" fill="#d9a7b4"/>
<rect x="465.60" y="95.95" width="3.55" height="11.60" fill="#809dcc"/>
<rect x="465.60" y="107.50" width="3.55" height="11.60" fill="#aec2e0"/>
<rect x="465.60" y="119.05" width="3.55" height="11.60" fill="#f5f5f7"/>
<rect x="465.60" y="130.60" width="3.55" height="11.60" fill="#eff1f5"/>
<rect x="465.60" y="142.15" width="3.55" height="11.60" fill="#c8d6eb"/>
<rect x="469.10" y="38.20" width="3.55" height="11.60" fill="#ddb0bc"/>
<rect x="469.10" y="49.75" width="3.55" height="11.60" fill="#ca8696"/>
<rect x="469.10" y="61.30" width="3.55" height="11.60" fill="#e2b9c4"/>
<rect x="469.10" y="72.85" width="3.55" height="11.60" fill="#d59eab"/>
<rect x="469.10" y="84.40" width="3.55" height="11.60" fill="#eed9e0"/>
<rect x="469.10" y="95.95" width="3.55" height="11.60" fill="#bacce5"/>
<rect x="469.10" y="107.50" width="3.55" height="11.60" fill="#97b0d6"/>
<rect x="469.10" y="119.05" width="3.55" height="11.60" fill="#b8cae4"/>
<rect x="469.10" y="130.60" width="3.55" height="11.60" fill="#edf0f5"/>
<rect x="469.10" y="142.15" width="3.55" height="11.60" fill="#a8bdde"/>
<rect x="472.60" y="38.20" width="2.55" height="11.60" fill="#c37688"/>
<rect x="472.60" y="49.75" width="2.55" height="11.60" fill="#b4576d"/>
<rect x="472.60" y="61.30" width="2.55" height="11.60" fill="#efdce2"/>
<rect x="472.60" y="72.85" width="2.55" height="11.60" fill="#cf91a0"/>
<rect x="472.60" y="84.40" width="2.55" height="11.60" fill="#c67f90"/>
<rect x="472.60" y="95.95" width="2.55" height="11.60" fill="#88a4d0"/>
<rect x="472.60" y="107.50" width="2.55" height="11.60" fill="#7192c6"/>
<rect x="472.60" y="119.05" width="2.55" height="11.60" fill="#d1ddee"/>
<rect x="472.60" y="130.60" width="2.55" height="11.60" fill="#cbd9ec"/>
<rect x="472.60" y="142.15" width="2.55" height="11.60" fill="#b8cae4"/>
<rect x="475.10" y="38.20" width="2.55" height="11.60" fill="#efd9e0"/>
<rect x="475.10" y="49.75" width="2.55" height="11.60" fill="#d195a4"/>
<rect x="475.10" y="61.30" width="2.55" height="11.60" fill="#eed6dd"/>
<rect x="475.10" y="72.85" width="2.55" height="11.60" fill="#f3ebef"/>
<rect x="475.10" y="84.40" width="2.55" height="11.60" fill="#eacbd4"/>
<rect x="475.10" y="95.95" width="2.55" height="11.60" fill="#8ca7d2"/>
<rect x="475.10" y="107.50" width="2.55" height="11.60" fill="#a3badc"/>
<rect x="475.10" y="119.05" width="2.55" height="11.60" fill="#e3e9f3"/>
<rect x="475.10" y="130.60" width="2.55" height="11.60" fill="#f4eff2"/>
<rect x="475.10" y="142.15" width="2.55" height="11.60" fill="#d8e2f0"/>
<rect x="477.60" y="38.20" width="3.55" height="11.60" fill="#d59dab"/>
<rect x="477.60" y="49.75" width="3.55" height="11.60" fill="#d6a1ae"/>
<rect x="477.60" y="61.30" width="3.55" height="11.60" fill="#edd4dc"/>
<rect x="477.60" y="72.85" width="3.55" height="11.60" fill="#e8c7d0"/>
<rect x="477.60" y="84.40" width="3.55" height="11.60" fill="#d196a5"/>
<rect x="477.60" y="95.95" width="3.55" height="11.60" fill="#7898c9"/>
<rect x="477.60" y="107.50" width="3.55" height="11.60" fill="#bacbe5"/>
<rect x="477.60" y="119.05" width="3.55" height="11.60" fill="#e8ecf4"/>
<rect x="477.60" y="130.60" width="3.55" height="11.60" fill="#dae3f0"/>
<rect x="477.60" y="142.15" width="3.55" height="11.60" fill="#b8cae4"/>
<rect x="481.10" y="38.20" width="1.65" height="11.60" fill="#ddafbb"/>
<rect x="481.10" y="49.75" width="1.65" height="11.60" fill="#ce8f9f"/>
<rect x="481.10" y="61.30" width="1.65" height="11.60" fill="#e1b8c3"/>
<rect x="481.10" y="72.85" width="1.65" height="11.60" fill="#dfb3be"/>
<rect x="481.10" y="84.40" width="1.65" height="11.60" fill="#ca8797"/>
<rect x="481.10" y="95.95" width="1.65" height="11.60" fill="#7897c9"/>
<rect x="481.10" y="107.50" width="1.65" height="11.60" fill="#8ca7d2"/>
<rect x="481.10" y="119.05" width="1.65" height="11.60" fill="#d4dfef"/>
<rect x="481.10" y="130.60" width="1.65" height="11.60" fill="#dde5f1"/>
<rect x="481.10" y="142.15" width="1.65" height="11.60" fill="#d7e1f0"/>
<rect x="482.70" y="38.20" width="1.65" height="11.60" fill="#d49dab"/>
<rect x="482.70" y="49.75" width="1.65" height="11.60" fill="#e1b8c2"/>
<rect x="482.70" y="61.30" width="1.65" height="11.60" fill="#eaccd4"/>
<rect x="482.70" y="72.85" width="1.65" height="11.60" fill="#e3bdc7"/>
<rect x="482.70" y="84.40" width="1.65" height="11.60" fill="#bc687b"/>
<rect x="482.70" y="95.95" width="1.65" height="11.60" fill="#7d9ccb"/>
<rect x="482.70" y="107.50" width="1.65" height="11.60" fill="#aabfde"/>
<rect x="482.70" y="119.05" width="1.65" height="11.60" fill="#f5f3f5"/>
<rect x="482.70" y="130.60" width="1.65" height="11.60" fill="#e1e8f2"/>
<rect x="482.70" y="142.15" width="1.65" height="11.60" fill="#98b0d7"/>
<rect x="484.30" y="38.20" width="2.55" height="11.60" fill="#e0b5c0"/>
<rect x="484.30" y="49.75" width="2.55" height="11.60" fill="#ba6377"/>
<rect x="484.30" y="61.30" width="2.55" height="11.60" fill="#eed6dd"/>
<rect x="484.30" y="72.85" width="2.55" height="11.60" fill="#ad4960"/>
<rect x="484.30" y="84.40" width="2.55" height="11.60" fill="#cb8898"/>
<rect x="484.30" y="95.95" width="2.55" height="11.60" fill="#7b9aca"/>
<rect x="484.30" y="107.50" width="2.55" height="11.60" fill="#a5bbdc"/>
<rect x="484.30" y="119.05" width="2.55" height="11.60" fill="#dee6f1"/>
<rect x="484.30" y="130.60" width="2.55" height="11.60" fill="#c8d6eb"/>
<rect x="484.30" y="142.15" width="2.55" height="11.60" fill="#a9bede"/>
<rect x="486.80" y="38.20" width="2.55" height="11.60" fill="#ba6478"/>
<rect x="486.80" y="49.75" width="2.55" height="11.60" fill="#ae4960"/>
<rect x="486.80" y="61.30" width="2.55" height="11.60" fill="#d196a4"/>
<rect x="486.80" y="72.85" width="2.55" height="11.60" fill="#d49dab"/>
<rect x="486.80" y="84.40" width="2.55" height="11.60" fill="#ce8e9e"/>
<rect x="486.80" y="95.95" width="2.55" height="11.60" fill="#4d76b7"/>
<rect x="486.80" y="107.50" width="2.55" height="11.60" fill="#6387c0"/>
<rect x="486.80" y="119.05" width="2.55" height="11.60" fill="#ccdaed"/>
<rect x="486.80" y="130.60" width="2.55" height="11.60" fill="#becfe7"/>
<rect x="486.80" y="142.15" width="2.55" height="11.60" fill="#98b1d7"/>
<rect x="489.30" y="38.20" width="2.55" height="11.60" fill="#e5c1ca"/>
<rect x="489.30" y="49.75" width="2.55" height="11.60" fill="#d8a6b2"/>
<rect x="489.30" y="61.30" width="2.55" height="11.60" fill="#ebcdd5"/>
<rect x="489.30" y="72.85" width="2.55" height="11.60" fill="#dcacb8"/>
<rect x="489.30" y="84.40" width="2.55" height="11.60" fill="#c4798a"/>
<rect x="489.30" y="95.95" width="2.55" height="11.60" fill="#819ecd"/>
<rect x="489.30" y="107.50" width="2.55" height="11.60" fill="#7e9ccc"/>
<rect x="489.30" y="119.05" width="2.55" height="11.60" fill="#f4edf0"/>
<rect x="489.30" y="130.60" width="2.55" height="11.60" fill="#d5e0ef"/>
<rect x="489.30" y="142.15" width="2.55" height="11.60" fill="#e2e8f2"/>
<rect x="491.80" y="38.20" width="2.55" height="11.60" fill="#dfb3bf"/>
<rect x="491.80" y="49.75" width="2.55" height="11.60" fill="#e2bac4"/>
<rect x="491.80" y="61.30" width="2.55" height="11.60" fill="#f0e0e6"/>
<rect x="491.80" y="72.85" width="2.55" height="11.60" fill="#e6c2cc"/>
<rect x="491.80" y="84.40" width="2.55" height="11.60" fill="#ddb0bb"/>
<rect x="491.80" y="95.95" width="2.55" height="11.60" fill="#5c82bd"/>
<rect x="491.80" y="107.50" width="2.55" height="11.60" fill="#bacbe5"/>
<rect x="491.80" y="119.05" width="2.55" height="11.60" fill="#eaedf4"/>
<rect x="491.80" y="130.60" width="2.55" height="11.60" fill="#eff0f5"/>
<rect x="491.80" y="142.15" width="2.55" height="11.60" fill="#e8ecf4"/>
<rect x="494.30" y="38.20" width="4.05" height="11.60" fill="#d7a3b0"/>
<rect x="494.30" y="49.75" width="4.05" height="11.60" fill="#c3788a"/>
<rect x="494.30" y="61.30" width="4.05" height="11.60" fill="#eed7de"/>
<rect x="494.30" y="72.85" width="4.05" height="11.60" fill="#e7c6cf"/>
<rect x="494.30" y="84.40" width="4.05" height="11.60" fill="#d299a7"/>
<rect x="494.30" y="95.95" width="4.05" height="11.60" fill="#4f77b8"/>
<rect x="494.30" y="107.50" width="4.05" height="11.60" fill="#6085bf"/>
<rect x="494.30" y="119.05" width="4.05" height="11.60" fill="#f2f2f6"/>
<rect x="494.30" y="130.60" width="4.05" height="11.60" fill="#e0e7f2"/>
<rect x="494.30" y="142.15" width="4.05" height="11.60" fill="#d2deef"/>
<rect x="498.30" y="38.20" width="2.55" height="11.60" fill="#cd8d9d"/>
<rect x="498.30" y="49.75" width="2.55" height="11.60" fill="#c17385"/>
<rect x="498.30" y="61.30" width="2.55" height="11.60" fill="#e7c5cf"/>
<rect x="498.30" y="72.85" width="2.55" height="11.60" fill="#eed7de"/>
<rect x="498.30" y="84.40" width="2.55" height="11.60" fill="#c07183"/>
<rect x="498.30" y="95.95" width="2.55" height="11.60" fill="#7e9dcc"/>
<rect x="498.30" y="107.50" width="2.55" height="11.60" fill="#91abd4"/>
<rect x="498.30" y="119.05" width="2.55" height="11.60" fill="#f1f2f6"/>
<rect x="498.30" y="130.60" width="2.55" height="11.60" fill="#e1e8f2"/>
<rect x="498.30" y="142.15" width="2.55" height="11.60" fill="#b7c9e4"/>
<rect x="500.80" y="38.20" width="3.55" height="11.60" fill="#cd8d9d"/>
<rect x="500.80" y="49.75" width="3.55" height="11.60" fill="#d39aa8"/>
<rect x="500.80" y="61.30" width="3.55" height="11.60" fill="#cd8d9c"/>
<rect x="500.80" y="72.85" width="3.55" height="11.60" fill="#d7a4b1"/>
<rect x="500.80" y="84.40" width="3.55" height="11.60" fill="#d195a4"/>
<rect x="500.80" y="95.95" width="3.55" height="11.60" fill="#7192c6"/>
<rect x="500.80" y="107.50" width="3.55" height="11.60" fill="#bccde6"/>
<rect x="500.80" y="119.05" width="3.55" height="11.60" fill="#d6e1f0"/>
<rect x="500.80" y="130.60" width="3.55" height="11.60" fill="#f1f2f6"/>
<rect x="500.80" y="142.15" width="3.55" height="11.60" fill="#aec2e0"/>
<rect x="504.30" y="38.20" width="3.05" height="11.60" fill="#c3788a"/>
<rect x="504.30" y="49.75" width="3.05" height="11.60" fill="#eacdd5"/>
<rect x="504.30" y="61.30" width="3.05" height="11.60" fill="#e5c2cb"/>
<rect x="504.30" y="72.85" width="3.05" height="11.60" fill="#d49dab"/>
<rect x="504.30" y="84.40" width="3.05" height="11.60" fill="#e3bdc7"/>
<rect x="504.30" y="95.95" width="3.05" height="11.60" fill="#93add5"/>
<rect x="504.30" y="107.50" width="3.05" height="11.60" fill="#ccdaed"/>
<rect x="504.30" y="119.05" width="3.05" height="11.60" fill="#eceff5"/>
<rect x="504.30" y="130.60" width="3.05" height="11.60" fill="#ebeef4"/>
<rect x="504.30" y="142.15" width="3.05" height="11.60" fill="#dae3f1"/>
<rect x="507.30" y="38.20" width="1.65" height="11.60" fill="#ebced6"/>
<rect x="507.30" y="49.75" width="1.65" height="11.60" fill="#deb2bd"/>
<rect x="507.30" y="61.30" width="1.65" height="11.60" fill="#e4bec8"/>
<rect x="507.30" y="72.85" width="1.65" height="11.60" fill="#e8c8d1"/>
<rect x="507.30" y="84.40" width="1.65" height="11.60" fill="#e6c4cd"/>
<rect x="507.30" y="95.95" width="1.65" height="11.60" fill="#94add5"/>
<rect x="507.30" y="107.50" width="1.65" height="11.60" fill="#abc0df"/>
<rect x="507.30" y="119.05" width="1.65" height="11.60" fill="#f0f1f6"/>
<rect x="507.30" y="130.60" width="1.65" height="11.60" fill="#e4e9f3"/>
<rect x="507.30" y="142.15" width="1.65" height="11.60" fill="#dfe6f2"/>
<rect x="508.90" y="38.20" width="3.55" height="11.60" fill="#c07083"/>
<rect x="508.90" y="49.75" width="3.55" height="11.60" fill="#c4798b"/>
<rect x="508.90" y="61.30" width="3.55" height="11.60" fill="#e4bfc9"/>
<rect x="508.90" y="72.85" width="3.55" height="11.60" fill="#d8a5b2"/>
<rect x="508.90" y="84.40" width="3.55" height="11.60" fill="#c17285"/>
<rect x="508.90" y="95.95" width="3.55" height="11.60" fill="#9bb3d8"/>
<rect x="508.90" y="107.50" width="3.55" height="11.60" fill="#9ab2d8"/>
<rect x="508.90" y="119.05" width="3.55" height="11.60" fill="#f2f3f6"/>
<rect x="508.90" y="130.60" width="3.55" height="11.60" fill="#dee5f1"/>
<rect x="508.90" y="142.15" width="3.55" height="11.60" fill="#d9e3f0"/>
<rect x="512.40" y="38.20" width="1.95" height="11.60" fill="#d39aa8"/>
<rect x="512.40" y="49.75" width="1.95" height="11.60" fill="#deb1bd"/>
<rect x="512.40" y="61.30" width="1.95" height="11.60" fill="#e8c8d1"/>
<rect x="512.40" y="72.85" width="1.95" height="11.60" fill="#e8c7d0"/>
<rect x="512.40" y="84.40" width="1.95" height="11.60" fill="#e9c8d1"/>
<rect x="512.40" y="95.95" width="1.95" height="11.60" fill="#6e8fc5"/>
<rect x="512.40" y="107.50" width="1.95" height="11.60" fill="#a1b8db"/>
<rect x="512.40" y="119.05" width="1.95" height="11.60" fill="#e1e7f2"/>
<rect x="512.40" y="130.60" width="1.95" height="11.60" fill="#d7e1f0"/>
<rect x="512.40" y="142.15" width="1.95" height="11.60" fill="#aec2e0"/>
<rect x="409.80" y="38.20" width="1.20" height="115.50" fill="#ffffff"/>
<rect x="307.7" y="34.0" width="206.6" height="3.3" fill="#979797"/>
<rect x="307.7" y="31.3" width="206.6" height="2.7" fill="#d2d2d2"/>
<path d="M358 24.5V21.2H462V23M337.6 25.8V24.5H388.7V26.4M324.7 28.6V25.8H354.6V28.7M316.4 31.0V28.6H333.3V31.0M312.4 32.3V31.0H321.1V33.0M309.6 33.0V32.3H314.3V33.0M308.4 33.0V33.0H310.3V33.0M313.2 33.0V33.0H316.0V33.0M318.7 33.0V33.0H322.6V33.0M318.1 33.0V33.0H319.6V33.0M321.6 33.0V33.0H324.0V33.0M330.0 33.0V31.0H338.3V32.9M327.4 33.0V33.0H332.3V33.0M326.2 33.0V33.0H328.6V33.0M330.8 33.0V33.0H333.4V33.0M337.1 33.0V32.9H340.4V33.0M335.8 33.0V33.0H337.9V33.0M339.9 33.0V33.0H341.2V33.0M349.5 31.6V28.7H362.5V30.8M346.5 32.7V31.6H354.4V33.0M344.7 33.0V32.7H349.6V33.0M343.0 33.0V33.0H346.0V33.0M348.8 33.0V33.0H350.6V33.0M353.2 33.0V33.0H356.2V33.0M352.5 33.0V33.0H354.3V33.0M355.5 33.0V33.0H356.7V33.0M360.5 33.0V30.8H365.6V31.9M359.3 33.0V33.0H362.4V33.0M358.2 33.0V33.0H360.0V33.0M361.9 33.0V33.0H363.2V33.0M364.7 33.0V31.9H366.6V33.0M379.7 28.8V26.4H400.8V28.4M374.5 30.7V28.8H386.7V29.8M370.8 32.8V30.7H377.8V32.4M369.1 33.0V32.8H372.4V33.0M368.1 33.0V33.0H369.7V33.0M371.7 33.0V33.0H373.5V33.0M375.9 33.0V32.4H379.6V33.0M375.0 33.0V33.0H376.7V33.0M378.6 33.0V33.0H380.6V33.0M383.5 32.1V29.8H388.7V32.2M382.3 33.0V32.1H384.3V33.0M383.8 33.0V33.0H385.1V33.0M387.5 33.0V32.2H390.7V33.0M386.7 33.0V33.0H388.7V33.0M390.2 33.0V33.0H391.3V33.0M395.6 31.0V28.4H404.6V30.7M393.3 33.0V31.0H397.0V33.0M392.6 33.0V33.0H394.0V33.0M396.1 33.0V33.0H398.4V33.0M395.4 33.0V33.0H396.8V33.0M401.4 32.0V30.7H406.6V31.8M400.2 33.0V32.0H402.3V33.0M401.8 33.0V33.0H403.0V33.0M405.0 33.0V31.8H408.2V33.0M404.3 33.0V33.0H405.9V33.0M407.3 33.0V33.0H408.9V33.0M435.0 25.4V23.0H486.7V24.4M420.6 27.0V25.4H444.6V27.9M414.4 28.5V27.0H424.0V29.5M412.2 31.5V28.5H415.6V30.1M411.7 33.0V31.5H413.0V32.5M414.3 32.4V30.1H416.5V33.0M415.8 33.0V33.0H417.1V33.0M421.2 30.6V29.5H427.5V32.3M419.8 32.6V30.6H423.3V33.0M418.8 33.0V32.6H420.9V33.0M422.8 33.0V33.0H424.2V33.0M425.7 33.0V32.3H428.5V33.0M425.2 33.0V33.0H426.2V33.0M427.6 33.0V33.0H429.3V33.0M436.3 29.5V27.9H450.8V29.3M433.5 31.4V29.5H439.6V31.4M432.3 33.0V31.4H435.6V33.0M431.3 33.0V33.0H433.4V33.0M435.1 33.0V33.0H436.3V33.0M438.3 33.0V31.4H441.1V32.7M437.6 33.0V33.0H439.1V33.0M440.4 33.0V32.7H441.6V33.0M447.2 30.9V29.3H455.5V31.0M444.1 32.0V30.9H448.9V32.6M443.4 33.0V32.0H445.1V33.0M447.2 33.0V32.6H450.2V33.0M453.5 33.0V31.0H457.1V33.0M452.8 33.0V33.0H454.4V33.0M456.0 33.0V33.0H458.1V33.0M474.1 26.7V24.4H501.7V25.8M464.8 28.9V26.7H479.8V28.7M462.0 30.1V28.9H467.7V30.3M460.9 31.4V30.1H463.8V32.4M460.2 33.0V31.4H462.1V32.7M463.3 33.0V32.4H464.4V33.0M466.1 31.5V30.3H468.9V32.8M465.6 33.0V31.5H466.8V33.0M468.3 33.0V32.8H469.9V33.0M476.2 30.6V28.7H485.5V30.5M473.5 32.1V30.6H479.3V31.8M472.4 33.0V32.1H475.5V33.0M477.9 33.0V31.8H480.5V33.0M483.6 31.9V30.5H487.2V31.5M482.6 33.0V31.9H484.3V33.0M486.0 33.0V31.5H488.0V33.0M496.6 27.5V25.8H509.2V27.6M492.4 30.4V27.5H500.0V29.0M491.1 33.0V30.4H494.4V33.0M489.9 33.0V33.0H491.9V33.0M493.7 33.0V33.0H495.0V33.0M497.9 31.9V29.0H502.0V30.4M497.0 33.0V31.9H499.1V32.9M501.1 31.4V30.4H503.2V32.1M506.3 29.0V27.6H511.4V28.9M505.5 31.7V29.0H507.6V30.5M504.6 33.0V31.7H506.0V32.8M510.0 31.7V28.9H512.8V30.6M509.2 33.0V31.7H510.6V33.0M512.3 33.0V30.6H513.8V32.8" stroke="#9a9a9a" stroke-width="0.45" fill="none"/>
<rect x="516.0" y="38.2" width="2.6" height="7" fill="#e0ae98"/>
<rect x="516.0" y="45.2" width="2.6" height="50.3" fill="#d5cfe6"/>
<rect x="516.0" y="95.5" width="2.6" height="30" fill="#e3e294"/>
<rect x="516.0" y="125.5" width="2.6" height="28.2" fill="#d8dea0"/>
<path d="M519.5 44V56M519.5 50H524V67M519.5 67H524M524 60V75M519.5 78H523V89M519.5 89H523M523 83.5H527V62H524M527 72H533V128M519.5 101V113M519.5 107H523V124M519.5 124H523M523 116H527V145M519.5 136V148M519.5 142H527M527 130H533" stroke="#a5a5a5" stroke-width="0.5" fill="none"/>
<text x="403.5" y="163.1" font-size="6.3" font-weight="bold" text-anchor="start" fill="#111" stroke="#111" stroke-width="0.12" textLength="22.1" lengthAdjust="spacingAndGlyphs">Z-score</text>
<defs><linearGradient id="zg" x1="0" x2="1" y1="0" y2="0"><stop offset="0" stop-color="#3a62a8"/><stop offset="0.3" stop-color="#a9c1de"/><stop offset="0.47" stop-color="#f4f4f4"/><stop offset="0.53" stop-color="#f4f4f4"/><stop offset="0.72" stop-color="#dba5ae"/><stop offset="1" stop-color="#9e1c30"/></linearGradient></defs>
<rect x="384.4" y="165" width="61.6" height="2.8" fill="url(#zg)"/>
<text x="391.3" y="175.2" font-size="5.6" text-anchor="middle" fill="#111" stroke="#111" stroke-width="0.08">-2</text>
<text x="402.7" y="175.2" font-size="5.6" text-anchor="middle" fill="#111" stroke="#111" stroke-width="0.08">-1</text>
<text x="415.3" y="175.2" font-size="5.6" text-anchor="middle" fill="#111" stroke="#111" stroke-width="0.08">0</text>
<text x="427.3" y="175.2" font-size="5.6" text-anchor="middle" fill="#111" stroke="#111" stroke-width="0.08">1</text>
<text x="439.2" y="175.2" font-size="5.6" text-anchor="middle" fill="#111" stroke="#111" stroke-width="0.08">2</text>
<text x="4.8" y="191.5" font-size="9.5" font-weight="bold" text-anchor="start" fill="#111" stroke="#111" stroke-width="0.12">C</text>
<text x="66.5" y="198.4" font-size="6.5" font-weight="bold" text-anchor="start" fill="#111" stroke="#111" stroke-width="0.12" textLength="126.8" lengthAdjust="spacingAndGlyphs">Biological processes: up−regulated genes</text>
<text x="167.6" y="207.3" font-size="6.42" font-weight="bold" text-anchor="start" fill="#111" stroke="#111" stroke-width="0.12" textLength="18.0" lengthAdjust="spacingAndGlyphs">Count</text>
<rect x="104.4" y="215.3" width="146.8" height="134.1" fill="#ffffff"/>
<line x1="104.5" y1="215.3" x2="104.5" y2="349.4" stroke="#ececec" stroke-width="0.5"/>
<line x1="118.6" y1="215.3" x2="118.6" y2="349.4" stroke="#ececec" stroke-width="0.5"/>
<line x1="132.6" y1="215.3" x2="132.6" y2="349.4" stroke="#ececec" stroke-width="0.5"/>
<line x1="146.7" y1="215.3" x2="146.7" y2="349.4" stroke="#ececec" stroke-width="0.5"/>
<line x1="160.8" y1="215.3" x2="160.8" y2="349.4" stroke="#ececec" stroke-width="0.5"/>
<line x1="174.8" y1="215.3" x2="174.8" y2="349.4" stroke="#ececec" stroke-width="0.5"/>
<line x1="188.9" y1="215.3" x2="188.9" y2="349.4" stroke="#ececec" stroke-width="0.5"/>
<line x1="203.0" y1="215.3" x2="203.0" y2="349.4" stroke="#ececec" stroke-width="0.5"/>
<line x1="217.0" y1="215.3" x2="217.0" y2="349.4" stroke="#ececec" stroke-width="0.5"/>
<line x1="231.1" y1="215.3" x2="231.1" y2="349.4" stroke="#ececec" stroke-width="0.5"/>
<line x1="245.2" y1="215.3" x2="245.2" y2="349.4" stroke="#ececec" stroke-width="0.5"/>
<line x1="104.5" y1="215.3" x2="104.5" y2="349.4" stroke="#e2e2e2" stroke-width="0.5"/>
<line x1="132.4" y1="215.3" x2="132.4" y2="349.4" stroke="#e2e2e2" stroke-width="0.5"/>
<line x1="160.3" y1="215.3" x2="160.3" y2="349.4" stroke="#e2e2e2" stroke-width="0.5"/>
<line x1="188.3" y1="215.3" x2="188.3" y2="349.4" stroke="#e2e2e2" stroke-width="0.5"/>
<line x1="216.2" y1="215.3" x2="216.2" y2="349.4" stroke="#e2e2e2" stroke-width="0.5"/>
<line x1="244.1" y1="215.3" x2="244.1" y2="349.4" stroke="#e2e2e2" stroke-width="0.5"/>
<line x1="104.4" y1="219.4" x2="251.2" y2="219.4" stroke="#ececec" stroke-width="0.5"/>
<line x1="104.4" y1="225.7" x2="251.2" y2="225.7" stroke="#ececec" stroke-width="0.5"/>
<line x1="104.4" y1="232.0" x2="251.2" y2="232.0" stroke="#ececec" stroke-width="0.5"/>
<line x1="104.4" y1="238.3" x2="251.2" y2="238.3" stroke="#ececec" stroke-width="0.5"/>
<line x1="104.4" y1="244.6" x2="251.2" y2="244.6" stroke="#ececec" stroke-width="0.5"/>
<line x1="104.4" y1="250.9" x2="251.2" y2="250.9" stroke="#ececec" stroke-width="0.5"/>
<line x1="104.4" y1="257.2" x2="251.2" y2="257.2" stroke="#ececec" stroke-width="0.5"/>
<line x1="104.4" y1="263.5" x2="251.2" y2="263.5" stroke="#ececec" stroke-width="0.5"/>
<line x1="104.4" y1="269.8" x2="251.2" y2="269.8" stroke="#ececec" stroke-width="0.5"/>
<line x1="104.4" y1="276.1" x2="251.2" y2="276.1" stroke="#ececec" stroke-width="0.5"/>
<line x1="104.4" y1="282.4" x2="251.2" y2="282.4" stroke="#ececec" stroke-width="0.5"/>
<line x1="104.4" y1="288.7" x2="251.2" y2="288.7" stroke="#ececec" stroke-width="0.5"/>
<line x1="104.4" y1="295.0" x2="251.2" y2="295.0" stroke="#ececec" stroke-width="0.5"/>
<line x1="104.4" y1="301.3" x2="251.2" y2="301.3" stroke="#ececec" stroke-width="0.5"/>
<line x1="104.4" y1="307.6" x2="251.2" y2="307.6" stroke="#ececec" stroke-width="0.5"/>
<line x1="104.4" y1="313.9" x2="251.2" y2="313.9" stroke="#ececec" stroke-width="0.5"/>
<line x1="104.4" y1="320.2" x2="251.2" y2="320.2" stroke="#ececec" stroke-width="0.5"/>
<line x1="104.4" y1="326.5" x2="251.2" y2="326.5" stroke="#ececec" stroke-width="0.5"/>
<line x1="104.4" y1="332.8" x2="251.2" y2="332.8" stroke="#ececec" stroke-width="0.5"/>
<line x1="104.4" y1="339.1" x2="251.2" y2="339.1" stroke="#ececec" stroke-width="0.5"/>
<line x1="104.4" y1="345.4" x2="251.2" y2="345.4" stroke="#ececec" stroke-width="0.5"/>
<rect x="104.70" y="216.25" width="60.70" height="6.30" fill="#8dc57b"/>
<line x1="104.7" y1="222.6" x2="165.4" y2="222.6" stroke="#b5dba8" stroke-width="0.35"/>
<circle cx="111.6" cy="219.4" r="0.45" fill="#5c8f4c"/>
<text x="103.6" y="221.3" font-size="5.38" font-weight="bold" text-anchor="end" fill="#333" stroke="#333" stroke-width="0.12">reg. of cell projection organization</text>
<rect x="104.70" y="222.55" width="53.10" height="6.30" fill="#8dc57b"/>
<line x1="104.7" y1="228.9" x2="157.8" y2="228.9" stroke="#b5dba8" stroke-width="0.35"/>
<circle cx="111.6" cy="225.7" r="0.45" fill="#5c8f4c"/>
<text x="103.6" y="227.6" font-size="5.38" font-weight="bold" text-anchor="end" fill="#333" stroke="#333" stroke-width="0.12">sterol biosynthetic process</text>
<rect x="104.70" y="228.85" width="47.00" height="6.30" fill="#8dc57b"/>
<line x1="104.7" y1="235.2" x2="151.7" y2="235.2" stroke="#b5dba8" stroke-width="0.35"/>
<circle cx="111.6" cy="232.0" r="0.45" fill="#5c8f4c"/>
<text x="103.6" y="233.9" font-size="5.38" font-weight="bold" text-anchor="end" fill="#333" stroke="#333" stroke-width="0.12">learning or memory</text>
<rect x="104.70" y="235.15" width="41.30" height="6.30" fill="#8dc57b"/>
<line x1="104.7" y1="241.5" x2="146.0" y2="241.5" stroke="#b5dba8" stroke-width="0.35"/>
<circle cx="111.6" cy="238.3" r="0.45" fill="#5c8f4c"/>
<text x="103.6" y="240.2" font-size="5.38" font-weight="bold" text-anchor="end" fill="#333" stroke="#333" stroke-width="0.12">synaptic vesicle cycle</text>
<rect x="104.70" y="241.45" width="38.90" height="6.30" fill="#8dc57b"/>
<line x1="104.7" y1="247.8" x2="143.6" y2="247.8" stroke="#b5dba8" stroke-width="0.35"/>
<circle cx="111.6" cy="244.6" r="0.45" fill="#5c8f4c"/>
<text x="103.6" y="246.5" font-size="5.38" font-weight="bold" text-anchor="end" fill="#333" stroke="#333" stroke-width="0.12">pos. reg. of fibroblast proliferation</text>
<rect x="104.70" y="247.75" width="38.10" height="6.30" fill="#8dc57b"/>
<line x1="104.7" y1="254.1" x2="142.8" y2="254.1" stroke="#b5dba8" stroke-width="0.35"/>
<circle cx="111.6" cy="250.9" r="0.45" fill="#5c8f4c"/>
<text x="103.6" y="252.8" font-size="5.38" font-weight="bold" text-anchor="end" fill="#333" stroke="#333" stroke-width="0.12">pos. reg. of cell migration</text>
<rect x="104.70" y="254.05" width="34.10" height="6.30" fill="#8dc57b"/>
<line x1="104.7" y1="260.3" x2="138.8" y2="260.3" stroke="#b5dba8" stroke-width="0.35"/>
<circle cx="111.6" cy="257.2" r="0.45" fill="#5c8f4c"/>
<text x="103.6" y="259.1" font-size="5.38" font-weight="bold" text-anchor="end" fill="#333" stroke="#333" stroke-width="0.12">reg. of collagen metabolic process</text>
<rect x="104.70" y="260.35" width="32.60" height="6.30" fill="#8dc57b"/>
<line x1="104.7" y1="266.6" x2="137.3" y2="266.6" stroke="#b5dba8" stroke-width="0.35"/>
<circle cx="111.6" cy="263.5" r="0.45" fill="#5c8f4c"/>
<text x="103.6" y="265.4" font-size="5.38" font-weight="bold" text-anchor="end" fill="#333" stroke="#333" stroke-width="0.12">reg. of ERK1 and ERK2 cascade</text>
<rect x="104.70" y="266.65" width="31.90" height="6.30" fill="#8dc57b"/>
<line x1="104.7" y1="272.9" x2="136.6" y2="272.9" stroke="#b5dba8" stroke-width="0.35"/>
<circle cx="111.6" cy="269.8" r="0.45" fill="#5c8f4c"/>
<text x="103.6" y="271.7" font-size="5.38" font-weight="bold" text-anchor="end" fill="#333" stroke="#333" stroke-width="0.12">angiogenesis</text>
<rect x="104.70" y="272.95" width="31.00" height="6.30" fill="#8dc57b"/>
<line x1="104.7" y1="279.2" x2="135.7" y2="279.2" stroke="#b5dba8" stroke-width="0.35"/>
<circle cx="111.6" cy="276.1" r="0.45" fill="#5c8f4c"/>
<text x="103.6" y="278.0" font-size="5.38" font-weight="bold" text-anchor="end" fill="#333" stroke="#333" stroke-width="0.12">reg. of cell growth</text>
<rect x="104.70" y="279.25" width="30.30" height="6.30" fill="#8dc57b"/>
<line x1="104.7" y1="285.5" x2="135.0" y2="285.5" stroke="#b5dba8" stroke-width="0.35"/>
<circle cx="111.6" cy="282.4" r="0.45" fill="#5c8f4c"/>
<text x="103.6" y="284.3" font-size="5.38" font-weight="bold" text-anchor="end" fill="#333" stroke="#333" stroke-width="0.12">reg. of secretion by cell</text>
<rect x="104.70" y="285.55" width="29.70" height="6.30" fill="#8dc57b"/>
<line x1="104.7" y1="291.8" x2="134.4" y2="291.8" stroke="#b5dba8" stroke-width="0.35"/>
<circle cx="111.6" cy="288.7" r="0.45" fill="#5c8f4c"/>
<text x="103.6" y="290.6" font-size="5.38" font-weight="bold" text-anchor="end" fill="#333" stroke="#333" stroke-width="0.12">neg. reg. of neuron apoptotic process</text>
<rect x="104.70" y="291.85" width="29.50" height="6.30" fill="#8dc57b"/>
<line x1="104.7" y1="298.1" x2="134.2" y2="298.1" stroke="#b5dba8" stroke-width="0.35"/>
<circle cx="111.6" cy="295.0" r="0.45" fill="#5c8f4c"/>
<text x="103.6" y="296.9" font-size="5.38" font-weight="bold" text-anchor="end" fill="#333" stroke="#333" stroke-width="0.12">reg. of vesicle−mediated transport</text>
<rect x="104.70" y="298.15" width="28.90" height="6.30" fill="#8dc57b"/>
<line x1="104.7" y1="304.4" x2="133.6" y2="304.4" stroke="#b5dba8" stroke-width="0.35"/>
<circle cx="111.6" cy="301.3" r="0.45" fill="#5c8f4c"/>
<text x="103.6" y="303.2" font-size="5.38" font-weight="bold" text-anchor="end" fill="#333" stroke="#333" stroke-width="0.12">epithelial cell proliferation</text>
<rect x="104.70" y="304.45" width="28.50" height="6.30" fill="#8dc57b"/>
<line x1="104.7" y1="310.8" x2="133.2" y2="310.8" stroke="#b5dba8" stroke-width="0.35"/>
<circle cx="111.6" cy="307.6" r="0.45" fill="#5c8f4c"/>
<text x="103.6" y="309.5" font-size="5.38" font-weight="bold" text-anchor="end" fill="#333" stroke="#333" stroke-width="0.12">TM receptor PTK signaling pathway</text>
<rect x="104.70" y="310.75" width="27.90" height="6.30" fill="#8dc57b"/>
<line x1="104.7" y1="317.0" x2="132.6" y2="317.0" stroke="#b5dba8" stroke-width="0.35"/>
<circle cx="111.6" cy="313.9" r="0.45" fill="#5c8f4c"/>
<text x="103.6" y="315.8" font-size="5.38" font-weight="bold" text-anchor="end" fill="#333" stroke="#333" stroke-width="0.12">reg. of metal ion transport</text>
<rect x="104.70" y="317.05" width="27.20" height="6.30" fill="#8dc57b"/>
<line x1="104.7" y1="323.3" x2="131.9" y2="323.3" stroke="#b5dba8" stroke-width="0.35"/>
<circle cx="111.6" cy="320.2" r="0.45" fill="#5c8f4c"/>
<text x="103.6" y="322.1" font-size="5.38" font-weight="bold" text-anchor="end" fill="#333" stroke="#333" stroke-width="0.12">muscle tissue development</text>
<rect x="104.70" y="323.35" width="26.20" height="6.30" fill="#8dc57b"/>
<line x1="104.7" y1="329.6" x2="130.9" y2="329.6" stroke="#b5dba8" stroke-width="0.35"/>
<circle cx="111.6" cy="326.5" r="0.45" fill="#5c8f4c"/>
<text x="103.6" y="328.4" font-size="5.38" font-weight="bold" text-anchor="end" fill="#333" stroke="#333" stroke-width="0.12">supramolecular fiber organization</text>
<rect x="104.70" y="329.65" width="25.40" height="6.30" fill="#8dc57b"/>
<line x1="104.7" y1="335.9" x2="130.1" y2="335.9" stroke="#b5dba8" stroke-width="0.35"/>
<circle cx="111.6" cy="332.8" r="0.45" fill="#5c8f4c"/>
<text x="103.6" y="334.7" font-size="5.38" font-weight="bold" text-anchor="end" fill="#333" stroke="#333" stroke-width="0.12">inflammatory response to wounding</text>
<rect x="104.70" y="335.95" width="25.30" height="6.30" fill="#8dc57b"/>
<line x1="104.7" y1="342.2" x2="130.0" y2="342.2" stroke="#b5dba8" stroke-width="0.35"/>
<circle cx="111.6" cy="339.1" r="0.45" fill="#5c8f4c"/>
<text x="103.6" y="341.0" font-size="5.38" font-weight="bold" text-anchor="end" fill="#333" stroke="#333" stroke-width="0.12">import into cell</text>
<rect x="104.70" y="342.25" width="24.60" height="6.30" fill="#8dc57b"/>
<line x1="104.7" y1="348.5" x2="129.3" y2="348.5" stroke="#b5dba8" stroke-width="0.35"/>
<circle cx="111.6" cy="345.4" r="0.45" fill="#5c8f4c"/>
<text x="103.6" y="347.3" font-size="5.38" font-weight="bold" text-anchor="end" fill="#333" stroke="#333" stroke-width="0.12">maturation of LSU−rRNA</text>
<polyline points="244.8,219.4 137.3,225.7 180.0,232.0 152.4,238.3 137.8,244.6 202.4,250.9 132.0,257.2 169.0,263.5 169.0,269.8 180.0,276.1 202.4,282.4 152.4,288.7 194.0,295.0 152.4,301.3 171.8,307.6 175.0,313.9 168.5,320.2 185.5,326.5 118.8,332.8 194.0,339.1 121.0,345.4" fill="none" stroke="#555" stroke-width="0.55"/>
<circle cx="244.8" cy="219.4" r="0.6" fill="#333"/>
<circle cx="137.3" cy="225.7" r="0.6" fill="#333"/>
<circle cx="180.0" cy="232.0" r="0.6" fill="#333"/>
<circle cx="152.4" cy="238.3" r="0.6" fill="#333"/>
<circle cx="137.8" cy="244.6" r="0.6" fill="#333"/>
<circle cx="202.4" cy="250.9" r="0.6" fill="#333"/>
<circle cx="132.0" cy="257.2" r="0.6" fill="#333"/>
<circle cx="169.0" cy="263.5" r="0.6" fill="#333"/>
<circle cx="169.0" cy="269.8" r="0.6" fill="#333"/>
<circle cx="180.0" cy="276.1" r="0.6" fill="#333"/>
<circle cx="202.4" cy="282.4" r="0.6" fill="#333"/>
<circle cx="152.4" cy="288.7" r="0.6" fill="#333"/>
<circle cx="194.0" cy="295.0" r="0.6" fill="#333"/>
<circle cx="152.4" cy="301.3" r="0.6" fill="#333"/>
<circle cx="171.8" cy="307.6" r="0.6" fill="#333"/>
<circle cx="175.0" cy="313.9" r="0.6" fill="#333"/>
<circle cx="168.5" cy="320.2" r="0.6" fill="#333"/>
<circle cx="185.5" cy="326.5" r="0.6" fill="#333"/>
<circle cx="118.8" cy="332.8" r="0.6" fill="#333"/>
<circle cx="194.0" cy="339.1" r="0.6" fill="#333"/>
<circle cx="121.0" cy="345.4" r="0.6" fill="#333"/>
<rect x="104.4" y="215.3" width="146.8" height="134.1" fill="none" stroke="#7a7a7a" stroke-width="0.7"/>
<text x="104.5" y="213.8" font-size="6.3" text-anchor="middle" fill="#111" stroke="#111" stroke-width="0.08">0</text>
<text x="132.6" y="213.8" font-size="6.3" text-anchor="middle" fill="#111" stroke="#111" stroke-width="0.08">10</text>
<text x="160.8" y="213.8" font-size="6.3" text-anchor="middle" fill="#111" stroke="#111" stroke-width="0.08">20</text>
<text x="188.9" y="213.8" font-size="6.3" text-anchor="middle" fill="#111" stroke="#111" stroke-width="0.08">30</text>
<text x="217.0" y="213.8" font-size="6.3" text-anchor="middle" fill="#111" stroke="#111" stroke-width="0.08">40</text>
<text x="245.2" y="213.8" font-size="6.3" text-anchor="middle" fill="#111" stroke="#111" stroke-width="0.08">50</text>
<text x="104.5" y="357.7" font-size="6.3" text-anchor="middle" fill="#111" stroke="#111" stroke-width="0.08">0</text>
<text x="132.4" y="357.7" font-size="6.3" text-anchor="middle" fill="#111" stroke="#111" stroke-width="0.08">5</text>
<text x="160.3" y="357.7" font-size="6.3" text-anchor="middle" fill="#111" stroke="#111" stroke-width="0.08">10</text>
<text x="188.3" y="357.7" font-size="6.3" text-anchor="middle" fill="#111" stroke="#111" stroke-width="0.08">15</text>
<text x="216.2" y="357.7" font-size="6.3" text-anchor="middle" fill="#111" stroke="#111" stroke-width="0.08">20</text>
<text x="244.1" y="357.7" font-size="6.3" text-anchor="middle" fill="#111" stroke="#111" stroke-width="0.08">25</text>
<text x="167.7" y="364.9" font-size="6.72" font-weight="bold" text-anchor="start" fill="#111" stroke="#111" stroke-width="0.12" textLength="27.9" lengthAdjust="spacingAndGlyphs">-log10(P)</text>
<text x="259.0" y="191.5" font-size="9.5" font-weight="bold" text-anchor="start" fill="#111" stroke="#111" stroke-width="0.12">D</text>
<text x="344.0" y="198.7" font-size="6.46" font-weight="bold" text-anchor="start" fill="#111" stroke="#111" stroke-width="0.12" textLength="112.0" lengthAdjust="spacingAndGlyphs">KEGG pathways: up−regulated genes</text>
<line x1="350.9" y1="211.5" x2="350.9" y2="351.1" stroke="#e0e0e0" stroke-width="0.5"/>
<line x1="366.3" y1="211.5" x2="366.3" y2="351.1" stroke="#ebebeb" stroke-width="0.5"/>
<line x1="381.6" y1="211.5" x2="381.6" y2="351.1" stroke="#e0e0e0" stroke-width="0.5"/>
<line x1="397.0" y1="211.5" x2="397.0" y2="351.1" stroke="#ebebeb" stroke-width="0.5"/>
<line x1="412.4" y1="211.5" x2="412.4" y2="351.1" stroke="#e0e0e0" stroke-width="0.5"/>
<line x1="427.8" y1="211.5" x2="427.8" y2="351.1" stroke="#ebebeb" stroke-width="0.5"/>
<line x1="443.1" y1="211.5" x2="443.1" y2="351.1" stroke="#e0e0e0" stroke-width="0.5"/>
<line x1="458.5" y1="211.5" x2="458.5" y2="351.1" stroke="#ebebeb" stroke-width="0.5"/>
<line x1="473.9" y1="211.5" x2="473.9" y2="351.1" stroke="#e0e0e0" stroke-width="0.5"/>
<line x1="489.3" y1="211.5" x2="489.3" y2="351.1" stroke="#ebebeb" stroke-width="0.5"/>
<line x1="504.6" y1="211.5" x2="504.6" y2="351.1" stroke="#e0e0e0" stroke-width="0.5"/>
<line x1="344.2" y1="217.3" x2="506.0" y2="217.3" stroke="#e4e4e4" stroke-width="0.5"/>
<text x="342.6" y="218.7" font-size="5.3" font-weight="bold" text-anchor="end" fill="#333" stroke="#333" stroke-width="0.12">Salmonella infection</text>
<line x1="344.2" y1="226.5" x2="506.0" y2="226.5" stroke="#e4e4e4" stroke-width="0.5"/>
<text x="342.6" y="227.9" font-size="5.3" font-weight="bold" text-anchor="end" fill="#333" stroke="#333" stroke-width="0.12">Hypertrophic cardiomyopathy</text>
<line x1="344.2" y1="235.7" x2="506.0" y2="235.7" stroke="#e4e4e4" stroke-width="0.5"/>
<text x="342.6" y="237.1" font-size="5.3" font-weight="bold" text-anchor="end" fill="#333" stroke="#333" stroke-width="0.12">IL−17 signaling pathway</text>
<line x1="344.2" y1="244.9" x2="506.0" y2="244.9" stroke="#e4e4e4" stroke-width="0.5"/>
<text x="342.6" y="246.3" font-size="5.3" font-weight="bold" text-anchor="end" fill="#333" stroke="#333" stroke-width="0.12">Bacterial inv. of epithelial cells</text>
<line x1="344.2" y1="254.1" x2="506.0" y2="254.1" stroke="#e4e4e4" stroke-width="0.5"/>
<text x="342.6" y="255.5" font-size="5.3" font-weight="bold" text-anchor="end" fill="#333" stroke="#333" stroke-width="0.12">Terpenoid backbone biosynth.</text>
<line x1="344.2" y1="263.3" x2="506.0" y2="263.3" stroke="#e4e4e4" stroke-width="0.5"/>
<text x="342.6" y="264.7" font-size="5.3" font-weight="bold" text-anchor="end" fill="#333" stroke="#333" stroke-width="0.12">MAPK signaling pathway</text>
<line x1="344.2" y1="272.5" x2="506.0" y2="272.5" stroke="#e4e4e4" stroke-width="0.5"/>
<text x="342.6" y="273.9" font-size="5.3" font-weight="bold" text-anchor="end" fill="#333" stroke="#333" stroke-width="0.12">Steroid biosynthesis</text>
<line x1="344.2" y1="281.7" x2="506.0" y2="281.7" stroke="#e4e4e4" stroke-width="0.5"/>
<text x="342.6" y="283.1" font-size="5.3" font-weight="bold" text-anchor="end" fill="#333" stroke="#333" stroke-width="0.12">Thyroid cancer</text>
<line x1="344.2" y1="290.9" x2="506.0" y2="290.9" stroke="#e4e4e4" stroke-width="0.5"/>
<text x="342.6" y="292.3" font-size="5.3" font-weight="bold" text-anchor="end" fill="#333" stroke="#333" stroke-width="0.12">Cocaine addiction</text>
<line x1="344.2" y1="300.1" x2="506.0" y2="300.1" stroke="#e4e4e4" stroke-width="0.5"/>
<text x="342.6" y="301.5" font-size="5.3" font-weight="bold" text-anchor="end" fill="#333" stroke="#333" stroke-width="0.12">Apoptosis</text>
<line x1="344.2" y1="309.3" x2="506.0" y2="309.3" stroke="#e4e4e4" stroke-width="0.5"/>
<text x="342.6" y="310.7" font-size="5.3" font-weight="bold" text-anchor="end" fill="#333" stroke="#333" stroke-width="0.12">HIF−1 signaling pathway</text>
<line x1="344.2" y1="318.5" x2="506.0" y2="318.5" stroke="#e4e4e4" stroke-width="0.5"/>
<text x="342.6" y="319.9" font-size="5.3" font-weight="bold" text-anchor="end" fill="#333" stroke="#333" stroke-width="0.12">Phenylalanine metabolism</text>
<line x1="344.2" y1="327.7" x2="506.0" y2="327.7" stroke="#e4e4e4" stroke-width="0.5"/>
<text x="342.6" y="329.1" font-size="5.3" font-weight="bold" text-anchor="end" fill="#333" stroke="#333" stroke-width="0.12">Transcriptional misreg. in cancer</text>
<line x1="344.2" y1="336.9" x2="506.0" y2="336.9" stroke="#e4e4e4" stroke-width="0.5"/>
<text x="342.6" y="338.3" font-size="5.3" font-weight="bold" text-anchor="end" fill="#333" stroke="#333" stroke-width="0.12">Synaptic vesicle cycle</text>
<line x1="344.2" y1="346.1" x2="506.0" y2="346.1" stroke="#e4e4e4" stroke-width="0.5"/>
<text x="342.6" y="347.5" font-size="5.3" font-weight="bold" text-anchor="end" fill="#333" stroke="#333" stroke-width="0.12">VEGF signaling pathway</text>
<circle cx="398.4" cy="217.3" r="1.9" fill="#a01c2a"/>
<circle cx="421" cy="226.5" r="1.35" fill="#a8303a"/>
<circle cx="418.3" cy="235.7" r="1.35" fill="#ad3a42"/>
<circle cx="426" cy="244.9" r="1.1" fill="#b5464c"/>
<circle cx="498.5" cy="254.1" r="0.6" fill="#dca0a0"/>
<circle cx="388.9" cy="263.3" r="1.9" fill="#bb5a5c"/>
<circle cx="492.7" cy="272.5" r="0.55" fill="#e0aaaa"/>
<circle cx="443" cy="281.7" r="0.85" fill="#d88080"/>
<circle cx="422" cy="290.9" r="0.8" fill="#d68888"/>
<circle cx="393.5" cy="300.1" r="1.2" fill="#dc9696"/>
<circle cx="396.5" cy="309.3" r="1.15" fill="#e0a0a0"/>
<circle cx="459" cy="318.5" r="0.6" fill="#e8c0c0"/>
<circle cx="382" cy="327.7" r="1.45" fill="#ebb6b6"/>
<circle cx="396" cy="336.9" r="0.85" fill="#ecc4c4"/>
<circle cx="400" cy="346.1" r="0.85" fill="#eec8c8"/>
<rect x="344.2" y="211.5" width="161.8" height="139.6" fill="none" stroke="#6f6f6f" stroke-width="0.7"/>
<text x="350.7" y="359.5" font-size="5.9" font-weight="bold" text-anchor="middle" fill="#333" stroke="#333" stroke-width="0.12">0.0</text>
<text x="381.1" y="359.5" font-size="5.9" font-weight="bold" text-anchor="middle" fill="#333" stroke="#333" stroke-width="0.12">2.5</text>
<text x="411.5" y="359.5" font-size="5.9" font-weight="bold" text-anchor="middle" fill="#333" stroke="#333" stroke-width="0.12">5.0</text>
<text x="441.7" y="359.5" font-size="5.9" font-weight="bold" text-anchor="middle" fill="#333" stroke="#333" stroke-width="0.12">7.5</text>
<text x="472.5" y="359.5" font-size="5.9" font-weight="bold" text-anchor="middle" fill="#333" stroke="#333" stroke-width="0.12">10.0</text>
<text x="503.5" y="359.5" font-size="5.9" font-weight="bold" text-anchor="middle" fill="#333" stroke="#333" stroke-width="0.12">12.5</text>
<text x="414.6" y="370.0" font-size="6.48" font-weight="bold" text-anchor="start" fill="#111" stroke="#111" stroke-width="0.12" textLength="34.6" lengthAdjust="spacingAndGlyphs">Enrichment</text>
<text x="515.0" y="232.7" font-size="5.34" font-weight="bold" text-anchor="start" fill="#111" stroke="#111" stroke-width="0.12" textLength="16.0" lengthAdjust="spacingAndGlyphs">−LogP</text>
<defs><linearGradient id="lg" x1="0" x2="0" y1="0" y2="1"><stop offset="0" stop-color="#c03233"/><stop offset="1" stop-color="#f6e2e2"/></linearGradient></defs>
<rect x="515" y="235.8" width="5" height="22.9" fill="url(#lg)"/>
<text x="521.2" y="240.5" font-size="4.3" text-anchor="start" fill="#333" stroke="#333" stroke-width="0.08">6</text>
<text x="521.2" y="244.7" font-size="4.3" text-anchor="start" fill="#333" stroke="#333" stroke-width="0.08">5</text>
<text x="521.2" y="250.9" font-size="4.3" text-anchor="start" fill="#333" stroke="#333" stroke-width="0.08">4</text>
<text x="521.2" y="255.7" font-size="4.3" text-anchor="start" fill="#333" stroke="#333" stroke-width="0.08">3</text>
<text x="515.0" y="275.2" font-size="5.56" font-weight="bold" text-anchor="start" fill="#111" stroke="#111" stroke-width="0.12" textLength="31.8" lengthAdjust="spacingAndGlyphs">X.GeneInGO</text>
<circle cx="517.7" cy="280.6" r="0.85" fill="#111"/>
<text x="520.6" y="282.6" font-size="5.7" text-anchor="start" fill="#222" stroke="#222" stroke-width="0.08">100</text>
<circle cx="517.7" cy="285.9" r="1.1" fill="#111"/>
<text x="520.6" y="287.9" font-size="5.7" text-anchor="start" fill="#222" stroke="#222" stroke-width="0.08">200</text>
<circle cx="517.7" cy="291.4" r="1.4" fill="#111"/>
<text x="520.6" y="293.4" font-size="5.7" text-anchor="start" fill="#222" stroke="#222" stroke-width="0.08">300</text>
<text x="5.5" y="389.6" font-size="9.5" font-weight="bold" text-anchor="start" fill="#111" stroke="#111" stroke-width="0.12">E</text>
<text x="106.3" y="396.7" font-size="6.5" font-weight="bold" text-anchor="start" fill="#111" stroke="#111" stroke-width="0.12" textLength="122.5" lengthAdjust="spacingAndGlyphs">GSEA: induced by AngII (AngII vs saline)</text>
<line x1="39.5" y1="400.6" x2="302.0" y2="400.6" stroke="#444" stroke-width="0.8"/>
<defs><linearGradient id="rb" x1="0" x2="1" y1="0" y2="0"><stop offset="0" stop-color="#cf1f33"/><stop offset="0.38" stop-color="#d44a58"/><stop offset="0.55" stop-color="#efe3ea"/><stop offset="0.64" stop-color="#b0b4dc"/><stop offset="0.72" stop-color="#3b44a0"/><stop offset="1" stop-color="#2e3a96"/></linearGradient></defs>
<rect x="56.80" y="412.60" width="59.20" height="12.60" fill="#d5edf7"/>
<text x="86.4" y="418.0" font-size="5.25" font-weight="bold" text-anchor="middle" fill="#222" stroke="#222" stroke-width="0.12">GOBP: Ribosome</text>
<text x="86.4" y="423.6" font-size="5.25" font-weight="bold" text-anchor="middle" fill="#222" stroke="#222" stroke-width="0.12">biogenesis</text>
<rect x="56.8" y="425.2" width="59.2" height="58.0" fill="#fff" stroke="#e2e2e2" stroke-width="0.5"/>
<path d="M57.2 451.4 L57.3 450.8 L57.4 450.1 L57.5 449.2 L57.7 448.2 L57.8 447.1 L58.0 446.0 L58.2 445.0 L58.4 444.0 L58.5 443.1 L58.7 442.1 L58.9 441.1 L59.1 440.2 L59.4 439.2 L59.6 438.3 L59.8 437.4 L60.1 436.5 L60.4 435.7 L60.7 434.8 L61.0 434.0 L61.3 433.2 L61.6 432.5 L62.0 431.8 L62.3 431.1 L62.7 430.5 L63.1 430.0 L63.5 429.5 L63.9 429.1 L64.3 428.7 L64.7 428.3 L65.1 428.0 L65.5 427.7 L65.9 427.5 L66.2 427.3 L66.5 427.1 L66.8 427.0 L67.2 426.9 L67.5 426.8 L67.8 426.8 L68.3 426.8 L68.8 426.8 L69.3 426.9 L69.9 427.0 L70.6 427.1 L71.3 427.3 L72.0 427.6 L72.8 427.8 L73.7 428.1 L74.5 428.5 L75.5 428.9 L76.5 429.4 L77.6 430.0 L78.7 430.6 L79.8 431.2 L81.0 431.8 L82.1 432.4 L83.2 433.0 L84.3 433.5 L85.4 434.0 L86.5 434.5 L87.5 435.0 L88.6 435.4 L89.7 435.9 L90.8 436.5 L91.9 437.0 L93.0 437.6 L94.0 438.2 L95.1 438.8 L96.2 439.4 L97.3 440.0 L98.4 440.7 L99.5 441.3 L100.5 442.0 L101.7 442.7 L102.8 443.5 L103.9 444.3 L105.1 445.1 L106.2 445.9 L107.3 446.7 L108.3 447.4 L109.2 448.0 L110.1 448.6 L111.0 449.1 L111.9 449.5 L112.7 450.0 L113.4 450.4 L114.0 450.7 L114.6 451.0 L115.0 451.2" stroke="#a9c760" stroke-width="0.8" fill="none"/>
<text x="55.8" y="428.7" font-size="5.0" font-weight="bold" text-anchor="end" fill="#222" stroke="#222" stroke-width="0.12">0.6</text>
<text x="55.8" y="436.5" font-size="5.0" font-weight="bold" text-anchor="end" fill="#222" stroke="#222" stroke-width="0.12">0.4</text>
<text x="55.8" y="444.7" font-size="5.0" font-weight="bold" text-anchor="end" fill="#222" stroke="#222" stroke-width="0.12">0.2</text>
<text x="55.8" y="453.1" font-size="5.0" font-weight="bold" text-anchor="end" fill="#222" stroke="#222" stroke-width="0.12">0</text>
<rect x="57.50" y="453.6" width="0.5" height="8.4" fill="#000" fill-opacity="0.97"/>
<rect x="58.16" y="453.6" width="0.5" height="8.4" fill="#000" fill-opacity="0.76"/>
<rect x="58.49" y="453.6" width="0.5" height="8.4" fill="#000" fill-opacity="0.94"/>
<rect x="58.82" y="453.6" width="0.5" height="8.4" fill="#000" fill-opacity="0.44"/>
<rect x="59.15" y="453.6" width="0.5" height="8.4" fill="#000" fill-opacity="1.00"/>
<rect x="59.48" y="453.6" width="0.5" height="8.4" fill="#000" fill-opacity="1.00"/>
<rect x="59.81" y="453.6" width="0.5" height="8.4" fill="#000" fill-opacity="0.81"/>
<rect x="60.14" y="453.6" width="0.5" height="8.4" fill="#000" fill-opacity="0.58"/>
<rect x="61.13" y="453.6" width="0.5" height="8.4" fill="#000" fill-opacity="0.37"/>
<rect x="61.46" y="453.6" width="0.5" height="8.4" fill="#000" fill-opacity="1.00"/>
<rect x="61.79" y="453.6" width="0.5" height="8.4" fill="#000" fill-opacity="0.50"/>
<rect x="62.12" y="453.6" width="0.5" height="8.4" fill="#000" fill-opacity="0.37"/>
<rect x="62.45" y="453.6" width="0.5" height="8.4" fill="#000" fill-opacity="0.66"/>
<rect x="62.78" y="453.6" width="0.5" height="8.4" fill="#000" fill-opacity="0.53"/>
<rect x="63.11" y="453.6" width="0.5" height="8.4" fill="#000" fill-opacity="0.53"/>
<rect x="63.44" y="453.6" width="0.5" height="8.4" fill="#000" fill-opacity="0.61"/>
<rect x="63.77" y="453.6" width="0.5" height="8.4" fill="#000" fill-opacity="1.00"/>
<rect x="64.10" y="453.6" width="0.5" height="8.4" fill="#000" fill-opacity="0.99"/>
<rect x="64.43" y="453.6" width="0.5" height="8.4" fill="#000" fill-opacity="1.00"/>
<rect x="65.09" y="453.6" width="0.5" height="8.4" fill="#000" fill-opacity="0.65"/>
<rect x="66.41" y="453.6" width="0.5" height="8.4" fill="#000" fill-opacity="0.90"/>
<rect x="67.07" y="453.6" width="0.5" height="8.4" fill="#000" fill-opacity="0.74"/>
<rect x="68.06" y="453.6" width="0.5" height="8.4" fill="#000" fill-opacity="0.84"/>
<rect x="68.39" y="453.6" width="0.5" height="8.4" fill="#000" fill-opacity="0.56"/>
<rect x="68.72" y="453.6" width="0.5" height="8.4" fill="#000" fill-opacity="0.73"/>
<rect x="69.05" y="453.6" width="0.5" height="8.4" fill="#000" fill-opacity="0.86"/>
<rect x="69.38" y="453.6" width="0.5" height="8.4" fill="#000" fill-opacity="0.97"/>
<rect x="69.71" y="453.6" width="0.5" height="8.4" fill="#000" fill-opacity="0.74"/>
<rect x="70.04" y="453.6" width="0.5" height="8.4" fill="#000" fill-opacity="0.99"/>
<rect x="70.37" y="453.6" width="0.5" height="8.4" fill="#000" fill-opacity="0.65"/>
<rect x="70.70" y="453.6" width="0.5" height="8.4" fill="#000" fill-opacity="0.37"/>
<rect x="71.03" y="453.6" width="0.5" height="8.4" fill="#000" fill-opacity="0.81"/>
<rect x="72.02" y="453.6" width="0.5" height="8.4" fill="#000" fill-opacity="0.46"/>
<rect x="72.35" y="453.6" width="0.5" height="8.4" fill="#000" fill-opacity="1.00"/>
<rect x="73.01" y="453.6" width="0.5" height="8.4" fill="#000" fill-opacity="1.00"/>
<rect x="73.34" y="453.6" width="0.5" height="8.4" fill="#000" fill-opacity="0.79"/>
<rect x="74.00" y="453.6" width="0.5" height="8.4" fill="#000" fill-opacity="0.75"/>
<rect x="74.33" y="453.6" width="0.5" height="8.4" fill="#000" fill-opacity="0.82"/>
<rect x="74.99" y="453.6" width="0.5" height="8.4" fill="#000" fill-opacity="0.93"/>
<rect x="77.30" y="453.6" width="0.5" height="8.4" fill="#000" fill-opacity="0.39"/>
<rect x="77.96" y="453.6" width="0.5" height="8.4" fill="#000" fill-opacity="0.51"/>
<rect x="78.29" y="453.6" width="0.5" height="8.4" fill="#000" fill-opacity="0.75"/>
<rect x="78.62" y="453.6" width="0.5" height="8.4" fill="#000" fill-opacity="0.64"/>
<rect x="78.95" y="453.6" width="0.5" height="8.4" fill="#000" fill-opacity="0.85"/>
<rect x="79.28" y="453.6" width="0.5" height="8.4" fill="#000" fill-opacity="0.70"/>
<rect x="79.61" y="453.6" width="0.5" height="8.4" fill="#000" fill-opacity="0.52"/>
<rect x="79.94" y="453.6" width="0.5" height="8.4" fill="#000" fill-opacity="0.74"/>
<rect x="81.59" y="453.6" width="0.5" height="8.4" fill="#000" fill-opacity="0.84"/>
<rect x="82.25" y="453.6" width="0.5" height="8.4" fill="#000" fill-opacity="0.36"/>
<rect x="82.58" y="453.6" width="0.5" height="8.4" fill="#000" fill-opacity="0.89"/>
<rect x="82.91" y="453.6" width="0.5" height="8.4" fill="#000" fill-opacity="0.43"/>
<rect x="83.57" y="453.6" width="0.5" height="8.4" fill="#000" fill-opacity="0.40"/>
<rect x="83.90" y="453.6" width="0.5" height="8.4" fill="#000" fill-opacity="0.74"/>
<rect x="84.23" y="453.6" width="0.5" height="8.4" fill="#000" fill-opacity="0.54"/>
<rect x="85.22" y="453.6" width="0.5" height="8.4" fill="#000" fill-opacity="0.61"/>
<rect x="85.55" y="453.6" width="0.5" height="8.4" fill="#000" fill-opacity="0.56"/>
<rect x="86.21" y="453.6" width="0.5" height="8.4" fill="#000" fill-opacity="0.41"/>
<rect x="87.20" y="453.6" width="0.5" height="8.4" fill="#000" fill-opacity="0.74"/>
<rect x="87.86" y="453.6" width="0.5" height="8.4" fill="#000" fill-opacity="0.36"/>
<rect x="88.19" y="453.6" width="0.5" height="8.4" fill="#000" fill-opacity="0.86"/>
<rect x="88.52" y="453.6" width="0.5" height="8.4" fill="#000" fill-opacity="0.84"/>
<rect x="89.51" y="453.6" width="0.5" height="8.4" fill="#000" fill-opacity="0.91"/>
<rect x="90.50" y="453.6" width="0.5" height="8.4" fill="#000" fill-opacity="0.67"/>
<rect x="91.49" y="453.6" width="0.5" height="8.4" fill="#000" fill-opacity="0.70"/>
<rect x="91.82" y="453.6" width="0.5" height="8.4" fill="#000" fill-opacity="0.53"/>
<rect x="92.81" y="453.6" width="0.5" height="8.4" fill="#000" fill-opacity="0.91"/>
<rect x="93.14" y="453.6" width="0.5" height="8.4" fill="#000" fill-opacity="0.96"/>
<rect x="94.13" y="453.6" width="0.5" height="8.4" fill="#000" fill-opacity="0.35"/>
<rect x="94.79" y="453.6" width="0.5" height="8.4" fill="#000" fill-opacity="0.75"/>
<rect x="95.78" y="453.6" width="0.5" height="8.4" fill="#000" fill-opacity="0.76"/>
<rect x="97.10" y="453.6" width="0.5" height="8.4" fill="#000" fill-opacity="0.55"/>
<rect x="97.43" y="453.6" width="0.5" height="8.4" fill="#000" fill-opacity="0.75"/>
<rect x="98.09" y="453.6" width="0.5" height="8.4" fill="#000" fill-opacity="0.41"/>
<rect x="98.75" y="453.6" width="0.5" height="8.4" fill="#000" fill-opacity="0.61"/>
<rect x="100.07" y="453.6" width="0.5" height="8.4" fill="#000" fill-opacity="0.44"/>
<rect x="101.72" y="453.6" width="0.5" height="8.4" fill="#000" fill-opacity="0.70"/>
<rect x="105.02" y="453.6" width="0.5" height="8.4" fill="#000" fill-opacity="0.42"/>
<rect x="109.97" y="453.6" width="0.5" height="8.4" fill="#000" fill-opacity="0.36"/>
<rect x="110.30" y="453.6" width="0.5" height="8.4" fill="#000" fill-opacity="0.68"/>
<rect x="113.27" y="453.6" width="0.5" height="8.4" fill="#000" fill-opacity="0.45"/>
<rect x="57.2" y="461.7" width="57.6" height="1.9" fill="url(#rb)"/>
<text x="60.1" y="469.0" font-size="5.5" font-weight="bold" text-anchor="start" fill="#d3202e" stroke="#d3202e" stroke-width="0.12">Ang II</text>
<path d="M57.2 471.1 Q60.8 472.3 66.8 472.6 L108.0 473.7 Q113.0 474.1 114.8 475.9 L114.8 472.6 Z" fill="#dadada" stroke="#a0a0a0" stroke-width="0.4"/>
<text x="55.6" y="470.0" font-size="5.3" font-weight="bold" text-anchor="end" fill="#222" stroke="#222" stroke-width="0.12">2</text>
<text x="55.6" y="474.9" font-size="5.3" font-weight="bold" text-anchor="end" fill="#222" stroke="#222" stroke-width="0.12">0</text>
<g transform="translate(55.4,478.1) rotate(-90)">
<text x="0.0" y="0.0" font-size="4.8" font-weight="bold" text-anchor="middle" fill="#222" stroke="#222" stroke-width="0.12">-2</text>
</g>
<text x="90.5" y="480.6" font-size="5.5" font-weight="bold" text-anchor="start" fill="#3c4aa0" stroke="#3c4aa0" stroke-width="0.12">Saline</text>
<g transform="translate(39.5,438.0) rotate(-90)">
<text x="0.0" y="0.0" font-size="5.75" font-weight="bold" text-anchor="middle" fill="#222" stroke="#222" stroke-width="0.12" textLength="27.5" lengthAdjust="spacingAndGlyphs">Enrichment</text>
</g>
<g transform="translate(45.5,438.0) rotate(-90)">
<text x="0.0" y="0.0" font-size="5.93" font-weight="bold" text-anchor="middle" fill="#222" stroke="#222" stroke-width="0.12" textLength="25.5" lengthAdjust="spacingAndGlyphs">score (ES)</text>
</g>
<g transform="translate(39.5,470.5) rotate(-90)">
<text x="0.0" y="0.0" font-size="5.07" font-weight="bold" text-anchor="middle" fill="#222" stroke="#222" stroke-width="0.12" textLength="23.5" lengthAdjust="spacingAndGlyphs">Ranked list</text>
</g>
<g transform="translate(45.5,470.5) rotate(-90)">
<text x="0.0" y="0.0" font-size="4.8" font-weight="bold" text-anchor="middle" fill="#222" stroke="#222" stroke-width="0.12" textLength="29.0" lengthAdjust="spacingAndGlyphs">(Signal2Noise)</text>
</g>
<rect x="57.1" y="483.4" width="58.9" height="21.5" rx="10.5" ry="10.5" fill="#e8e8f0"/>
<text x="86.4" y="489.5" font-size="5.3" font-weight="bold" text-anchor="middle" fill="#111" stroke="#111" stroke-width="0.12">NES: 3.2465308</text>
<text x="86.4" y="496.0" font-size="5.3" font-weight="bold" text-anchor="middle" fill="#111" stroke="#111" stroke-width="0.12">NOM p: 0.0</text>
<text x="86.4" y="502.3" font-size="5.3" font-weight="bold" text-anchor="middle" fill="#111" stroke="#111" stroke-width="0.12">FDR q: 0.0</text>
<rect x="147.30" y="412.60" width="57.20" height="12.60" fill="#d5edf7"/>
<text x="175.9" y="418.0" font-size="5.25" font-weight="bold" text-anchor="middle" fill="#222" stroke="#222" stroke-width="0.12">GOBP: Proton motive force</text>
<text x="175.9" y="423.6" font-size="5.25" font-weight="bold" text-anchor="middle" fill="#222" stroke="#222" stroke-width="0.12">driven ATP synthesis</text>
<rect x="147.3" y="425.2" width="57.2" height="56.6" fill="#fff" stroke="#e2e2e2" stroke-width="0.5"/>
<path d="M147.7 442.3 L147.9 441.8 L148.2 441.2 L148.5 440.4 L148.9 439.5 L149.2 438.6 L149.6 437.7 L150.1 436.8 L150.5 436.0 L150.9 435.2 L151.4 434.4 L151.8 433.5 L152.3 432.7 L152.8 431.9 L153.4 431.2 L153.9 430.5 L154.4 430.0 L154.9 429.6 L155.4 429.2 L156.0 429.0 L156.5 428.8 L157.1 428.6 L157.7 428.6 L158.2 428.6 L158.9 428.6 L159.5 428.7 L160.2 428.9 L160.9 429.2 L161.6 429.6 L162.3 430.0 L163.0 430.3 L163.7 430.7 L164.4 431.0 L165.1 431.3 L165.8 431.6 L166.5 431.8 L167.2 432.1 L167.9 432.3 L168.6 432.6 L169.3 432.8 L170.0 433.0 L170.7 433.2 L171.4 433.3 L172.1 433.4 L172.8 433.4 L173.5 433.5 L174.2 433.6 L174.9 433.8 L175.6 434.0 L176.3 434.3 L176.9 434.6 L177.6 434.9 L178.2 435.2 L178.9 435.6 L179.6 436.1 L180.3 436.5 L181.2 437.0 L182.1 437.5 L183.1 438.1 L184.1 438.7 L185.2 439.4 L186.3 440.0 L187.4 440.7 L188.5 441.4 L189.6 442.0 L190.6 442.6 L191.7 443.3 L192.8 444.0 L193.9 444.6 L195.0 445.3 L196.0 445.9 L197.0 446.5 L197.9 447.0 L198.8 447.5 L199.6 448.0 L200.5 448.4 L201.2 448.8 L201.9 449.2 L202.6 449.5 L203.1 449.8 L203.5 450.0" stroke="#a9c760" stroke-width="0.8" fill="none"/>
<text x="146.3" y="430.5" font-size="5.0" font-weight="bold" text-anchor="end" fill="#222" stroke="#222" stroke-width="0.12">0.6</text>
<text x="146.3" y="437.7" font-size="5.0" font-weight="bold" text-anchor="end" fill="#222" stroke="#222" stroke-width="0.12">0.4</text>
<text x="146.3" y="444.9" font-size="5.0" font-weight="bold" text-anchor="end" fill="#222" stroke="#222" stroke-width="0.12">0.2</text>
<text x="146.3" y="451.9" font-size="5.0" font-weight="bold" text-anchor="end" fill="#222" stroke="#222" stroke-width="0.12">0</text>
<rect x="148.66" y="452.2" width="0.5" height="8.4" fill="#000" fill-opacity="0.42"/>
<rect x="149.32" y="452.2" width="0.5" height="8.4" fill="#000" fill-opacity="0.94"/>
<rect x="149.65" y="452.2" width="0.5" height="8.4" fill="#000" fill-opacity="0.88"/>
<rect x="149.98" y="452.2" width="0.5" height="8.4" fill="#000" fill-opacity="0.84"/>
<rect x="150.31" y="452.2" width="0.5" height="8.4" fill="#000" fill-opacity="0.69"/>
<rect x="150.64" y="452.2" width="0.5" height="8.4" fill="#000" fill-opacity="0.87"/>
<rect x="152.29" y="452.2" width="0.5" height="8.4" fill="#000" fill-opacity="0.37"/>
<rect x="152.62" y="452.2" width="0.5" height="8.4" fill="#000" fill-opacity="0.61"/>
<rect x="152.95" y="452.2" width="0.5" height="8.4" fill="#000" fill-opacity="0.59"/>
<rect x="153.61" y="452.2" width="0.5" height="8.4" fill="#000" fill-opacity="0.78"/>
<rect x="153.94" y="452.2" width="0.5" height="8.4" fill="#000" fill-opacity="0.37"/>
<rect x="154.27" y="452.2" width="0.5" height="8.4" fill="#000" fill-opacity="0.47"/>
<rect x="154.60" y="452.2" width="0.5" height="8.4" fill="#000" fill-opacity="1.00"/>
<rect x="154.93" y="452.2" width="0.5" height="8.4" fill="#000" fill-opacity="0.51"/>
<rect x="158.23" y="452.2" width="0.5" height="8.4" fill="#000" fill-opacity="0.84"/>
<rect x="158.89" y="452.2" width="0.5" height="8.4" fill="#000" fill-opacity="0.77"/>
<rect x="159.22" y="452.2" width="0.5" height="8.4" fill="#000" fill-opacity="1.00"/>
<rect x="159.55" y="452.2" width="0.5" height="8.4" fill="#000" fill-opacity="1.00"/>
<rect x="159.88" y="452.2" width="0.5" height="8.4" fill="#000" fill-opacity="1.00"/>
<rect x="160.54" y="452.2" width="0.5" height="8.4" fill="#000" fill-opacity="0.80"/>
<rect x="161.86" y="452.2" width="0.5" height="8.4" fill="#000" fill-opacity="0.52"/>
<rect x="162.52" y="452.2" width="0.5" height="8.4" fill="#000" fill-opacity="0.82"/>
<rect x="162.85" y="452.2" width="0.5" height="8.4" fill="#000" fill-opacity="0.85"/>
<rect x="163.18" y="452.2" width="0.5" height="8.4" fill="#000" fill-opacity="0.93"/>
<rect x="163.84" y="452.2" width="0.5" height="8.4" fill="#000" fill-opacity="0.74"/>
<rect x="164.17" y="452.2" width="0.5" height="8.4" fill="#000" fill-opacity="0.83"/>
<rect x="164.50" y="452.2" width="0.5" height="8.4" fill="#000" fill-opacity="0.53"/>
<rect x="164.83" y="452.2" width="0.5" height="8.4" fill="#000" fill-opacity="1.00"/>
<rect x="165.16" y="452.2" width="0.5" height="8.4" fill="#000" fill-opacity="0.42"/>
<rect x="166.48" y="452.2" width="0.5" height="8.4" fill="#000" fill-opacity="0.81"/>
<rect x="166.81" y="452.2" width="0.5" height="8.4" fill="#000" fill-opacity="0.72"/>
<rect x="167.14" y="452.2" width="0.5" height="8.4" fill="#000" fill-opacity="0.47"/>
<rect x="167.80" y="452.2" width="0.5" height="8.4" fill="#000" fill-opacity="0.63"/>
<rect x="168.46" y="452.2" width="0.5" height="8.4" fill="#000" fill-opacity="0.48"/>
<rect x="169.12" y="452.2" width="0.5" height="8.4" fill="#000" fill-opacity="0.91"/>
<rect x="169.45" y="452.2" width="0.5" height="8.4" fill="#000" fill-opacity="0.65"/>
<rect x="169.78" y="452.2" width="0.5" height="8.4" fill="#000" fill-opacity="0.94"/>
<rect x="170.11" y="452.2" width="0.5" height="8.4" fill="#000" fill-opacity="1.00"/>
<rect x="170.44" y="452.2" width="0.5" height="8.4" fill="#000" fill-opacity="0.97"/>
<rect x="170.77" y="452.2" width="0.5" height="8.4" fill="#000" fill-opacity="0.56"/>
<rect x="171.43" y="452.2" width="0.5" height="8.4" fill="#000" fill-opacity="0.47"/>
<rect x="172.42" y="452.2" width="0.5" height="8.4" fill="#000" fill-opacity="0.86"/>
<rect x="172.75" y="452.2" width="0.5" height="8.4" fill="#000" fill-opacity="0.37"/>
<rect x="174.07" y="452.2" width="0.5" height="8.4" fill="#000" fill-opacity="0.60"/>
<rect x="174.40" y="452.2" width="0.5" height="8.4" fill="#000" fill-opacity="0.71"/>
<rect x="175.06" y="452.2" width="0.5" height="8.4" fill="#000" fill-opacity="1.00"/>
<rect x="176.38" y="452.2" width="0.5" height="8.4" fill="#000" fill-opacity="0.51"/>
<rect x="181.33" y="452.2" width="0.5" height="8.4" fill="#000" fill-opacity="0.51"/>
<rect x="186.94" y="452.2" width="0.5" height="8.4" fill="#000" fill-opacity="0.61"/>
<rect x="187.27" y="452.2" width="0.5" height="8.4" fill="#000" fill-opacity="0.88"/>
<rect x="187.60" y="452.2" width="0.5" height="8.4" fill="#000" fill-opacity="0.39"/>
<rect x="187.93" y="452.2" width="0.5" height="8.4" fill="#000" fill-opacity="0.46"/>
<rect x="188.26" y="452.2" width="0.5" height="8.4" fill="#000" fill-opacity="0.59"/>
<rect x="197.83" y="452.2" width="0.5" height="8.4" fill="#000" fill-opacity="0.55"/>
<rect x="199.48" y="452.2" width="0.5" height="8.4" fill="#000" fill-opacity="0.48"/>
<rect x="147.7" y="460.3" width="55.6" height="1.9" fill="url(#rb)"/>
<text x="150.6" y="467.6" font-size="5.5" font-weight="bold" text-anchor="start" fill="#d3202e" stroke="#d3202e" stroke-width="0.12">Ang II</text>
<path d="M147.7 469.7 Q151.3 470.9 157.3 471.2 L196.5 472.3 Q201.5 472.7 203.3 474.5 L203.3 471.2 Z" fill="#dadada" stroke="#a0a0a0" stroke-width="0.4"/>
<g transform="translate(143.7,471.4) rotate(-90)">
<text x="0.0" y="0.0" font-size="4.6" font-weight="bold" text-anchor="middle" fill="#222" stroke="#222" stroke-width="0.12">-2 0 2</text>
</g>
<text x="179.0" y="479.2" font-size="5.5" font-weight="bold" text-anchor="start" fill="#3c4aa0" stroke="#3c4aa0" stroke-width="0.12">Saline</text>
<g transform="translate(130.0,437.3) rotate(-90)">
<text x="0.0" y="0.0" font-size="5.75" font-weight="bold" text-anchor="middle" fill="#222" stroke="#222" stroke-width="0.12" textLength="27.5" lengthAdjust="spacingAndGlyphs">Enrichment</text>
</g>
<g transform="translate(136.0,437.3) rotate(-90)">
<text x="0.0" y="0.0" font-size="5.93" font-weight="bold" text-anchor="middle" fill="#222" stroke="#222" stroke-width="0.12" textLength="25.5" lengthAdjust="spacingAndGlyphs">score (ES)</text>
</g>
<g transform="translate(130.0,470.6) rotate(-90)">
<text x="0.0" y="0.0" font-size="5.5" font-weight="bold" text-anchor="middle" fill="#222" stroke="#222" stroke-width="0.12" textLength="25.5" lengthAdjust="spacingAndGlyphs">Ranked list</text>
</g>
<g transform="translate(136.0,470.6) rotate(-90)">
<text x="0.0" y="0.0" font-size="5.05" font-weight="bold" text-anchor="middle" fill="#222" stroke="#222" stroke-width="0.12" textLength="30.5" lengthAdjust="spacingAndGlyphs">(Signal2Noise)</text>
</g>
<rect x="147.6" y="482.0" width="56.9" height="21.5" rx="10.5" ry="10.5" fill="#e8e8f0"/>
<text x="175.9" y="488.1" font-size="5.3" font-weight="bold" text-anchor="middle" fill="#111" stroke="#111" stroke-width="0.12">NES: 2.5943348</text>
<text x="175.9" y="494.6" font-size="5.3" font-weight="bold" text-anchor="middle" fill="#111" stroke="#111" stroke-width="0.12">NOM p: 0.0</text>
<text x="175.9" y="500.9" font-size="5.3" font-weight="bold" text-anchor="middle" fill="#111" stroke="#111" stroke-width="0.12">FDR q: 0.0</text>
<rect x="241.00" y="412.60" width="57.00" height="12.60" fill="#d5edf7"/>
<text x="269.5" y="418.0" font-size="5.25" font-weight="bold" text-anchor="middle" fill="#222" stroke="#222" stroke-width="0.12">GOBP: Sterol biosynthetic</text>
<text x="269.5" y="423.6" font-size="5.25" font-weight="bold" text-anchor="middle" fill="#222" stroke="#222" stroke-width="0.12">process</text>
<rect x="241.0" y="425.2" width="57.0" height="57.6" fill="#fff" stroke="#e2e2e2" stroke-width="0.5"/>
<path d="M241.4 437.7 L241.6 437.2 L241.8 436.4 L242.1 435.5 L242.4 434.5 L242.7 433.5 L243.0 432.5 L243.3 431.7 L243.6 431.0 L243.9 430.5 L244.1 430.0 L244.4 429.7 L244.6 429.4 L244.9 429.1 L245.2 428.9 L245.5 428.7 L245.8 428.6 L246.2 428.5 L246.6 428.5 L247.0 428.5 L247.4 428.5 L247.9 428.6 L248.4 428.7 L249.0 428.8 L249.7 429.0 L250.6 429.2 L251.4 429.4 L252.4 429.7 L253.5 429.9 L254.6 430.3 L255.7 430.6 L256.9 431.0 L258.1 431.5 L259.3 432.0 L260.7 432.7 L262.0 433.3 L263.5 434.1 L264.9 434.8 L266.4 435.6 L267.8 436.3 L269.2 437.0 L270.6 437.7 L272.0 438.4 L273.5 439.1 L274.9 439.8 L276.4 440.5 L277.7 441.2 L279.1 441.9 L280.3 442.5 L281.5 443.1 L282.7 443.8 L283.8 444.4 L284.9 445.0 L286.0 445.5 L287.0 446.1 L287.8 446.6 L288.7 447.0 L289.4 447.4 L290.0 447.7 L290.5 448.0 L291.0 448.3 L291.4 448.5 L291.8 448.7 L292.2 448.9 L292.6 449.0 L292.9 449.0 L293.2 449.0 L293.5 448.9 L293.8 448.7 L294.0 448.6 L294.3 448.5 L294.5 448.4 L294.8 448.5 L295.1 448.7 L295.4 449.0 L295.7 449.3 L296.0 449.7 L296.3 450.1 L296.6 450.5 L296.8 450.8 L297.0 451.0" stroke="#a9c760" stroke-width="0.8" fill="none"/>
<text x="240.0" y="430.5" font-size="5.0" font-weight="bold" text-anchor="end" fill="#222" stroke="#222" stroke-width="0.12">0.6</text>
<text x="240.0" y="437.9" font-size="5.0" font-weight="bold" text-anchor="end" fill="#222" stroke="#222" stroke-width="0.12">0.4</text>
<text x="240.0" y="445.3" font-size="5.0" font-weight="bold" text-anchor="end" fill="#222" stroke="#222" stroke-width="0.12">0.2</text>
<text x="240.0" y="452.5" font-size="5.0" font-weight="bold" text-anchor="end" fill="#222" stroke="#222" stroke-width="0.12">0</text>
<rect x="241.70" y="453.2" width="0.5" height="8.4" fill="#000" fill-opacity="0.79"/>
<rect x="242.03" y="453.2" width="0.5" height="8.4" fill="#000" fill-opacity="0.86"/>
<rect x="242.36" y="453.2" width="0.5" height="8.4" fill="#000" fill-opacity="0.41"/>
<rect x="242.69" y="453.2" width="0.5" height="8.4" fill="#000" fill-opacity="1.00"/>
<rect x="243.02" y="453.2" width="0.5" height="8.4" fill="#000" fill-opacity="0.54"/>
<rect x="243.68" y="453.2" width="0.5" height="8.4" fill="#000" fill-opacity="0.94"/>
<rect x="244.67" y="453.2" width="0.5" height="8.4" fill="#000" fill-opacity="0.68"/>
<rect x="246.32" y="453.2" width="0.5" height="8.4" fill="#000" fill-opacity="0.77"/>
<rect x="246.98" y="453.2" width="0.5" height="8.4" fill="#000" fill-opacity="0.37"/>
<rect x="247.64" y="453.2" width="0.5" height="8.4" fill="#000" fill-opacity="0.91"/>
<rect x="248.96" y="453.2" width="0.5" height="8.4" fill="#000" fill-opacity="0.95"/>
<rect x="249.29" y="453.2" width="0.5" height="8.4" fill="#000" fill-opacity="1.00"/>
<rect x="249.95" y="453.2" width="0.5" height="8.4" fill="#000" fill-opacity="0.43"/>
<rect x="250.28" y="453.2" width="0.5" height="8.4" fill="#000" fill-opacity="0.85"/>
<rect x="255.23" y="453.2" width="0.5" height="8.4" fill="#000" fill-opacity="0.89"/>
<rect x="258.20" y="453.2" width="0.5" height="8.4" fill="#000" fill-opacity="0.80"/>
<rect x="258.86" y="453.2" width="0.5" height="8.4" fill="#000" fill-opacity="0.85"/>
<rect x="259.19" y="453.2" width="0.5" height="8.4" fill="#000" fill-opacity="0.45"/>
<rect x="259.52" y="453.2" width="0.5" height="8.4" fill="#000" fill-opacity="0.88"/>
<rect x="260.18" y="453.2" width="0.5" height="8.4" fill="#000" fill-opacity="0.77"/>
<rect x="260.51" y="453.2" width="0.5" height="8.4" fill="#000" fill-opacity="0.82"/>
<rect x="260.84" y="453.2" width="0.5" height="8.4" fill="#000" fill-opacity="0.89"/>
<rect x="262.49" y="453.2" width="0.5" height="8.4" fill="#000" fill-opacity="0.60"/>
<rect x="262.82" y="453.2" width="0.5" height="8.4" fill="#000" fill-opacity="0.43"/>
<rect x="263.81" y="453.2" width="0.5" height="8.4" fill="#000" fill-opacity="0.37"/>
<rect x="264.47" y="453.2" width="0.5" height="8.4" fill="#000" fill-opacity="0.88"/>
<rect x="265.13" y="453.2" width="0.5" height="8.4" fill="#000" fill-opacity="0.63"/>
<rect x="270.08" y="453.2" width="0.5" height="8.4" fill="#000" fill-opacity="0.55"/>
<rect x="270.74" y="453.2" width="0.5" height="8.4" fill="#000" fill-opacity="0.69"/>
<rect x="271.40" y="453.2" width="0.5" height="8.4" fill="#000" fill-opacity="0.71"/>
<rect x="273.38" y="453.2" width="0.5" height="8.4" fill="#000" fill-opacity="0.38"/>
<rect x="278.00" y="453.2" width="0.5" height="8.4" fill="#000" fill-opacity="0.62"/>
<rect x="280.97" y="453.2" width="0.5" height="8.4" fill="#000" fill-opacity="0.47"/>
<rect x="282.62" y="453.2" width="0.5" height="8.4" fill="#000" fill-opacity="0.50"/>
<rect x="284.27" y="453.2" width="0.5" height="8.4" fill="#000" fill-opacity="0.56"/>
<rect x="290.87" y="453.2" width="0.5" height="8.4" fill="#000" fill-opacity="0.65"/>
<rect x="295.49" y="453.2" width="0.5" height="8.4" fill="#000" fill-opacity="0.55"/>
<rect x="296.48" y="453.2" width="0.5" height="8.4" fill="#000" fill-opacity="0.63"/>
<rect x="241.4" y="461.3" width="55.4" height="1.9" fill="url(#rb)"/>
<text x="244.3" y="468.6" font-size="5.5" font-weight="bold" text-anchor="start" fill="#d3202e" stroke="#d3202e" stroke-width="0.12">Ang II</text>
<path d="M241.4 470.7 Q245.0 471.9 251.0 472.2 L290.0 473.3 Q295.0 473.7 296.8 475.5 L296.8 472.2 Z" fill="#dadada" stroke="#a0a0a0" stroke-width="0.4"/>
<g transform="translate(237.4,472.4) rotate(-90)">
<text x="0.0" y="0.0" font-size="4.6" font-weight="bold" text-anchor="middle" fill="#222" stroke="#222" stroke-width="0.12">-2 0 2</text>
</g>
<text x="272.5" y="480.2" font-size="5.5" font-weight="bold" text-anchor="start" fill="#3c4aa0" stroke="#3c4aa0" stroke-width="0.12">Saline</text>
<g transform="translate(223.7,437.8) rotate(-90)">
<text x="0.0" y="0.0" font-size="5.75" font-weight="bold" text-anchor="middle" fill="#222" stroke="#222" stroke-width="0.12" textLength="27.5" lengthAdjust="spacingAndGlyphs">Enrichment</text>
</g>
<g transform="translate(229.7,437.8) rotate(-90)">
<text x="0.0" y="0.0" font-size="5.93" font-weight="bold" text-anchor="middle" fill="#222" stroke="#222" stroke-width="0.12" textLength="25.5" lengthAdjust="spacingAndGlyphs">score (ES)</text>
</g>
<g transform="translate(223.7,471.6) rotate(-90)">
<text x="0.0" y="0.0" font-size="5.5" font-weight="bold" text-anchor="middle" fill="#222" stroke="#222" stroke-width="0.12" textLength="25.5" lengthAdjust="spacingAndGlyphs">Ranked list</text>
</g>
<g transform="translate(229.7,471.6) rotate(-90)">
<text x="0.0" y="0.0" font-size="5.05" font-weight="bold" text-anchor="middle" fill="#222" stroke="#222" stroke-width="0.12" textLength="30.5" lengthAdjust="spacingAndGlyphs">(Signal2Noise)</text>
</g>
<rect x="241.3" y="483.0" width="56.7" height="21.5" rx="10.5" ry="10.5" fill="#e8e8f0"/>
<text x="269.5" y="489.1" font-size="5.3" font-weight="bold" text-anchor="middle" fill="#111" stroke="#111" stroke-width="0.12">NES: 2.4870484</text>
<text x="269.5" y="495.6" font-size="5.3" font-weight="bold" text-anchor="middle" fill="#111" stroke="#111" stroke-width="0.12">NOM p: 0.0</text>
<text x="269.5" y="501.9" font-size="5.3" font-weight="bold" text-anchor="middle" fill="#111" stroke="#111" stroke-width="0.12">FDR q: 0.0</text>
<rect x="57.70" y="517.20" width="58.30" height="14.20" fill="#d5edf7"/>
<text x="86.8" y="524.2" font-size="5.25" font-weight="bold" text-anchor="middle" fill="#222" stroke="#222" stroke-width="0.12">Hallmarks: mTORC1</text>
<text x="86.8" y="529.8" font-size="5.25" font-weight="bold" text-anchor="middle" fill="#222" stroke="#222" stroke-width="0.12">signaling</text>
<rect x="57.7" y="531.4" width="58.3" height="56.8" fill="#fff" stroke="#e2e2e2" stroke-width="0.5"/>
<path d="M58.1 546.8 L58.3 546.1 L58.6 545.1 L58.9 544.0 L59.3 542.7 L59.7 541.4 L60.1 540.1 L60.5 539.0 L60.9 538.0 L61.4 537.2 L61.9 536.5 L62.4 535.9 L62.9 535.3 L63.4 534.8 L63.9 534.3 L64.4 533.9 L64.9 533.5 L65.4 533.2 L65.9 532.9 L66.3 532.6 L66.8 532.5 L67.3 532.3 L67.8 532.2 L68.3 532.2 L68.9 532.3 L69.6 532.4 L70.3 532.7 L71.0 533.0 L71.8 533.4 L72.6 533.8 L73.4 534.2 L74.3 534.6 L75.2 535.0 L76.1 535.3 L77.1 535.7 L78.2 536.0 L79.3 536.4 L80.4 536.7 L81.5 537.1 L82.6 537.5 L83.7 538.0 L84.8 538.5 L85.8 539.1 L86.9 539.7 L88.0 540.3 L89.0 541.0 L90.1 541.7 L91.2 542.3 L92.2 543.0 L93.3 543.7 L94.4 544.3 L95.4 545.0 L96.5 545.7 L97.6 546.4 L98.6 547.1 L99.7 547.8 L100.8 548.5 L101.9 549.2 L103.0 550.0 L104.1 550.7 L105.2 551.5 L106.3 552.2 L107.4 552.9 L108.4 553.5 L109.3 554.0 L110.2 554.4 L111.1 554.8 L111.9 555.1 L112.7 555.3 L113.4 555.6 L114.0 555.7 L114.6 555.9 L115.0 556.0" stroke="#a9c760" stroke-width="0.8" fill="none"/>
<text x="56.7" y="540.5" font-size="5.0" font-weight="bold" text-anchor="end" fill="#222" stroke="#222" stroke-width="0.12">0.4</text>
<text x="56.7" y="549.3" font-size="5.0" font-weight="bold" text-anchor="end" fill="#222" stroke="#222" stroke-width="0.12">0.2</text>
<text x="56.7" y="558.1" font-size="5.0" font-weight="bold" text-anchor="end" fill="#222" stroke="#222" stroke-width="0.12">0</text>
<rect x="58.40" y="558.6" width="0.5" height="8.4" fill="#000" fill-opacity="0.43"/>
<rect x="58.73" y="558.6" width="0.5" height="8.4" fill="#000" fill-opacity="0.47"/>
<rect x="59.06" y="558.6" width="0.5" height="8.4" fill="#000" fill-opacity="0.69"/>
<rect x="59.72" y="558.6" width="0.5" height="8.4" fill="#000" fill-opacity="1.00"/>
<rect x="60.05" y="558.6" width="0.5" height="8.4" fill="#000" fill-opacity="0.90"/>
<rect x="60.38" y="558.6" width="0.5" height="8.4" fill="#000" fill-opacity="0.53"/>
<rect x="60.71" y="558.6" width="0.5" height="8.4" fill="#000" fill-opacity="0.57"/>
<rect x="62.36" y="558.6" width="0.5" height="8.4" fill="#000" fill-opacity="0.57"/>
<rect x="64.01" y="558.6" width="0.5" height="8.4" fill="#000" fill-opacity="0.87"/>
<rect x="64.34" y="558.6" width="0.5" height="8.4" fill="#000" fill-opacity="0.82"/>
<rect x="64.67" y="558.6" width="0.5" height="8.4" fill="#000" fill-opacity="0.81"/>
<rect x="65.00" y="558.6" width="0.5" height="8.4" fill="#000" fill-opacity="1.00"/>
<rect x="65.33" y="558.6" width="0.5" height="8.4" fill="#000" fill-opacity="0.89"/>
<rect x="65.66" y="558.6" width="0.5" height="8.4" fill="#000" fill-opacity="1.00"/>
<rect x="65.99" y="558.6" width="0.5" height="8.4" fill="#000" fill-opacity="1.00"/>
<rect x="66.65" y="558.6" width="0.5" height="8.4" fill="#000" fill-opacity="0.66"/>
<rect x="67.31" y="558.6" width="0.5" height="8.4" fill="#000" fill-opacity="0.46"/>
<rect x="67.64" y="558.6" width="0.5" height="8.4" fill="#000" fill-opacity="0.88"/>
<rect x="67.97" y="558.6" width="0.5" height="8.4" fill="#000" fill-opacity="0.38"/>
<rect x="68.63" y="558.6" width="0.5" height="8.4" fill="#000" fill-opacity="0.78"/>
<rect x="68.96" y="558.6" width="0.5" height="8.4" fill="#000" fill-opacity="0.64"/>
<rect x="69.62" y="558.6" width="0.5" height="8.4" fill="#000" fill-opacity="0.74"/>
<rect x="69.95" y="558.6" width="0.5" height="8.4" fill="#000" fill-opacity="0.94"/>
<rect x="70.28" y="558.6" width="0.5" height="8.4" fill="#000" fill-opacity="0.67"/>
<rect x="70.94" y="558.6" width="0.5" height="8.4" fill="#000" fill-opacity="0.79"/>
<rect x="71.60" y="558.6" width="0.5" height="8.4" fill="#000" fill-opacity="0.39"/>
<rect x="71.93" y="558.6" width="0.5" height="8.4" fill="#000" fill-opacity="0.83"/>
<rect x="72.59" y="558.6" width="0.5" height="8.4" fill="#000" fill-opacity="0.56"/>
<rect x="72.92" y="558.6" width="0.5" height="8.4" fill="#000" fill-opacity="0.66"/>
<rect x="73.25" y="558.6" width="0.5" height="8.4" fill="#000" fill-opacity="0.87"/>
<rect x="74.24" y="558.6" width="0.5" height="8.4" fill="#000" fill-opacity="1.00"/>
<rect x="74.57" y="558.6" width="0.5" height="8.4" fill="#000" fill-opacity="0.60"/>
<rect x="75.56" y="558.6" width="0.5" height="8.4" fill="#000" fill-opacity="1.00"/>
<rect x="76.55" y="558.6" width="0.5" height="8.4" fill="#000" fill-opacity="0.47"/>
<rect x="77.21" y="558.6" width="0.5" height="8.4" fill="#000" fill-opacity="0.58"/>
<rect x="77.87" y="558.6" width="0.5" height="8.4" fill="#000" fill-opacity="0.36"/>
<rect x="78.20" y="558.6" width="0.5" height="8.4" fill="#000" fill-opacity="0.48"/>
<rect x="78.86" y="558.6" width="0.5" height="8.4" fill="#000" fill-opacity="0.59"/>
<rect x="79.19" y="558.6" width="0.5" height="8.4" fill="#000" fill-opacity="1.00"/>
<rect x="79.52" y="558.6" width="0.5" height="8.4" fill="#000" fill-opacity="0.52"/>
<rect x="79.85" y="558.6" width="0.5" height="8.4" fill="#000" fill-opacity="0.39"/>
<rect x="80.18" y="558.6" width="0.5" height="8.4" fill="#000" fill-opacity="0.84"/>
<rect x="80.51" y="558.6" width="0.5" height="8.4" fill="#000" fill-opacity="0.38"/>
<rect x="81.17" y="558.6" width="0.5" height="8.4" fill="#000" fill-opacity="0.92"/>
<rect x="81.50" y="558.6" width="0.5" height="8.4" fill="#000" fill-opacity="0.65"/>
<rect x="82.82" y="558.6" width="0.5" height="8.4" fill="#000" fill-opacity="0.51"/>
<rect x="83.15" y="558.6" width="0.5" height="8.4" fill="#000" fill-opacity="0.38"/>
<rect x="83.48" y="558.6" width="0.5" height="8.4" fill="#000" fill-opacity="0.54"/>
<rect x="84.47" y="558.6" width="0.5" height="8.4" fill="#000" fill-opacity="0.37"/>
<rect x="84.80" y="558.6" width="0.5" height="8.4" fill="#000" fill-opacity="0.52"/>
<rect x="85.13" y="558.6" width="0.5" height="8.4" fill="#000" fill-opacity="0.50"/>
<rect x="85.79" y="558.6" width="0.5" height="8.4" fill="#000" fill-opacity="0.38"/>
<rect x="88.76" y="558.6" width="0.5" height="8.4" fill="#000" fill-opacity="0.42"/>
<rect x="89.09" y="558.6" width="0.5" height="8.4" fill="#000" fill-opacity="0.94"/>
<rect x="90.08" y="558.6" width="0.5" height="8.4" fill="#000" fill-opacity="0.71"/>
<rect x="92.39" y="558.6" width="0.5" height="8.4" fill="#000" fill-opacity="0.91"/>
<rect x="93.05" y="558.6" width="0.5" height="8.4" fill="#000" fill-opacity="0.98"/>
<rect x="94.04" y="558.6" width="0.5" height="8.4" fill="#000" fill-opacity="0.89"/>
<rect x="94.37" y="558.6" width="0.5" height="8.4" fill="#000" fill-opacity="0.90"/>
<rect x="95.03" y="558.6" width="0.5" height="8.4" fill="#000" fill-opacity="0.43"/>
<rect x="96.68" y="558.6" width="0.5" height="8.4" fill="#000" fill-opacity="0.35"/>
<rect x="97.34" y="558.6" width="0.5" height="8.4" fill="#000" fill-opacity="0.86"/>
<rect x="97.67" y="558.6" width="0.5" height="8.4" fill="#000" fill-opacity="0.83"/>
<rect x="99.32" y="558.6" width="0.5" height="8.4" fill="#000" fill-opacity="0.68"/>
<rect x="101.30" y="558.6" width="0.5" height="8.4" fill="#000" fill-opacity="0.37"/>
<rect x="102.95" y="558.6" width="0.5" height="8.4" fill="#000" fill-opacity="0.54"/>
<rect x="103.94" y="558.6" width="0.5" height="8.4" fill="#000" fill-opacity="0.73"/>
<rect x="104.60" y="558.6" width="0.5" height="8.4" fill="#000" fill-opacity="0.57"/>
<rect x="106.91" y="558.6" width="0.5" height="8.4" fill="#000" fill-opacity="0.40"/>
<rect x="109.22" y="558.6" width="0.5" height="8.4" fill="#000" fill-opacity="0.69"/>
<rect x="111.20" y="558.6" width="0.5" height="8.4" fill="#000" fill-opacity="0.71"/>
<rect x="111.53" y="558.6" width="0.5" height="8.4" fill="#000" fill-opacity="0.41"/>
<rect x="113.51" y="558.6" width="0.5" height="8.4" fill="#000" fill-opacity="0.47"/>
<rect x="58.1" y="566.7" width="56.7" height="1.9" fill="url(#rb)"/>
<text x="61.0" y="574.0" font-size="5.5" font-weight="bold" text-anchor="start" fill="#d3202e" stroke="#d3202e" stroke-width="0.12">Ang II</text>
<path d="M58.1 576.1 Q61.7 577.3 67.7 577.6 L108.0 578.7 Q113.0 579.1 114.8 580.9 L114.8 577.6 Z" fill="#dadada" stroke="#a0a0a0" stroke-width="0.4"/>
<g transform="translate(54.1,577.8) rotate(-90)">
<text x="0.0" y="0.0" font-size="4.6" font-weight="bold" text-anchor="middle" fill="#222" stroke="#222" stroke-width="0.12">-2 0 2</text>
</g>
<text x="90.5" y="585.6" font-size="5.5" font-weight="bold" text-anchor="start" fill="#3c4aa0" stroke="#3c4aa0" stroke-width="0.12">Saline</text>
<g transform="translate(40.4,543.6) rotate(-90)">
<text x="0.0" y="0.0" font-size="5.75" font-weight="bold" text-anchor="middle" fill="#222" stroke="#222" stroke-width="0.12" textLength="27.5" lengthAdjust="spacingAndGlyphs">Enrichment</text>
</g>
<g transform="translate(46.4,543.6) rotate(-90)">
<text x="0.0" y="0.0" font-size="5.93" font-weight="bold" text-anchor="middle" fill="#222" stroke="#222" stroke-width="0.12" textLength="25.5" lengthAdjust="spacingAndGlyphs">score (ES)</text>
</g>
<g transform="translate(40.4,576.5) rotate(-90)">
<text x="0.0" y="0.0" font-size="5.39" font-weight="bold" text-anchor="middle" fill="#222" stroke="#222" stroke-width="0.12" textLength="25.0" lengthAdjust="spacingAndGlyphs">Ranked list</text>
</g>
<g transform="translate(46.4,576.5) rotate(-90)">
<text x="0.0" y="0.0" font-size="4.97" font-weight="bold" text-anchor="middle" fill="#222" stroke="#222" stroke-width="0.12" textLength="30.0" lengthAdjust="spacingAndGlyphs">(Signal2Noise)</text>
</g>
<rect x="58.0" y="588.4" width="58.0" height="21.5" rx="10.5" ry="10.5" fill="#e8e8f0"/>
<text x="86.8" y="594.5" font-size="5.3" font-weight="bold" text-anchor="middle" fill="#111" stroke="#111" stroke-width="0.12">NES: 2.9244082</text>
<text x="86.8" y="601.0" font-size="5.3" font-weight="bold" text-anchor="middle" fill="#111" stroke="#111" stroke-width="0.12">NOM p: 0.0</text>
<text x="86.8" y="607.3" font-size="5.3" font-weight="bold" text-anchor="middle" fill="#111" stroke="#111" stroke-width="0.12">FDR q: 0.0</text>
<rect x="148.20" y="517.20" width="56.30" height="14.20" fill="#d5edf7"/>
<text x="176.3" y="524.2" font-size="5.25" font-weight="bold" text-anchor="middle" fill="#222" stroke="#222" stroke-width="0.12">Hallmarks: Unfolded</text>
<text x="176.3" y="529.8" font-size="5.25" font-weight="bold" text-anchor="middle" fill="#222" stroke="#222" stroke-width="0.12">protein response</text>
<rect x="148.2" y="531.4" width="56.3" height="58.4" fill="#fff" stroke="#e2e2e2" stroke-width="0.5"/>
<path d="M148.6 554.0 L148.8 553.1 L149.1 551.9 L149.4 550.5 L149.7 548.9 L150.1 547.3 L150.5 545.7 L150.9 544.3 L151.3 543.0 L151.8 541.9 L152.2 540.9 L152.7 539.9 L153.2 538.9 L153.7 538.1 L154.2 537.3 L154.7 536.6 L155.2 536.0 L155.6 535.5 L156.0 535.1 L156.4 534.7 L156.7 534.5 L157.1 534.3 L157.5 534.1 L158.0 534.0 L158.5 534.0 L159.1 534.0 L159.7 534.2 L160.5 534.4 L161.2 534.7 L161.9 534.9 L162.7 535.2 L163.3 535.4 L164.0 535.5 L164.5 535.5 L164.9 535.4 L165.3 535.2 L165.7 535.0 L166.1 534.9 L166.6 534.8 L167.1 534.8 L167.8 535.0 L168.6 535.3 L169.5 535.8 L170.5 536.4 L171.5 537.0 L172.6 537.7 L173.7 538.5 L174.9 539.2 L176.1 540.0 L177.3 540.8 L178.7 541.6 L180.1 542.5 L181.5 543.5 L183.0 544.4 L184.4 545.3 L185.8 546.2 L187.0 547.0 L188.2 547.8 L189.3 548.5 L190.3 549.2 L191.3 549.9 L192.3 550.5 L193.3 551.2 L194.3 551.8 L195.3 552.5 L196.4 553.2 L197.5 553.9 L198.7 554.7 L199.9 555.4 L201.0 556.1 L202.0 556.8 L202.9 557.3 L203.5 557.7" stroke="#a9c760" stroke-width="0.8" fill="none"/>
<text x="147.2" y="536.1" font-size="5.0" font-weight="bold" text-anchor="end" fill="#222" stroke="#222" stroke-width="0.12">0.6</text>
<text x="147.2" y="544.2" font-size="5.0" font-weight="bold" text-anchor="end" fill="#222" stroke="#222" stroke-width="0.12">0.4</text>
<text x="147.2" y="551.9" font-size="5.0" font-weight="bold" text-anchor="end" fill="#222" stroke="#222" stroke-width="0.12">0.2</text>
<text x="147.2" y="559.6" font-size="5.0" font-weight="bold" text-anchor="end" fill="#222" stroke="#222" stroke-width="0.12">0</text>
<rect x="148.90" y="560.2" width="0.5" height="8.4" fill="#000" fill-opacity="0.95"/>
<rect x="150.55" y="560.2" width="0.5" height="8.4" fill="#000" fill-opacity="0.71"/>
<rect x="151.87" y="560.2" width="0.5" height="8.4" fill="#000" fill-opacity="0.59"/>
<rect x="152.20" y="560.2" width="0.5" height="8.4" fill="#000" fill-opacity="0.61"/>
<rect x="152.86" y="560.2" width="0.5" height="8.4" fill="#000" fill-opacity="0.45"/>
<rect x="153.19" y="560.2" width="0.5" height="8.4" fill="#000" fill-opacity="0.82"/>
<rect x="153.85" y="560.2" width="0.5" height="8.4" fill="#000" fill-opacity="0.85"/>
<rect x="154.18" y="560.2" width="0.5" height="8.4" fill="#000" fill-opacity="0.77"/>
<rect x="154.51" y="560.2" width="0.5" height="8.4" fill="#000" fill-opacity="0.35"/>
<rect x="155.17" y="560.2" width="0.5" height="8.4" fill="#000" fill-opacity="0.52"/>
<rect x="156.16" y="560.2" width="0.5" height="8.4" fill="#000" fill-opacity="1.00"/>
<rect x="157.15" y="560.2" width="0.5" height="8.4" fill="#000" fill-opacity="0.87"/>
<rect x="159.13" y="560.2" width="0.5" height="8.4" fill="#000" fill-opacity="0.43"/>
<rect x="159.46" y="560.2" width="0.5" height="8.4" fill="#000" fill-opacity="0.52"/>
<rect x="160.12" y="560.2" width="0.5" height="8.4" fill="#000" fill-opacity="0.81"/>
<rect x="160.45" y="560.2" width="0.5" height="8.4" fill="#000" fill-opacity="0.57"/>
<rect x="161.11" y="560.2" width="0.5" height="8.4" fill="#000" fill-opacity="0.59"/>
<rect x="161.44" y="560.2" width="0.5" height="8.4" fill="#000" fill-opacity="0.87"/>
<rect x="161.77" y="560.2" width="0.5" height="8.4" fill="#000" fill-opacity="1.00"/>
<rect x="162.10" y="560.2" width="0.5" height="8.4" fill="#000" fill-opacity="0.84"/>
<rect x="162.76" y="560.2" width="0.5" height="8.4" fill="#000" fill-opacity="0.78"/>
<rect x="163.75" y="560.2" width="0.5" height="8.4" fill="#000" fill-opacity="0.37"/>
<rect x="164.08" y="560.2" width="0.5" height="8.4" fill="#000" fill-opacity="0.76"/>
<rect x="164.41" y="560.2" width="0.5" height="8.4" fill="#000" fill-opacity="0.68"/>
<rect x="165.40" y="560.2" width="0.5" height="8.4" fill="#000" fill-opacity="0.55"/>
<rect x="166.39" y="560.2" width="0.5" height="8.4" fill="#000" fill-opacity="0.86"/>
<rect x="167.38" y="560.2" width="0.5" height="8.4" fill="#000" fill-opacity="0.97"/>
<rect x="167.71" y="560.2" width="0.5" height="8.4" fill="#000" fill-opacity="0.56"/>
<rect x="170.35" y="560.2" width="0.5" height="8.4" fill="#000" fill-opacity="0.38"/>
<rect x="170.68" y="560.2" width="0.5" height="8.4" fill="#000" fill-opacity="0.67"/>
<rect x="171.34" y="560.2" width="0.5" height="8.4" fill="#000" fill-opacity="0.38"/>
<rect x="172.33" y="560.2" width="0.5" height="8.4" fill="#000" fill-opacity="0.50"/>
<rect x="173.98" y="560.2" width="0.5" height="8.4" fill="#000" fill-opacity="0.81"/>
<rect x="174.31" y="560.2" width="0.5" height="8.4" fill="#000" fill-opacity="0.58"/>
<rect x="174.97" y="560.2" width="0.5" height="8.4" fill="#000" fill-opacity="0.64"/>
<rect x="176.29" y="560.2" width="0.5" height="8.4" fill="#000" fill-opacity="0.54"/>
<rect x="176.62" y="560.2" width="0.5" height="8.4" fill="#000" fill-opacity="0.74"/>
<rect x="182.89" y="560.2" width="0.5" height="8.4" fill="#000" fill-opacity="0.48"/>
<rect x="189.16" y="560.2" width="0.5" height="8.4" fill="#000" fill-opacity="0.59"/>
<rect x="200.71" y="560.2" width="0.5" height="8.4" fill="#000" fill-opacity="0.41"/>
<rect x="202.69" y="560.2" width="0.5" height="8.4" fill="#000" fill-opacity="0.50"/>
<rect x="148.6" y="568.3" width="54.7" height="1.9" fill="url(#rb)"/>
<text x="151.5" y="575.6" font-size="5.5" font-weight="bold" text-anchor="start" fill="#d3202e" stroke="#d3202e" stroke-width="0.12">Ang II</text>
<path d="M148.6 577.7 Q152.2 578.9 158.2 579.2 L196.5 580.3 Q201.5 580.7 203.3 582.5 L203.3 579.2 Z" fill="#dadada" stroke="#a0a0a0" stroke-width="0.4"/>
<g transform="translate(144.6,579.4) rotate(-90)">
<text x="0.0" y="0.0" font-size="4.6" font-weight="bold" text-anchor="middle" fill="#222" stroke="#222" stroke-width="0.12">-2 0 2</text>
</g>
<text x="179.0" y="587.2" font-size="5.5" font-weight="bold" text-anchor="start" fill="#3c4aa0" stroke="#3c4aa0" stroke-width="0.12">Saline</text>
<g transform="translate(130.9,544.4) rotate(-90)">
<text x="0.0" y="0.0" font-size="5.75" font-weight="bold" text-anchor="middle" fill="#222" stroke="#222" stroke-width="0.12" textLength="27.5" lengthAdjust="spacingAndGlyphs">Enrichment</text>
</g>
<g transform="translate(136.9,544.4) rotate(-90)">
<text x="0.0" y="0.0" font-size="5.93" font-weight="bold" text-anchor="middle" fill="#222" stroke="#222" stroke-width="0.12" textLength="25.5" lengthAdjust="spacingAndGlyphs">score (ES)</text>
</g>
<g transform="translate(130.9,578.6) rotate(-90)">
<text x="0.0" y="0.0" font-size="5.5" font-weight="bold" text-anchor="middle" fill="#222" stroke="#222" stroke-width="0.12" textLength="25.5" lengthAdjust="spacingAndGlyphs">Ranked list</text>
</g>
<g transform="translate(136.9,578.6) rotate(-90)">
<text x="0.0" y="0.0" font-size="5.05" font-weight="bold" text-anchor="middle" fill="#222" stroke="#222" stroke-width="0.12" textLength="30.5" lengthAdjust="spacingAndGlyphs">(Signal2Noise)</text>
</g>
<rect x="148.5" y="590.0" width="56.0" height="21.5" rx="10.5" ry="10.5" fill="#e8e8f0"/>
<text x="176.3" y="596.1" font-size="5.3" font-weight="bold" text-anchor="middle" fill="#111" stroke="#111" stroke-width="0.12">NES: 2.78683</text>
<text x="176.3" y="602.6" font-size="5.3" font-weight="bold" text-anchor="middle" fill="#111" stroke="#111" stroke-width="0.12">NOM p: 0.0</text>
<text x="176.3" y="608.9" font-size="5.3" font-weight="bold" text-anchor="middle" fill="#111" stroke="#111" stroke-width="0.12">FDR q: 0.0</text>
<rect x="242.20" y="517.20" width="55.80" height="14.20" fill="#d5edf7"/>
<text x="270.1" y="524.2" font-size="5.25" font-weight="bold" text-anchor="middle" fill="#222" stroke="#222" stroke-width="0.12">Wikipathways:</text>
<text x="270.1" y="529.8" font-size="5.25" font-weight="bold" text-anchor="middle" fill="#222" stroke="#222" stroke-width="0.12">Lung fibrosis</text>
<rect x="242.2" y="531.4" width="55.8" height="58.9" fill="#fff" stroke="#e2e2e2" stroke-width="0.5"/>
<path d="M242.6 540.5 L242.8 540.1 L243.1 539.5 L243.4 538.8 L243.7 538.1 L244.1 537.3 L244.5 536.6 L244.9 536.0 L245.3 535.5 L245.7 535.1 L246.2 534.8 L246.6 534.6 L247.1 534.4 L247.6 534.2 L248.1 534.1 L248.6 534.0 L249.1 534.0 L249.6 534.0 L250.1 534.0 L250.6 534.0 L251.0 534.0 L251.5 534.1 L252.1 534.3 L252.8 534.6 L253.5 535.0 L254.3 535.5 L255.3 536.1 L256.3 536.8 L257.3 537.6 L258.4 538.5 L259.5 539.3 L260.6 540.2 L261.6 541.0 L262.7 541.8 L263.7 542.7 L264.8 543.6 L265.8 544.5 L266.9 545.4 L267.9 546.3 L268.9 547.2 L269.8 548.0 L270.7 548.8 L271.6 549.6 L272.4 550.3 L273.2 551.0 L274.0 551.7 L274.8 552.4 L275.6 553.0 L276.3 553.5 L277.0 554.0 L277.7 554.4 L278.4 554.8 L279.0 555.1 L279.7 555.4 L280.3 555.6 L281.0 555.8 L281.8 556.0 L282.6 556.1 L283.5 556.2 L284.4 556.2 L285.4 556.2 L286.4 556.2 L287.3 556.1 L288.1 556.1 L288.8 556.0 L289.5 555.9 L290.0 555.9 L290.5 555.8 L290.9 555.7 L291.3 555.6 L291.7 555.5 L292.2 555.3 L292.6 555.0 L293.2 554.6 L293.8 554.2 L294.4 553.7 L295.1 553.1 L295.7 552.6 L296.2 552.1 L296.7 551.7 L297.0 551.4" stroke="#a9c760" stroke-width="0.8" fill="none"/>
<text x="241.2" y="536.1" font-size="5.0" font-weight="bold" text-anchor="end" fill="#222" stroke="#222" stroke-width="0.12">0.3</text>
<text x="241.2" y="541.5" font-size="5.0" font-weight="bold" text-anchor="end" fill="#222" stroke="#222" stroke-width="0.12">0.2</text>
<text x="241.2" y="546.9" font-size="5.0" font-weight="bold" text-anchor="end" fill="#222" stroke="#222" stroke-width="0.12">0.1</text>
<text x="241.2" y="552.3" font-size="5.0" font-weight="bold" text-anchor="end" fill="#222" stroke="#222" stroke-width="0.12">0</text>
<text x="241.2" y="558.3" font-size="5.0" font-weight="bold" text-anchor="end" fill="#222" stroke="#222" stroke-width="0.12">-0.1</text>
<rect x="243.89" y="560.7" width="0.5" height="8.4" fill="#000" fill-opacity="0.35"/>
<rect x="244.55" y="560.7" width="0.5" height="8.4" fill="#000" fill-opacity="0.85"/>
<rect x="244.88" y="560.7" width="0.5" height="8.4" fill="#000" fill-opacity="0.87"/>
<rect x="245.21" y="560.7" width="0.5" height="8.4" fill="#000" fill-opacity="0.89"/>
<rect x="245.87" y="560.7" width="0.5" height="8.4" fill="#000" fill-opacity="0.71"/>
<rect x="246.53" y="560.7" width="0.5" height="8.4" fill="#000" fill-opacity="0.71"/>
<rect x="247.19" y="560.7" width="0.5" height="8.4" fill="#000" fill-opacity="0.85"/>
<rect x="248.18" y="560.7" width="0.5" height="8.4" fill="#000" fill-opacity="0.40"/>
<rect x="249.50" y="560.7" width="0.5" height="8.4" fill="#000" fill-opacity="0.44"/>
<rect x="254.45" y="560.7" width="0.5" height="8.4" fill="#000" fill-opacity="0.56"/>
<rect x="255.11" y="560.7" width="0.5" height="8.4" fill="#000" fill-opacity="0.72"/>
<rect x="255.44" y="560.7" width="0.5" height="8.4" fill="#000" fill-opacity="0.92"/>
<rect x="256.10" y="560.7" width="0.5" height="8.4" fill="#000" fill-opacity="0.79"/>
<rect x="256.43" y="560.7" width="0.5" height="8.4" fill="#000" fill-opacity="0.48"/>
<rect x="256.76" y="560.7" width="0.5" height="8.4" fill="#000" fill-opacity="0.44"/>
<rect x="257.09" y="560.7" width="0.5" height="8.4" fill="#000" fill-opacity="0.93"/>
<rect x="257.75" y="560.7" width="0.5" height="8.4" fill="#000" fill-opacity="0.86"/>
<rect x="258.08" y="560.7" width="0.5" height="8.4" fill="#000" fill-opacity="0.56"/>
<rect x="259.07" y="560.7" width="0.5" height="8.4" fill="#000" fill-opacity="0.57"/>
<rect x="259.73" y="560.7" width="0.5" height="8.4" fill="#000" fill-opacity="0.90"/>
<rect x="260.06" y="560.7" width="0.5" height="8.4" fill="#000" fill-opacity="0.57"/>
<rect x="265.34" y="560.7" width="0.5" height="8.4" fill="#000" fill-opacity="0.77"/>
<rect x="265.67" y="560.7" width="0.5" height="8.4" fill="#000" fill-opacity="0.63"/>
<rect x="266.33" y="560.7" width="0.5" height="8.4" fill="#000" fill-opacity="0.36"/>
<rect x="266.66" y="560.7" width="0.5" height="8.4" fill="#000" fill-opacity="0.73"/>
<rect x="266.99" y="560.7" width="0.5" height="8.4" fill="#000" fill-opacity="0.52"/>
<rect x="267.32" y="560.7" width="0.5" height="8.4" fill="#000" fill-opacity="0.96"/>
<rect x="267.65" y="560.7" width="0.5" height="8.4" fill="#000" fill-opacity="0.63"/>
<rect x="268.64" y="560.7" width="0.5" height="8.4" fill="#000" fill-opacity="0.67"/>
<rect x="268.97" y="560.7" width="0.5" height="8.4" fill="#000" fill-opacity="0.44"/>
<rect x="269.30" y="560.7" width="0.5" height="8.4" fill="#000" fill-opacity="0.55"/>
<rect x="269.96" y="560.7" width="0.5" height="8.4" fill="#000" fill-opacity="0.76"/>
<rect x="273.59" y="560.7" width="0.5" height="8.4" fill="#000" fill-opacity="0.54"/>
<rect x="273.92" y="560.7" width="0.5" height="8.4" fill="#000" fill-opacity="0.36"/>
<rect x="274.58" y="560.7" width="0.5" height="8.4" fill="#000" fill-opacity="0.67"/>
<rect x="275.90" y="560.7" width="0.5" height="8.4" fill="#000" fill-opacity="0.45"/>
<rect x="278.54" y="560.7" width="0.5" height="8.4" fill="#000" fill-opacity="0.59"/>
<rect x="278.87" y="560.7" width="0.5" height="8.4" fill="#000" fill-opacity="0.77"/>
<rect x="279.53" y="560.7" width="0.5" height="8.4" fill="#000" fill-opacity="0.77"/>
<rect x="279.86" y="560.7" width="0.5" height="8.4" fill="#000" fill-opacity="0.42"/>
<rect x="280.52" y="560.7" width="0.5" height="8.4" fill="#000" fill-opacity="0.94"/>
<rect x="281.51" y="560.7" width="0.5" height="8.4" fill="#000" fill-opacity="0.86"/>
<rect x="281.84" y="560.7" width="0.5" height="8.4" fill="#000" fill-opacity="0.71"/>
<rect x="284.15" y="560.7" width="0.5" height="8.4" fill="#000" fill-opacity="0.78"/>
<rect x="286.46" y="560.7" width="0.5" height="8.4" fill="#000" fill-opacity="0.72"/>
<rect x="287.78" y="560.7" width="0.5" height="8.4" fill="#000" fill-opacity="0.81"/>
<rect x="288.11" y="560.7" width="0.5" height="8.4" fill="#000" fill-opacity="0.89"/>
<rect x="289.10" y="560.7" width="0.5" height="8.4" fill="#000" fill-opacity="0.40"/>
<rect x="290.42" y="560.7" width="0.5" height="8.4" fill="#000" fill-opacity="0.47"/>
<rect x="290.75" y="560.7" width="0.5" height="8.4" fill="#000" fill-opacity="0.39"/>
<rect x="292.40" y="560.7" width="0.5" height="8.4" fill="#000" fill-opacity="0.40"/>
<rect x="293.06" y="560.7" width="0.5" height="8.4" fill="#000" fill-opacity="0.68"/>
<rect x="294.05" y="560.7" width="0.5" height="8.4" fill="#000" fill-opacity="0.39"/>
<rect x="294.71" y="560.7" width="0.5" height="8.4" fill="#000" fill-opacity="0.61"/>
<rect x="295.04" y="560.7" width="0.5" height="8.4" fill="#000" fill-opacity="0.48"/>
<rect x="295.37" y="560.7" width="0.5" height="8.4" fill="#000" fill-opacity="0.61"/>
<rect x="242.6" y="568.8" width="54.2" height="1.9" fill="url(#rb)"/>
<text x="245.5" y="576.1" font-size="5.5" font-weight="bold" text-anchor="start" fill="#d3202e" stroke="#d3202e" stroke-width="0.12">Ang II</text>
<path d="M242.6 578.2 Q246.2 579.4 252.2 579.7 L290.0 580.8 Q295.0 581.2 296.8 583.0 L296.8 579.7 Z" fill="#dadada" stroke="#a0a0a0" stroke-width="0.4"/>
<g transform="translate(238.6,579.9) rotate(-90)">
<text x="0.0" y="0.0" font-size="4.6" font-weight="bold" text-anchor="middle" fill="#222" stroke="#222" stroke-width="0.12">-2 0 2</text>
</g>
<text x="272.5" y="587.7" font-size="5.5" font-weight="bold" text-anchor="start" fill="#3c4aa0" stroke="#3c4aa0" stroke-width="0.12">Saline</text>
<g transform="translate(224.9,544.7) rotate(-90)">
<text x="0.0" y="0.0" font-size="5.75" font-weight="bold" text-anchor="middle" fill="#222" stroke="#222" stroke-width="0.12" textLength="27.5" lengthAdjust="spacingAndGlyphs">Enrichment</text>
</g>
<g transform="translate(230.9,544.7) rotate(-90)">
<text x="0.0" y="0.0" font-size="5.93" font-weight="bold" text-anchor="middle" fill="#222" stroke="#222" stroke-width="0.12" textLength="25.5" lengthAdjust="spacingAndGlyphs">score (ES)</text>
</g>
<g transform="translate(224.9,579.1) rotate(-90)">
<text x="0.0" y="0.0" font-size="5.5" font-weight="bold" text-anchor="middle" fill="#222" stroke="#222" stroke-width="0.12" textLength="25.5" lengthAdjust="spacingAndGlyphs">Ranked list</text>
</g>
<g transform="translate(230.9,579.1) rotate(-90)">
<text x="0.0" y="0.0" font-size="5.05" font-weight="bold" text-anchor="middle" fill="#222" stroke="#222" stroke-width="0.12" textLength="30.5" lengthAdjust="spacingAndGlyphs">(Signal2Noise)</text>
</g>
<rect x="242.5" y="590.5" width="55.5" height="21.5" rx="10.5" ry="10.5" fill="#e8e8f0"/>
<text x="270.1" y="596.6" font-size="5.3" font-weight="bold" text-anchor="middle" fill="#111" stroke="#111" stroke-width="0.12">NES: 1.3863155</text>
<text x="270.1" y="603.1" font-size="5.3" font-weight="bold" text-anchor="middle" fill="#111" stroke="#111" stroke-width="0.12">NOM p: 0.0724299</text>
<text x="270.1" y="609.4" font-size="5.3" font-weight="bold" text-anchor="middle" fill="#111" stroke="#111" stroke-width="0.12">FDR q: 0.17499731</text>
<text x="341.5" y="390.4" font-size="9.5" font-weight="bold" text-anchor="start" fill="#111" stroke="#111" stroke-width="0.12">F</text>
<text x="409.5" y="398.5" font-size="6.17" font-weight="bold" text-anchor="middle" fill="#111" stroke="#111" stroke-width="0.12" textLength="77.6" lengthAdjust="spacingAndGlyphs">TFBS in upregulated genes</text>
<text x="411.2" y="406.9" font-size="6.25" font-weight="bold" text-anchor="middle" fill="#111" stroke="#111" stroke-width="0.12" textLength="71.7" lengthAdjust="spacingAndGlyphs">703 promoters (-950/+50)</text>
<line x1="378.9" y1="420.3" x2="378.9" y2="582.6" stroke="#555" stroke-width="0.9"/>
<line x1="378.9" y1="587.4" x2="378.9" y2="607.0" stroke="#555" stroke-width="0.9"/>
<line x1="378.5" y1="606.9" x2="489.0" y2="606.9" stroke="#666" stroke-width="0.9"/>
<line x1="376.4" y1="420.4" x2="378.9" y2="420.4" stroke="#555" stroke-width="0.8"/>
<text x="372.4" y="422.7" font-size="6.4" font-weight="bold" text-anchor="end" fill="#111" stroke="#111" stroke-width="0.12">13</text>
<line x1="376.4" y1="460.9" x2="378.9" y2="460.9" stroke="#555" stroke-width="0.8"/>
<text x="372.4" y="463.2" font-size="6.4" font-weight="bold" text-anchor="end" fill="#111" stroke="#111" stroke-width="0.12">10</text>
<line x1="376.4" y1="501.3" x2="378.9" y2="501.3" stroke="#555" stroke-width="0.8"/>
<text x="372.4" y="503.6" font-size="6.4" font-weight="bold" text-anchor="end" fill="#111" stroke="#111" stroke-width="0.12">7</text>
<line x1="376.4" y1="541.8" x2="378.9" y2="541.8" stroke="#555" stroke-width="0.8"/>
<text x="372.4" y="544.1" font-size="6.4" font-weight="bold" text-anchor="end" fill="#111" stroke="#111" stroke-width="0.12">4</text>
<line x1="376.4" y1="582.2" x2="378.9" y2="582.2" stroke="#555" stroke-width="0.8"/>
<text x="372.4" y="584.5" font-size="6.4" font-weight="bold" text-anchor="end" fill="#111" stroke="#111" stroke-width="0.12">1</text>
<line x1="376.4" y1="588.3" x2="378.9" y2="588.3" stroke="#555" stroke-width="0.8"/>
<text x="372.4" y="590.6" font-size="6.4" font-weight="bold" text-anchor="end" fill="#111" stroke="#111" stroke-width="0.12">0</text>
<line x1="376.4" y1="597.4" x2="378.9" y2="597.4" stroke="#555" stroke-width="0.8"/>
<text x="372.4" y="599.7" font-size="6.4" font-weight="bold" text-anchor="end" fill="#111" stroke="#111" stroke-width="0.12">-5</text>
<line x1="376.4" y1="606.6" x2="378.9" y2="606.6" stroke="#555" stroke-width="0.8"/>
<text x="372.4" y="608.9" font-size="6.4" font-weight="bold" text-anchor="end" fill="#111" stroke="#111" stroke-width="0.12">-10</text>
<g transform="translate(360.6,515) rotate(-90)">
<text x="0.0" y="0.0" font-size="6.37" font-weight="bold" text-anchor="middle" fill="#111" stroke="#111" stroke-width="0.12" textLength="22.0" lengthAdjust="spacingAndGlyphs">Z score</text>
</g>
<text x="418.6" y="616.6" font-size="6.08" font-weight="bold" text-anchor="middle" fill="#111" stroke="#111" stroke-width="0.12" textLength="8.2" lengthAdjust="spacingAndGlyphs">0.0</text>
<text x="438.4" y="616.6" font-size="6.08" font-weight="bold" text-anchor="middle" fill="#111" stroke="#111" stroke-width="0.12" textLength="8.2" lengthAdjust="spacingAndGlyphs">0.5</text>
<text x="458.2" y="616.6" font-size="6.08" font-weight="bold" text-anchor="middle" fill="#111" stroke="#111" stroke-width="0.12" textLength="8.2" lengthAdjust="spacingAndGlyphs">1.0</text>
<text x="425.6" y="626.4" font-size="6.2" font-weight="bold" text-anchor="start" fill="#111" stroke="#111" stroke-width="0.12" textLength="21.4" lengthAdjust="spacingAndGlyphs">P-value</text>
<path d="M419.8 574.5 Q422 579 425.2 582" stroke="#b0b0b0" stroke-width="1.3" fill="none"/>
<path d="M438.3 587.8 L451 590 Q457.6 591 458.3 593.5 L458.5 599.7" stroke="#b0b0b0" stroke-width="1.4" fill="none" stroke-linecap="round"/>
<path d="M418.7 467.5 L418.7 566 Q418.9 572 420.2 576.5" stroke="#b42a35" stroke-width="1.5" fill="none"/>
<path d="M418.7 467.5 V474" stroke="#e0a0a8" stroke-width="1.5" fill="none"/>
<rect x="417.9" y="474.5" width="1.6" height="0.9" fill="#7a1a1a"/>
<rect x="417.9" y="477.7" width="1.6" height="0.9" fill="#5a1010"/>
<rect x="417.9" y="479.7" width="1.6" height="0.9" fill="#7a1a1a"/>
<rect x="417.9" y="482.7" width="1.6" height="0.9" fill="#8a2020"/>
<rect x="417.9" y="485.4" width="1.6" height="0.9" fill="#2a0a0a"/>
<rect x="417.9" y="487.7" width="1.6" height="0.9" fill="#8a2020"/>
<rect x="417.9" y="490.2" width="1.6" height="0.9" fill="#5a1010"/>
<rect x="417.9" y="492.2" width="1.6" height="0.9" fill="#7a1a1a"/>
<rect x="417.9" y="494.9" width="1.6" height="0.9" fill="#7a1a1a"/>
<rect x="417.9" y="497.6" width="1.6" height="0.9" fill="#8a2020"/>
<rect x="417.9" y="500.2" width="1.6" height="0.9" fill="#2a0a0a"/>
<rect x="417.9" y="502.6" width="1.6" height="0.9" fill="#7a1a1a"/>
<rect x="417.9" y="505.2" width="1.6" height="0.9" fill="#2a0a0a"/>
<rect x="417.9" y="507.3" width="1.6" height="0.9" fill="#5a1010"/>
<rect x="417.9" y="510.2" width="1.6" height="0.9" fill="#8a2020"/>
<rect x="417.9" y="511.8" width="1.6" height="0.9" fill="#8a2020"/>
<rect x="417.9" y="513.3" width="1.6" height="0.9" fill="#8a2020"/>
<rect x="417.9" y="516.4" width="1.6" height="0.9" fill="#8a2020"/>
<rect x="417.9" y="518.5" width="1.6" height="0.9" fill="#2a0a0a"/>
<rect x="417.9" y="519.9" width="1.6" height="0.9" fill="#2a0a0a"/>
<rect x="417.9" y="521.7" width="1.6" height="0.9" fill="#7a1a1a"/>
<rect x="417.9" y="524.9" width="1.6" height="0.9" fill="#2a0a0a"/>
<rect x="417.9" y="526.8" width="1.6" height="0.9" fill="#2a0a0a"/>
<rect x="417.9" y="529.9" width="1.6" height="0.9" fill="#8a2020"/>
<rect x="417.9" y="532.3" width="1.6" height="0.9" fill="#8a2020"/>
<rect x="417.9" y="534.2" width="1.6" height="0.9" fill="#5a1010"/>
<rect x="417.9" y="536.3" width="1.6" height="0.9" fill="#2a0a0a"/>
<rect x="417.9" y="538.5" width="1.6" height="0.9" fill="#5a1010"/>
<rect x="417.9" y="540.5" width="1.6" height="0.9" fill="#2a0a0a"/>
<rect x="417.9" y="543.6" width="1.6" height="0.9" fill="#8a2020"/>
<rect x="417.9" y="546.5" width="1.6" height="0.9" fill="#8a2020"/>
<rect x="417.9" y="549.3" width="1.6" height="0.9" fill="#8a2020"/>
<rect x="417.9" y="551.1" width="1.6" height="0.9" fill="#8a2020"/>
<rect x="417.9" y="553.1" width="1.6" height="0.9" fill="#2a0a0a"/>
<rect x="417.9" y="555.1" width="1.6" height="0.9" fill="#8a2020"/>
<rect x="417.9" y="557.1" width="1.6" height="0.9" fill="#2a0a0a"/>
<rect x="417.9" y="559.7" width="1.6" height="0.9" fill="#5a1010"/>
<rect x="417.9" y="561.7" width="1.6" height="0.9" fill="#5a1010"/>
<rect x="417.9" y="563.2" width="1.6" height="0.9" fill="#5a1010"/>
<rect x="417.9" y="564.7" width="1.6" height="0.9" fill="#2a0a0a"/>
<rect x="418.0" y="567.1" width="1.6" height="0.9" fill="#7a1a1a"/>
<rect x="418.4" y="570.2" width="1.6" height="0.9" fill="#2a0a0a"/>
<rect x="418.8" y="573.3" width="1.6" height="0.9" fill="#2a0a0a"/>
<circle cx="418.6" cy="432.6" r="0.85" fill="#111"/>
<circle cx="418.6" cy="453.7" r="0.85" fill="#111"/>
<circle cx="418.6" cy="460.6" r="0.85" fill="#111"/>
<circle cx="418.6" cy="465" r="0.85" fill="#111"/>
<text x="422.0" y="434.6" font-size="4.75" text-anchor="start" fill="#111" stroke="#111" stroke-width="0.08">KLF15</text>
<text x="421.9" y="455.6" font-size="4.75" text-anchor="start" fill="#111" stroke="#111" stroke-width="0.08">ZBTB14</text>
<text x="421.9" y="465.0" font-size="4.75" text-anchor="start" fill="#111" stroke="#111" stroke-width="0.08">NRF1</text>
<text x="421.9" y="484.0" font-size="4.75" text-anchor="start" fill="#111" stroke="#111" stroke-width="0.08">ELK1</text>
<text x="421.9" y="493.4" font-size="4.75" text-anchor="start" fill="#111" stroke="#111" stroke-width="0.08">EGR3</text>
<text x="422.2" y="507.4" font-size="4.75" text-anchor="start" fill="#111" stroke="#111" stroke-width="0.08">EGR4</text>
<text x="422.2" y="517.8" font-size="4.75" text-anchor="start" fill="#111" stroke="#111" stroke-width="0.08">MAZ</text>
<text x="422.2" y="525.8" font-size="4.75" text-anchor="start" fill="#111" stroke="#111" stroke-width="0.08">Creb3l2</text>
<text x="422.2" y="534.6" font-size="4.75" text-anchor="start" fill="#111" stroke="#111" stroke-width="0.08">SMAD5</text>
<text x="422.2" y="552.8" font-size="4.75" text-anchor="start" fill="#111" stroke="#111" stroke-width="0.08">MAX</text>
<text x="415.6" y="462.2" font-size="4.75" text-anchor="end" fill="#111" stroke="#111" stroke-width="0.08">KLF3</text>
<text x="415.6" y="466.8" font-size="4.75" text-anchor="end" fill="#111" stroke="#111" stroke-width="0.08">KLF2</text>
<text x="415.6" y="477.3" font-size="4.75" text-anchor="end" fill="#111" stroke="#111" stroke-width="0.08">KLF5</text>
<text x="415.6" y="481.8" font-size="4.75" text-anchor="end" fill="#111" stroke="#111" stroke-width="0.08">KLF6</text>
<text x="415.6" y="489.5" font-size="4.75" text-anchor="end" fill="#111" stroke="#111" stroke-width="0.08">EGR2</text>
<text x="415.6" y="496.8" font-size="4.75" text-anchor="end" fill="#111" stroke="#111" stroke-width="0.08">EGR1</text>
<text x="415.6" y="503.8" font-size="4.75" text-anchor="end" fill="#111" stroke="#111" stroke-width="0.08">KLF4</text>
<text x="415.6" y="508.3" font-size="4.75" text-anchor="end" fill="#111" stroke="#111" stroke-width="0.08">MYCN</text>
<text x="415.6" y="516.8" font-size="4.75" text-anchor="end" fill="#111" stroke="#111" stroke-width="0.08">MYC</text>
<text x="415.6" y="525.6" font-size="4.75" text-anchor="end" fill="#111" stroke="#111" stroke-width="0.08">CREB3L4(var.2)</text>
<text x="415.6" y="530.0" font-size="4.75" text-anchor="end" fill="#111" stroke="#111" stroke-width="0.08">CREB3L4</text>
<text x="415.6" y="542.3" font-size="4.75" text-anchor="end" fill="#111" stroke="#111" stroke-width="0.08">KLF9</text>
<text x="415.6" y="548.0" font-size="4.75" text-anchor="end" fill="#111" stroke="#111" stroke-width="0.08">MAX::MYC</text>
<text x="415.6" y="552.4" font-size="4.75" text-anchor="end" fill="#111" stroke="#111" stroke-width="0.08">CREB3</text>
<text x="401.8" y="556.3" font-size="4.75" text-anchor="end" fill="#111" stroke="#111" stroke-width="0.08">SMAD3</text>
<text x="401.0" y="563.2" font-size="4.75" text-anchor="end" fill="#111" stroke="#111" stroke-width="0.08">CREB3L1</text>
<text x="401.8" y="568.4" font-size="4.75" text-anchor="end" fill="#111" stroke="#111" stroke-width="0.08">REL</text>
<text x="417.0" y="567.6" font-size="4.75" text-anchor="end" fill="#111" stroke="#111" stroke-width="0.08">ATF6</text>
<text x="417.0" y="572.4" font-size="4.75" text-anchor="end" fill="#111" stroke="#111" stroke-width="0.08">ATF3</text>
<text x="437.5" y="555.8" font-size="4.75" text-anchor="start" fill="#111" stroke="#111" stroke-width="0.08">XBP1</text>
<text x="436.7" y="560.5" font-size="4.75" text-anchor="start" fill="#111" stroke="#111" stroke-width="0.08">NFKB2</text>
<text x="436.7" y="565.2" font-size="4.75" text-anchor="start" fill="#111" stroke="#111" stroke-width="0.08">Smad4</text>
<text x="432.5" y="570.2" font-size="4.75" text-anchor="start" fill="#111" stroke="#111" stroke-width="0.08">SREBF1</text>
<text x="432.5" y="574.0" font-size="4.75" text-anchor="start" fill="#111" stroke="#111" stroke-width="0.08">RELA</text>
<text x="432.5" y="578.3" font-size="4.75" text-anchor="start" fill="#111" stroke="#111" stroke-width="0.08">NFKB1</text>
<path d="M402 554.6L418 553.2M401.5 560.3L418 554.5M402 566.4L418 556M415.8 552.8H408M437 554.2L419.5 553.8M436.5 558.8L419.5 555M436.5 563.5L419.5 556.5M432 568.4L421 564.5M432 572L421 565M432 576.2L421 565.5" stroke="#222" stroke-width="0.55" fill="none"/>
</svg>
</body></html>
